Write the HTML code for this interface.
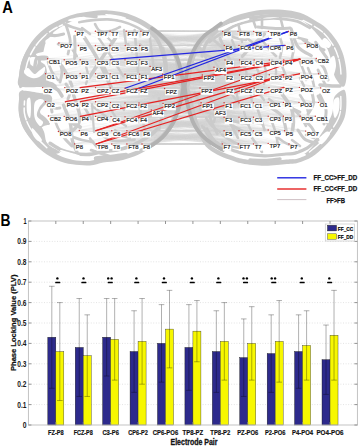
<!DOCTYPE html>
<html><head><meta charset="utf-8"><style>
html,body{margin:0;padding:0;background:#fff;}
svg{display:block;font-family:"Liberation Sans",sans-serif;}
</style></head><body>
<svg width="359" height="446" viewBox="0 0 359 446">
<rect width="359" height="446" fill="#fff"/>
<defs><linearGradient id="mg" x1="0" y1="0" x2="359" y2="0" gradientUnits="userSpaceOnUse"><stop offset="0.28" stop-color="#fff" stop-opacity="0"/><stop offset="0.43" stop-color="#fff" stop-opacity="1"/><stop offset="0.63" stop-color="#fff" stop-opacity="1"/><stop offset="0.78" stop-color="#fff" stop-opacity="0"/></linearGradient><mask id="mm"><rect x="0" y="0" width="359" height="170" fill="url(#mg)"/></mask></defs><g stroke="#d2d2d2" stroke-width="0.3" stroke-opacity="0.55"><line x1="58.4" y1="131.4" x2="253.5" y2="130.8"/><line x1="47.6" y1="58.7" x2="318.4" y2="102.4"/><line x1="125.0" y1="116.8" x2="239.0" y2="130.8"/><line x1="47.6" y1="58.7" x2="268.2" y2="102.4"/><line x1="45.6" y1="101.7" x2="214.0" y2="67.3"/><line x1="95.5" y1="101.7" x2="268.2" y2="116.2"/><line x1="111.8" y1="144.0" x2="224.1" y2="117.2"/><line x1="45.6" y1="73.7" x2="239.5" y2="88.0"/><line x1="96.1" y1="144.0" x2="268.2" y2="130.0"/><line x1="64.5" y1="73.7" x2="318.4" y2="102.4"/><line x1="139.0" y1="116.8" x2="283.4" y2="102.4"/><line x1="95.4" y1="31.2" x2="254.2" y2="75.0"/><line x1="110.2" y1="73.7" x2="200.0" y2="88.0"/><line x1="110.0" y1="45.5" x2="225.0" y2="88.0"/><line x1="47.6" y1="58.7" x2="299.0" y2="102.4"/><line x1="110.2" y1="73.7" x2="283.8" y2="60.0"/><line x1="139.0" y1="116.8" x2="200.0" y2="88.0"/><line x1="75.3" y1="31.2" x2="300.2" y2="59.2"/><line x1="95.5" y1="59.7" x2="269.0" y2="87.6"/><line x1="111.8" y1="144.0" x2="239.0" y2="102.7"/><line x1="42.6" y1="87.6" x2="239.5" y2="59.9"/><line x1="58.4" y1="131.4" x2="200.0" y2="88.0"/><line x1="125.0" y1="88.3" x2="239.0" y2="45.4"/><line x1="80.1" y1="59.7" x2="269.3" y2="74.7"/><line x1="125.0" y1="74.3" x2="300.1" y2="116.2"/><line x1="125.0" y1="59.7" x2="253.7" y2="45.4"/><line x1="164.6" y1="88.5" x2="239.5" y2="75.0"/><line x1="139.8" y1="45.5" x2="239.5" y2="75.0"/><line x1="126.9" y1="130.7" x2="201.1" y2="102.7"/><line x1="80.1" y1="87.6" x2="202.3" y2="75.0"/><line x1="125.0" y1="59.7" x2="269.3" y2="60.0"/><line x1="139.0" y1="116.8" x2="268.2" y2="143.4"/><line x1="142.0" y1="130.7" x2="299.0" y2="102.4"/><line x1="111.8" y1="130.7" x2="268.2" y2="130.0"/><line x1="110.1" y1="31.2" x2="224.3" y2="45.4"/><line x1="95.5" y1="87.6" x2="200.0" y2="88.0"/><line x1="80.1" y1="59.7" x2="318.5" y2="73.8"/><line x1="126.9" y1="130.7" x2="305.7" y2="131.1"/><line x1="110.2" y1="73.7" x2="222.6" y2="31.4"/><line x1="142.0" y1="130.7" x2="268.2" y2="130.0"/><line x1="110.2" y1="73.7" x2="202.3" y2="75.0"/><line x1="64.5" y1="73.7" x2="268.2" y2="102.4"/><line x1="45.6" y1="101.7" x2="224.1" y2="117.2"/><line x1="125.0" y1="116.8" x2="239.0" y2="102.7"/><line x1="65.4" y1="101.7" x2="254.2" y2="88.0"/><line x1="80.1" y1="87.6" x2="284.0" y2="87.4"/><line x1="95.5" y1="116.4" x2="283.4" y2="116.2"/><line x1="80.1" y1="87.6" x2="283.8" y2="60.0"/><line x1="95.8" y1="130.7" x2="224.1" y2="130.8"/><line x1="45.6" y1="73.7" x2="239.0" y2="102.7"/><line x1="125.0" y1="103.0" x2="225.0" y2="88.0"/><line x1="126.9" y1="130.7" x2="300.1" y2="116.2"/><line x1="80.4" y1="101.7" x2="239.0" y2="130.8"/><line x1="125.0" y1="88.3" x2="253.5" y2="117.2"/><line x1="142.0" y1="130.7" x2="289.0" y2="144.0"/><line x1="96.1" y1="144.0" x2="201.1" y2="102.7"/><line x1="125.0" y1="59.7" x2="305.2" y2="43.4"/><line x1="125.0" y1="59.7" x2="239.5" y2="88.0"/><line x1="151.3" y1="110.0" x2="299.4" y2="87.4"/><line x1="125.0" y1="74.3" x2="268.2" y2="116.2"/><line x1="126.9" y1="130.7" x2="238.3" y2="143.9"/><line x1="163.0" y1="103.4" x2="254.2" y2="75.0"/><line x1="64.5" y1="73.7" x2="200.0" y2="88.0"/><line x1="95.5" y1="59.7" x2="268.2" y2="102.4"/><line x1="42.6" y1="87.6" x2="225.0" y2="59.9"/><line x1="110.5" y1="102.5" x2="253.5" y2="143.9"/><line x1="95.8" y1="130.7" x2="300.1" y2="116.2"/><line x1="64.5" y1="73.7" x2="318.5" y2="73.8"/><line x1="150.1" y1="66.4" x2="299.4" y2="87.4"/><line x1="125.0" y1="74.3" x2="288.5" y2="31.4"/><line x1="80.4" y1="116.4" x2="202.3" y2="75.0"/><line x1="74.6" y1="143.9" x2="318.4" y2="102.4"/><line x1="95.4" y1="45.5" x2="200.0" y2="88.0"/><line x1="140.9" y1="31.2" x2="283.8" y2="74.7"/><line x1="163.0" y1="103.4" x2="284.0" y2="87.4"/><line x1="58.4" y1="131.4" x2="224.1" y2="117.2"/><line x1="80.1" y1="73.5" x2="315.3" y2="116.2"/><line x1="48.4" y1="115.9" x2="201.1" y2="102.7"/><line x1="48.4" y1="115.9" x2="318.4" y2="102.4"/><line x1="79.3" y1="130.5" x2="224.1" y2="102.7"/><line x1="110.2" y1="88.0" x2="224.1" y2="102.7"/><line x1="95.5" y1="116.4" x2="284.0" y2="87.4"/><line x1="42.6" y1="87.6" x2="285.1" y2="45.4"/><line x1="42.6" y1="87.6" x2="300.1" y2="116.2"/><line x1="142.0" y1="130.7" x2="201.1" y2="102.7"/><line x1="139.0" y1="88.3" x2="316.3" y2="58.4"/><line x1="139.0" y1="88.3" x2="239.0" y2="117.2"/><line x1="95.5" y1="101.7" x2="239.5" y2="88.0"/><line x1="95.5" y1="87.6" x2="269.3" y2="60.0"/><line x1="95.5" y1="87.6" x2="239.0" y2="45.4"/><line x1="64.2" y1="116.4" x2="213.8" y2="109.6"/><line x1="139.0" y1="88.3" x2="224.1" y2="130.8"/><line x1="64.2" y1="59.7" x2="299.0" y2="102.4"/><line x1="110.2" y1="88.0" x2="268.2" y2="102.4"/><line x1="142.0" y1="130.7" x2="253.5" y2="143.9"/><line x1="125.2" y1="45.5" x2="222.6" y2="31.4"/><line x1="74.6" y1="143.9" x2="238.3" y2="143.9"/><line x1="126.9" y1="130.7" x2="225.0" y2="88.0"/><line x1="139.0" y1="116.8" x2="268.2" y2="102.4"/><line x1="95.5" y1="73.7" x2="269.3" y2="60.0"/><line x1="95.5" y1="59.7" x2="254.2" y2="88.0"/><line x1="79.3" y1="130.5" x2="239.5" y2="88.0"/><line x1="95.5" y1="73.7" x2="269.0" y2="87.6"/><line x1="125.0" y1="116.8" x2="253.5" y2="117.2"/><line x1="164.6" y1="88.5" x2="253.5" y2="102.7"/><line x1="125.0" y1="59.7" x2="268.4" y2="31.4"/><line x1="95.4" y1="31.2" x2="225.0" y2="59.9"/><line x1="150.1" y1="66.4" x2="268.4" y2="31.4"/><line x1="95.5" y1="59.7" x2="299.4" y2="73.8"/><line x1="126.9" y1="144.0" x2="300.1" y2="116.2"/><line x1="80.1" y1="73.5" x2="283.4" y2="102.4"/><line x1="80.4" y1="116.4" x2="239.5" y2="75.0"/><line x1="139.8" y1="45.5" x2="202.3" y2="75.0"/><line x1="139.0" y1="88.3" x2="254.2" y2="75.0"/><line x1="110.0" y1="45.5" x2="224.3" y2="45.4"/><line x1="48.4" y1="115.9" x2="225.0" y2="75.0"/><line x1="151.3" y1="110.0" x2="253.5" y2="130.8"/><line x1="110.2" y1="88.0" x2="284.5" y2="130.7"/><line x1="125.0" y1="88.3" x2="299.4" y2="87.4"/><line x1="110.1" y1="31.2" x2="214.0" y2="67.3"/><line x1="164.6" y1="88.5" x2="239.0" y2="102.7"/><line x1="65.4" y1="101.7" x2="283.8" y2="74.7"/><line x1="125.0" y1="74.3" x2="225.0" y2="88.0"/><line x1="80.1" y1="73.5" x2="288.5" y2="31.4"/><line x1="111.8" y1="130.7" x2="238.3" y2="143.9"/><line x1="64.5" y1="73.7" x2="300.1" y2="116.2"/><line x1="125.2" y1="45.5" x2="225.0" y2="59.9"/><line x1="95.5" y1="116.4" x2="239.5" y2="88.0"/><line x1="110.5" y1="102.5" x2="268.2" y2="116.2"/><line x1="150.1" y1="66.4" x2="238.0" y2="31.4"/><line x1="125.0" y1="74.3" x2="224.1" y2="117.2"/><line x1="64.2" y1="59.7" x2="202.3" y2="75.0"/><line x1="80.1" y1="59.7" x2="299.0" y2="102.4"/><line x1="65.4" y1="101.7" x2="283.8" y2="60.0"/><line x1="111.0" y1="116.6" x2="238.3" y2="143.9"/><line x1="163.0" y1="103.4" x2="225.0" y2="75.0"/><line x1="79.3" y1="130.5" x2="268.2" y2="143.4"/><line x1="125.0" y1="88.3" x2="316.3" y2="58.4"/><line x1="110.2" y1="88.0" x2="269.3" y2="60.0"/><line x1="111.8" y1="144.0" x2="224.1" y2="130.8"/><line x1="126.9" y1="144.0" x2="253.5" y2="117.2"/><line x1="125.0" y1="88.3" x2="239.0" y2="117.2"/><line x1="125.0" y1="88.3" x2="200.0" y2="88.0"/><line x1="95.5" y1="73.7" x2="238.0" y2="31.4"/><line x1="139.8" y1="45.5" x2="238.0" y2="31.4"/><line x1="111.8" y1="144.0" x2="268.2" y2="130.0"/><line x1="111.0" y1="116.6" x2="222.3" y2="143.9"/><line x1="150.1" y1="66.4" x2="320.7" y2="87.9"/><line x1="45.6" y1="73.7" x2="225.0" y2="75.0"/><line x1="139.0" y1="103.0" x2="268.2" y2="130.0"/><line x1="139.6" y1="59.7" x2="225.0" y2="88.0"/><line x1="110.2" y1="73.7" x2="268.2" y2="116.2"/><line x1="139.0" y1="88.3" x2="239.5" y2="75.0"/><line x1="95.5" y1="101.7" x2="225.0" y2="59.9"/><line x1="111.0" y1="116.6" x2="318.5" y2="73.8"/><line x1="80.1" y1="87.6" x2="269.3" y2="74.7"/><line x1="162.6" y1="74.3" x2="269.3" y2="60.0"/><line x1="95.5" y1="73.7" x2="268.4" y2="31.4"/><line x1="139.0" y1="116.8" x2="239.0" y2="102.7"/><line x1="45.6" y1="73.7" x2="224.3" y2="45.4"/><line x1="110.5" y1="102.5" x2="268.2" y2="130.0"/><line x1="111.8" y1="130.7" x2="268.2" y2="143.4"/><line x1="64.8" y1="87.6" x2="239.5" y2="88.0"/><line x1="95.8" y1="130.7" x2="269.0" y2="87.6"/><line x1="126.2" y1="31.2" x2="268.4" y2="31.4"/><line x1="163.0" y1="103.4" x2="299.0" y2="102.4"/><line x1="80.1" y1="87.6" x2="299.4" y2="87.4"/><line x1="163.0" y1="103.4" x2="239.5" y2="88.0"/><line x1="139.6" y1="59.7" x2="239.5" y2="59.9"/><line x1="78.4" y1="45.5" x2="283.8" y2="74.7"/><line x1="95.5" y1="73.7" x2="285.1" y2="45.4"/><line x1="110.2" y1="59.7" x2="299.0" y2="102.4"/><line x1="151.3" y1="110.0" x2="305.7" y2="131.1"/><line x1="139.8" y1="45.5" x2="239.5" y2="88.0"/><line x1="64.2" y1="59.7" x2="254.2" y2="59.9"/><line x1="45.6" y1="73.7" x2="238.0" y2="31.4"/><line x1="164.6" y1="88.5" x2="253.5" y2="117.2"/><line x1="95.4" y1="45.5" x2="283.8" y2="74.7"/><line x1="110.5" y1="102.5" x2="283.4" y2="102.4"/><line x1="65.4" y1="101.7" x2="299.0" y2="102.4"/><line x1="139.0" y1="88.3" x2="269.0" y2="87.6"/><line x1="150.1" y1="66.4" x2="225.0" y2="75.0"/><line x1="110.0" y1="45.5" x2="268.4" y2="31.4"/><line x1="95.5" y1="116.4" x2="289.0" y2="144.0"/><line x1="110.2" y1="88.0" x2="283.4" y2="116.2"/><line x1="162.6" y1="74.3" x2="222.6" y2="31.4"/><line x1="95.5" y1="101.7" x2="299.0" y2="102.4"/><line x1="125.0" y1="103.0" x2="283.8" y2="74.7"/><line x1="110.0" y1="45.5" x2="239.5" y2="59.9"/><line x1="80.1" y1="59.7" x2="284.0" y2="87.4"/><line x1="48.4" y1="115.9" x2="269.0" y2="87.6"/><line x1="95.5" y1="87.6" x2="283.8" y2="74.7"/><line x1="139.0" y1="116.8" x2="299.0" y2="102.4"/><line x1="80.1" y1="59.7" x2="201.1" y2="102.7"/><line x1="64.2" y1="59.7" x2="238.0" y2="31.4"/><line x1="80.4" y1="116.4" x2="283.4" y2="116.2"/><line x1="163.0" y1="103.4" x2="238.3" y2="143.9"/><line x1="111.8" y1="130.7" x2="284.0" y2="87.4"/><line x1="95.5" y1="116.4" x2="269.0" y2="87.6"/><line x1="65.4" y1="101.7" x2="299.4" y2="73.8"/><line x1="47.6" y1="58.7" x2="269.3" y2="60.0"/><line x1="162.6" y1="74.3" x2="299.0" y2="102.4"/><line x1="95.4" y1="31.2" x2="239.5" y2="59.9"/><line x1="64.5" y1="73.7" x2="284.0" y2="87.4"/><line x1="125.0" y1="116.8" x2="268.2" y2="116.2"/><line x1="64.8" y1="87.6" x2="224.3" y2="45.4"/><line x1="110.5" y1="102.5" x2="222.3" y2="143.9"/><line x1="80.1" y1="73.5" x2="299.4" y2="73.8"/><line x1="95.5" y1="73.7" x2="254.2" y2="75.0"/><line x1="126.9" y1="130.7" x2="315.3" y2="116.2"/><line x1="110.5" y1="102.5" x2="239.5" y2="59.9"/><line x1="95.5" y1="59.7" x2="283.8" y2="60.0"/><line x1="48.4" y1="115.9" x2="222.3" y2="143.9"/><line x1="95.4" y1="45.5" x2="225.0" y2="88.0"/><line x1="47.6" y1="58.7" x2="269.3" y2="74.7"/><line x1="80.4" y1="101.7" x2="254.2" y2="59.9"/><line x1="64.5" y1="73.7" x2="268.2" y2="116.2"/><line x1="78.4" y1="45.5" x2="300.2" y2="59.2"/><line x1="80.1" y1="87.6" x2="269.0" y2="87.6"/><line x1="139.0" y1="103.0" x2="305.7" y2="131.1"/><line x1="111.0" y1="116.6" x2="225.0" y2="88.0"/><line x1="95.5" y1="59.7" x2="238.0" y2="31.4"/><line x1="58.4" y1="131.4" x2="253.5" y2="117.2"/><line x1="151.3" y1="110.0" x2="283.8" y2="74.7"/><line x1="125.0" y1="74.3" x2="283.4" y2="102.4"/><line x1="78.4" y1="45.5" x2="239.5" y2="59.9"/><line x1="64.8" y1="87.6" x2="253.7" y2="45.4"/><line x1="95.5" y1="116.4" x2="320.7" y2="87.9"/><line x1="95.5" y1="87.6" x2="254.2" y2="88.0"/><line x1="95.5" y1="116.4" x2="238.3" y2="143.9"/><line x1="110.0" y1="45.5" x2="300.2" y2="59.2"/><line x1="80.1" y1="87.6" x2="254.2" y2="59.9"/><line x1="139.0" y1="116.8" x2="238.3" y2="143.9"/><line x1="110.2" y1="73.7" x2="283.8" y2="74.7"/><line x1="64.8" y1="87.6" x2="268.4" y2="45.4"/><line x1="78.4" y1="45.5" x2="305.2" y2="43.4"/><line x1="80.4" y1="116.4" x2="284.0" y2="87.4"/><line x1="111.0" y1="116.6" x2="253.5" y2="130.8"/><line x1="125.2" y1="45.5" x2="320.7" y2="87.9"/><line x1="80.4" y1="101.7" x2="283.4" y2="116.2"/><line x1="139.0" y1="103.0" x2="201.1" y2="102.7"/><line x1="110.2" y1="88.0" x2="224.3" y2="45.4"/><line x1="110.2" y1="88.0" x2="299.4" y2="73.8"/><line x1="139.0" y1="88.3" x2="224.1" y2="117.2"/><line x1="80.1" y1="59.7" x2="283.4" y2="102.4"/><line x1="79.3" y1="130.5" x2="222.3" y2="143.9"/><line x1="139.0" y1="88.3" x2="305.2" y2="43.4"/><line x1="80.1" y1="73.5" x2="239.0" y2="117.2"/><line x1="111.0" y1="116.6" x2="284.5" y2="130.7"/><line x1="139.0" y1="116.8" x2="222.3" y2="143.9"/><line x1="142.0" y1="144.0" x2="239.0" y2="102.7"/><line x1="79.3" y1="130.5" x2="253.5" y2="102.7"/><line x1="96.1" y1="144.0" x2="300.1" y2="116.2"/><line x1="47.6" y1="58.7" x2="214.0" y2="67.3"/><line x1="111.8" y1="144.0" x2="283.4" y2="102.4"/><line x1="126.2" y1="31.2" x2="253.7" y2="31.4"/><line x1="64.5" y1="73.7" x2="225.0" y2="59.9"/><line x1="95.5" y1="87.6" x2="316.3" y2="58.4"/><line x1="95.5" y1="59.7" x2="239.5" y2="75.0"/><line x1="42.6" y1="87.6" x2="213.8" y2="109.6"/><line x1="79.3" y1="130.5" x2="253.5" y2="143.9"/><line x1="65.4" y1="101.7" x2="299.4" y2="87.4"/><line x1="139.6" y1="59.7" x2="253.7" y2="45.4"/><line x1="48.4" y1="115.9" x2="200.0" y2="88.0"/><line x1="125.0" y1="103.0" x2="289.0" y2="144.0"/><line x1="95.5" y1="59.7" x2="318.5" y2="73.8"/><line x1="95.5" y1="116.4" x2="253.5" y2="117.2"/><line x1="111.8" y1="130.7" x2="213.8" y2="109.6"/><line x1="74.6" y1="143.9" x2="300.1" y2="116.2"/><line x1="139.6" y1="74.3" x2="200.0" y2="88.0"/><line x1="151.3" y1="110.0" x2="253.5" y2="143.9"/><line x1="64.8" y1="87.6" x2="239.0" y2="117.2"/><line x1="45.6" y1="73.7" x2="300.2" y2="59.2"/><line x1="139.6" y1="74.3" x2="269.0" y2="87.6"/><line x1="110.0" y1="45.5" x2="320.7" y2="87.9"/><line x1="150.1" y1="66.4" x2="299.0" y2="102.4"/><line x1="48.4" y1="115.9" x2="213.8" y2="109.6"/><line x1="80.1" y1="73.5" x2="269.3" y2="74.7"/><line x1="95.4" y1="45.5" x2="254.2" y2="59.9"/><line x1="47.6" y1="58.7" x2="316.3" y2="58.4"/><line x1="64.2" y1="59.7" x2="318.4" y2="102.4"/><line x1="110.5" y1="102.5" x2="283.8" y2="74.7"/><line x1="80.4" y1="101.7" x2="239.5" y2="75.0"/><line x1="110.5" y1="102.5" x2="253.5" y2="102.7"/><line x1="110.2" y1="88.0" x2="213.8" y2="109.6"/><line x1="125.0" y1="59.7" x2="239.5" y2="59.9"/><line x1="79.3" y1="130.5" x2="300.1" y2="116.2"/><line x1="65.4" y1="101.7" x2="289.0" y2="144.0"/><line x1="58.9" y1="42.9" x2="225.0" y2="59.9"/><line x1="95.5" y1="116.4" x2="224.1" y2="130.8"/><line x1="75.3" y1="31.2" x2="222.6" y2="31.4"/><line x1="95.5" y1="59.7" x2="299.0" y2="102.4"/><line x1="125.0" y1="88.3" x2="284.5" y2="130.7"/><line x1="95.5" y1="101.7" x2="318.5" y2="73.8"/><line x1="110.0" y1="45.5" x2="269.0" y2="87.6"/><line x1="164.6" y1="88.5" x2="318.5" y2="73.8"/><line x1="45.6" y1="73.7" x2="254.2" y2="75.0"/><line x1="64.2" y1="116.4" x2="224.1" y2="130.8"/><line x1="125.2" y1="45.5" x2="202.3" y2="75.0"/><line x1="80.4" y1="101.7" x2="202.3" y2="75.0"/><line x1="47.6" y1="58.7" x2="253.7" y2="31.4"/><line x1="80.1" y1="73.5" x2="316.3" y2="58.4"/><line x1="125.0" y1="103.0" x2="239.5" y2="88.0"/><line x1="64.5" y1="73.7" x2="224.3" y2="45.4"/><line x1="80.4" y1="116.4" x2="269.3" y2="74.7"/><line x1="64.8" y1="87.6" x2="318.5" y2="73.8"/><line x1="80.1" y1="87.6" x2="239.5" y2="59.9"/><line x1="95.4" y1="45.5" x2="225.0" y2="75.0"/><line x1="139.0" y1="88.3" x2="239.5" y2="59.9"/><line x1="139.8" y1="45.5" x2="268.4" y2="45.4"/><line x1="111.8" y1="144.0" x2="201.1" y2="102.7"/><line x1="75.3" y1="31.2" x2="225.0" y2="75.0"/><line x1="45.6" y1="101.7" x2="284.0" y2="87.4"/><line x1="80.4" y1="116.4" x2="213.8" y2="109.6"/><line x1="151.3" y1="110.0" x2="213.8" y2="109.6"/><line x1="95.5" y1="87.6" x2="225.0" y2="59.9"/><line x1="58.9" y1="42.9" x2="269.3" y2="60.0"/><line x1="163.0" y1="103.4" x2="283.4" y2="116.2"/><line x1="95.5" y1="116.4" x2="283.8" y2="74.7"/><line x1="150.1" y1="66.4" x2="269.0" y2="87.6"/><line x1="42.6" y1="87.6" x2="315.3" y2="116.2"/><line x1="95.5" y1="59.7" x2="269.3" y2="74.7"/><line x1="162.6" y1="74.3" x2="253.5" y2="102.7"/><line x1="125.0" y1="59.7" x2="268.2" y2="102.4"/><line x1="45.6" y1="101.7" x2="300.1" y2="116.2"/><line x1="139.0" y1="88.3" x2="224.3" y2="45.4"/><line x1="78.4" y1="45.5" x2="254.2" y2="75.0"/><line x1="110.2" y1="88.0" x2="305.7" y2="131.1"/><line x1="142.0" y1="130.7" x2="305.7" y2="131.1"/><line x1="126.9" y1="130.7" x2="320.7" y2="87.9"/><line x1="64.2" y1="59.7" x2="253.7" y2="31.4"/><line x1="95.5" y1="116.4" x2="269.3" y2="74.7"/><line x1="42.6" y1="87.6" x2="253.7" y2="45.4"/><line x1="126.9" y1="130.7" x2="254.2" y2="88.0"/><line x1="80.4" y1="101.7" x2="318.4" y2="102.4"/><line x1="78.4" y1="45.5" x2="316.3" y2="58.4"/><line x1="58.9" y1="42.9" x2="285.1" y2="45.4"/><line x1="139.0" y1="116.8" x2="253.5" y2="143.9"/><line x1="47.6" y1="58.7" x2="284.0" y2="87.4"/><line x1="65.4" y1="101.7" x2="239.5" y2="88.0"/><line x1="64.5" y1="73.7" x2="224.1" y2="102.7"/><line x1="110.5" y1="102.5" x2="269.0" y2="87.6"/><line x1="95.5" y1="101.7" x2="299.4" y2="87.4"/><line x1="139.0" y1="88.3" x2="253.5" y2="117.2"/><line x1="164.6" y1="88.5" x2="253.5" y2="130.8"/><line x1="64.2" y1="116.4" x2="284.5" y2="130.7"/><line x1="64.5" y1="73.7" x2="224.1" y2="117.2"/><line x1="80.4" y1="101.7" x2="284.5" y2="130.7"/><line x1="139.6" y1="74.3" x2="254.2" y2="88.0"/><line x1="95.5" y1="59.7" x2="268.4" y2="31.4"/><line x1="58.4" y1="131.4" x2="284.5" y2="130.7"/><line x1="95.5" y1="87.6" x2="283.4" y2="116.2"/><line x1="139.0" y1="103.0" x2="254.2" y2="88.0"/><line x1="58.9" y1="42.9" x2="299.4" y2="87.4"/><line x1="140.9" y1="31.2" x2="305.2" y2="43.4"/><line x1="45.6" y1="73.7" x2="239.0" y2="117.2"/><line x1="95.5" y1="87.6" x2="239.5" y2="59.9"/><line x1="151.3" y1="110.0" x2="239.5" y2="88.0"/><line x1="95.5" y1="59.7" x2="222.6" y2="31.4"/><line x1="111.0" y1="116.6" x2="253.5" y2="102.7"/><line x1="48.4" y1="115.9" x2="253.5" y2="102.7"/><line x1="79.3" y1="130.5" x2="284.5" y2="130.7"/><line x1="110.5" y1="102.5" x2="254.2" y2="88.0"/><line x1="65.4" y1="101.7" x2="238.3" y2="143.9"/><line x1="139.0" y1="116.8" x2="224.1" y2="117.2"/><line x1="150.1" y1="66.4" x2="299.4" y2="73.8"/><line x1="64.5" y1="73.7" x2="283.8" y2="60.0"/><line x1="125.2" y1="45.5" x2="253.7" y2="45.4"/><line x1="95.5" y1="73.7" x2="201.1" y2="102.7"/><line x1="139.6" y1="59.7" x2="214.0" y2="67.3"/><line x1="125.0" y1="103.0" x2="224.1" y2="130.8"/><line x1="110.2" y1="73.7" x2="269.0" y2="87.6"/><line x1="58.4" y1="131.4" x2="201.1" y2="102.7"/><line x1="140.9" y1="31.2" x2="222.6" y2="31.4"/><line x1="139.0" y1="88.3" x2="300.2" y2="59.2"/><line x1="164.6" y1="88.5" x2="254.2" y2="59.9"/><line x1="139.0" y1="116.8" x2="201.1" y2="102.7"/><line x1="125.0" y1="103.0" x2="284.0" y2="87.4"/><line x1="80.1" y1="59.7" x2="283.8" y2="60.0"/><line x1="110.5" y1="102.5" x2="315.3" y2="116.2"/><line x1="125.0" y1="103.0" x2="239.0" y2="102.7"/><line x1="125.0" y1="103.0" x2="283.4" y2="102.4"/><line x1="80.4" y1="116.4" x2="224.1" y2="117.2"/><line x1="140.9" y1="31.2" x2="299.4" y2="73.8"/><line x1="64.2" y1="59.7" x2="269.0" y2="87.6"/><line x1="125.0" y1="74.3" x2="299.0" y2="102.4"/><line x1="125.0" y1="74.3" x2="299.4" y2="73.8"/><line x1="126.9" y1="144.0" x2="224.1" y2="102.7"/><line x1="162.6" y1="74.3" x2="268.4" y2="45.4"/><line x1="64.8" y1="87.6" x2="254.2" y2="59.9"/><line x1="139.0" y1="116.8" x2="268.2" y2="116.2"/><line x1="58.4" y1="131.4" x2="239.0" y2="130.8"/><line x1="58.9" y1="42.9" x2="316.3" y2="58.4"/><line x1="126.2" y1="31.2" x2="299.4" y2="73.8"/><line x1="125.2" y1="45.5" x2="200.0" y2="88.0"/><line x1="125.0" y1="88.3" x2="315.3" y2="116.2"/><line x1="139.0" y1="103.0" x2="283.8" y2="60.0"/><line x1="125.0" y1="74.3" x2="283.8" y2="60.0"/><line x1="162.6" y1="74.3" x2="284.0" y2="87.4"/><line x1="110.2" y1="73.7" x2="225.0" y2="88.0"/><line x1="164.6" y1="88.5" x2="300.2" y2="59.2"/><line x1="80.1" y1="87.6" x2="269.3" y2="60.0"/><line x1="45.6" y1="73.7" x2="224.1" y2="117.2"/><line x1="95.5" y1="59.7" x2="283.8" y2="74.7"/><line x1="150.1" y1="66.4" x2="214.0" y2="67.3"/><line x1="139.0" y1="116.8" x2="224.1" y2="130.8"/><line x1="80.4" y1="101.7" x2="253.5" y2="117.2"/><line x1="142.0" y1="130.7" x2="254.2" y2="88.0"/><line x1="64.2" y1="59.7" x2="225.0" y2="75.0"/><line x1="125.2" y1="45.5" x2="268.4" y2="45.4"/><line x1="48.4" y1="115.9" x2="315.3" y2="116.2"/><line x1="139.0" y1="88.3" x2="224.1" y2="102.7"/><line x1="126.9" y1="144.0" x2="315.3" y2="116.2"/><line x1="110.1" y1="31.2" x2="239.5" y2="59.9"/><line x1="64.5" y1="73.7" x2="283.4" y2="116.2"/><line x1="42.6" y1="87.6" x2="214.0" y2="67.3"/><line x1="42.6" y1="87.6" x2="318.4" y2="102.4"/><line x1="95.8" y1="130.7" x2="305.7" y2="131.1"/><line x1="139.0" y1="103.0" x2="269.0" y2="87.6"/><line x1="126.9" y1="144.0" x2="239.0" y2="117.2"/><line x1="65.4" y1="101.7" x2="253.5" y2="102.7"/><line x1="80.1" y1="73.5" x2="254.2" y2="59.9"/><line x1="75.3" y1="31.2" x2="316.3" y2="58.4"/><line x1="95.5" y1="116.4" x2="224.1" y2="102.7"/><line x1="42.6" y1="87.6" x2="268.2" y2="102.4"/><line x1="139.0" y1="103.0" x2="268.2" y2="102.4"/><line x1="58.9" y1="42.9" x2="305.2" y2="43.4"/><line x1="95.5" y1="87.6" x2="239.0" y2="102.7"/><line x1="164.6" y1="88.5" x2="285.1" y2="45.4"/><line x1="80.4" y1="116.4" x2="239.0" y2="102.7"/><line x1="110.5" y1="102.5" x2="305.7" y2="131.1"/><line x1="111.8" y1="144.0" x2="239.0" y2="117.2"/><line x1="139.0" y1="88.3" x2="299.0" y2="102.4"/><line x1="74.6" y1="143.9" x2="283.4" y2="102.4"/><line x1="95.4" y1="45.5" x2="300.2" y2="59.2"/><line x1="110.2" y1="59.7" x2="305.2" y2="43.4"/><line x1="163.0" y1="103.4" x2="254.2" y2="59.9"/><line x1="126.9" y1="144.0" x2="222.3" y2="143.9"/><line x1="64.5" y1="73.7" x2="238.0" y2="31.4"/><line x1="80.1" y1="59.7" x2="300.2" y2="59.2"/><line x1="162.6" y1="74.3" x2="283.4" y2="116.2"/><line x1="110.2" y1="59.7" x2="238.0" y2="31.4"/><line x1="110.2" y1="73.7" x2="239.5" y2="59.9"/><line x1="45.6" y1="73.7" x2="202.3" y2="75.0"/><line x1="139.6" y1="74.3" x2="269.3" y2="74.7"/><line x1="139.6" y1="74.3" x2="224.1" y2="102.7"/><line x1="65.4" y1="101.7" x2="225.0" y2="75.0"/><line x1="80.4" y1="116.4" x2="320.7" y2="87.9"/><line x1="111.0" y1="116.6" x2="299.4" y2="87.4"/><line x1="80.4" y1="101.7" x2="213.8" y2="109.6"/><line x1="139.0" y1="103.0" x2="239.0" y2="117.2"/><line x1="110.2" y1="88.0" x2="284.0" y2="87.4"/><line x1="48.4" y1="115.9" x2="239.0" y2="130.8"/><line x1="95.5" y1="59.7" x2="300.2" y2="59.2"/><line x1="110.5" y1="102.5" x2="200.0" y2="88.0"/><line x1="65.4" y1="101.7" x2="239.5" y2="75.0"/><line x1="139.0" y1="103.0" x2="318.5" y2="73.8"/><line x1="45.6" y1="73.7" x2="284.0" y2="87.4"/><line x1="96.1" y1="144.0" x2="305.7" y2="131.1"/><line x1="139.6" y1="74.3" x2="268.4" y2="45.4"/><line x1="125.0" y1="74.3" x2="222.6" y2="31.4"/><line x1="80.4" y1="101.7" x2="225.0" y2="59.9"/><line x1="151.3" y1="110.0" x2="315.3" y2="116.2"/><line x1="45.6" y1="73.7" x2="253.7" y2="31.4"/><line x1="79.3" y1="130.5" x2="239.0" y2="102.7"/><line x1="125.0" y1="59.7" x2="300.2" y2="59.2"/><line x1="45.6" y1="101.7" x2="300.2" y2="59.2"/><line x1="47.6" y1="58.7" x2="200.0" y2="88.0"/><line x1="80.4" y1="101.7" x2="299.0" y2="102.4"/><line x1="110.5" y1="102.5" x2="239.0" y2="130.8"/><line x1="79.3" y1="130.5" x2="315.3" y2="116.2"/><line x1="125.0" y1="88.3" x2="239.5" y2="88.0"/><line x1="95.4" y1="31.2" x2="253.7" y2="45.4"/><line x1="74.6" y1="143.9" x2="239.0" y2="130.8"/><line x1="80.1" y1="73.5" x2="222.6" y2="31.4"/><line x1="140.9" y1="31.2" x2="239.5" y2="75.0"/><line x1="139.8" y1="45.5" x2="268.4" y2="31.4"/><line x1="139.0" y1="103.0" x2="300.1" y2="116.2"/><line x1="58.9" y1="42.9" x2="225.0" y2="75.0"/><line x1="142.0" y1="144.0" x2="213.8" y2="109.6"/><line x1="80.4" y1="101.7" x2="268.2" y2="130.0"/><line x1="80.1" y1="73.5" x2="202.3" y2="75.0"/><line x1="80.1" y1="59.7" x2="320.7" y2="87.9"/><line x1="125.0" y1="88.3" x2="268.2" y2="116.2"/><line x1="95.8" y1="130.7" x2="289.0" y2="144.0"/><line x1="126.2" y1="31.2" x2="253.7" y2="45.4"/><line x1="64.2" y1="116.4" x2="283.4" y2="102.4"/><line x1="151.3" y1="110.0" x2="254.2" y2="88.0"/><line x1="95.5" y1="73.7" x2="284.0" y2="87.4"/><line x1="95.5" y1="101.7" x2="254.2" y2="75.0"/><line x1="95.5" y1="59.7" x2="225.0" y2="88.0"/><line x1="80.1" y1="87.6" x2="253.5" y2="117.2"/><line x1="140.9" y1="31.2" x2="202.3" y2="75.0"/><line x1="163.0" y1="103.4" x2="299.4" y2="73.8"/><line x1="64.8" y1="87.6" x2="253.5" y2="130.8"/><line x1="95.5" y1="101.7" x2="214.0" y2="67.3"/><line x1="139.0" y1="103.0" x2="238.3" y2="143.9"/><line x1="58.4" y1="131.4" x2="253.5" y2="143.9"/><line x1="95.5" y1="59.7" x2="254.2" y2="75.0"/><line x1="64.2" y1="59.7" x2="268.4" y2="45.4"/><line x1="110.2" y1="73.7" x2="284.0" y2="87.4"/><line x1="95.4" y1="45.5" x2="253.7" y2="31.4"/><line x1="110.5" y1="102.5" x2="224.1" y2="102.7"/><line x1="111.8" y1="144.0" x2="300.1" y2="116.2"/><line x1="125.0" y1="88.3" x2="269.3" y2="74.7"/><line x1="110.2" y1="59.7" x2="283.4" y2="102.4"/><line x1="111.0" y1="116.6" x2="224.1" y2="117.2"/><line x1="95.5" y1="73.7" x2="288.5" y2="31.4"/><line x1="45.6" y1="73.7" x2="268.4" y2="31.4"/><line x1="164.6" y1="88.5" x2="284.5" y2="130.7"/><line x1="58.4" y1="131.4" x2="224.1" y2="130.8"/><line x1="110.1" y1="31.2" x2="305.2" y2="43.4"/><line x1="139.6" y1="59.7" x2="269.0" y2="87.6"/><line x1="125.2" y1="45.5" x2="268.4" y2="31.4"/><line x1="95.4" y1="31.2" x2="239.0" y2="45.4"/><line x1="78.4" y1="45.5" x2="268.4" y2="45.4"/><line x1="125.2" y1="45.5" x2="239.5" y2="59.9"/><line x1="125.0" y1="116.8" x2="269.3" y2="74.7"/><line x1="45.6" y1="101.7" x2="289.0" y2="144.0"/><line x1="64.8" y1="87.6" x2="283.4" y2="102.4"/><line x1="96.1" y1="144.0" x2="284.5" y2="130.7"/><line x1="45.6" y1="73.7" x2="269.0" y2="87.6"/><line x1="111.0" y1="116.6" x2="268.2" y2="130.0"/><line x1="164.6" y1="88.5" x2="239.0" y2="130.8"/><line x1="95.5" y1="116.4" x2="318.4" y2="102.4"/><line x1="95.5" y1="59.7" x2="299.4" y2="87.4"/><line x1="95.8" y1="130.7" x2="253.5" y2="143.9"/><line x1="64.2" y1="116.4" x2="269.3" y2="74.7"/><line x1="126.9" y1="130.7" x2="224.1" y2="130.8"/><line x1="95.4" y1="31.2" x2="253.7" y2="31.4"/><line x1="111.0" y1="116.6" x2="268.2" y2="143.4"/><line x1="95.5" y1="101.7" x2="213.8" y2="109.6"/><line x1="142.0" y1="144.0" x2="299.0" y2="102.4"/><line x1="125.0" y1="59.7" x2="225.0" y2="59.9"/><line x1="42.6" y1="87.6" x2="269.3" y2="60.0"/><line x1="95.5" y1="73.7" x2="225.0" y2="88.0"/><line x1="150.1" y1="66.4" x2="318.5" y2="73.8"/><line x1="95.4" y1="45.5" x2="268.4" y2="31.4"/><line x1="45.6" y1="101.7" x2="213.8" y2="109.6"/><line x1="64.2" y1="116.4" x2="289.0" y2="144.0"/><line x1="65.4" y1="101.7" x2="254.2" y2="59.9"/><line x1="139.6" y1="59.7" x2="300.2" y2="59.2"/><line x1="125.0" y1="59.7" x2="316.3" y2="58.4"/><line x1="162.6" y1="74.3" x2="300.2" y2="59.2"/><line x1="64.2" y1="116.4" x2="224.1" y2="117.2"/><line x1="95.5" y1="87.6" x2="283.4" y2="102.4"/><line x1="126.2" y1="31.2" x2="202.3" y2="75.0"/><line x1="125.0" y1="103.0" x2="239.0" y2="130.8"/><line x1="139.6" y1="59.7" x2="224.1" y2="102.7"/><line x1="125.0" y1="103.0" x2="269.3" y2="74.7"/><line x1="139.0" y1="116.8" x2="224.1" y2="102.7"/><line x1="163.0" y1="103.4" x2="268.2" y2="102.4"/><line x1="64.5" y1="73.7" x2="268.4" y2="31.4"/><line x1="48.4" y1="115.9" x2="299.4" y2="73.8"/><line x1="95.4" y1="31.2" x2="300.2" y2="59.2"/><line x1="64.2" y1="116.4" x2="320.7" y2="87.9"/><line x1="140.9" y1="31.2" x2="238.0" y2="31.4"/><line x1="125.0" y1="103.0" x2="239.0" y2="117.2"/><line x1="110.2" y1="73.7" x2="254.2" y2="59.9"/><line x1="95.8" y1="130.7" x2="299.4" y2="87.4"/><line x1="80.4" y1="116.4" x2="238.3" y2="143.9"/><line x1="163.0" y1="103.4" x2="318.5" y2="73.8"/><line x1="111.8" y1="144.0" x2="253.5" y2="130.8"/><line x1="125.0" y1="88.3" x2="254.2" y2="75.0"/><line x1="163.0" y1="103.4" x2="253.5" y2="102.7"/><line x1="110.2" y1="59.7" x2="283.8" y2="74.7"/><line x1="58.9" y1="42.9" x2="299.4" y2="73.8"/><line x1="125.0" y1="116.8" x2="318.5" y2="73.8"/><line x1="80.1" y1="87.6" x2="254.2" y2="88.0"/><line x1="95.5" y1="116.4" x2="254.2" y2="75.0"/><line x1="151.3" y1="110.0" x2="238.3" y2="143.9"/><line x1="142.0" y1="130.7" x2="239.0" y2="102.7"/><line x1="139.6" y1="74.3" x2="268.4" y2="31.4"/><line x1="110.5" y1="102.5" x2="268.2" y2="102.4"/><line x1="162.6" y1="74.3" x2="269.3" y2="74.7"/><line x1="110.1" y1="31.2" x2="254.2" y2="75.0"/><line x1="95.5" y1="73.7" x2="239.0" y2="102.7"/><line x1="125.0" y1="116.8" x2="318.4" y2="102.4"/><line x1="95.8" y1="130.7" x2="222.3" y2="143.9"/><line x1="125.0" y1="103.0" x2="254.2" y2="75.0"/><line x1="126.2" y1="31.2" x2="254.2" y2="59.9"/><line x1="110.2" y1="59.7" x2="254.2" y2="88.0"/><line x1="64.2" y1="116.4" x2="239.5" y2="88.0"/><line x1="45.6" y1="73.7" x2="253.7" y2="45.4"/><line x1="80.1" y1="87.6" x2="300.1" y2="116.2"/><line x1="95.5" y1="59.7" x2="239.5" y2="88.0"/><line x1="65.4" y1="101.7" x2="284.0" y2="87.4"/><line x1="64.8" y1="87.6" x2="320.7" y2="87.9"/><line x1="58.9" y1="42.9" x2="254.2" y2="75.0"/><line x1="125.0" y1="59.7" x2="284.0" y2="87.4"/><line x1="125.0" y1="103.0" x2="299.4" y2="87.4"/><line x1="80.1" y1="73.5" x2="253.5" y2="102.7"/><line x1="95.5" y1="101.7" x2="239.0" y2="102.7"/><line x1="125.0" y1="88.3" x2="285.1" y2="45.4"/><line x1="65.4" y1="101.7" x2="224.1" y2="102.7"/><line x1="139.0" y1="88.3" x2="239.0" y2="45.4"/><line x1="95.4" y1="45.5" x2="320.7" y2="87.9"/><line x1="110.2" y1="59.7" x2="299.4" y2="73.8"/><line x1="139.0" y1="88.3" x2="284.5" y2="130.7"/><line x1="142.0" y1="130.7" x2="283.4" y2="116.2"/><line x1="96.1" y1="144.0" x2="213.8" y2="109.6"/><line x1="95.5" y1="87.6" x2="300.2" y2="59.2"/><line x1="80.4" y1="101.7" x2="224.1" y2="102.7"/><line x1="47.6" y1="58.7" x2="318.5" y2="73.8"/><line x1="95.5" y1="73.7" x2="239.0" y2="117.2"/><line x1="139.6" y1="74.3" x2="225.0" y2="59.9"/><line x1="80.1" y1="59.7" x2="269.3" y2="60.0"/><line x1="64.5" y1="73.7" x2="239.5" y2="88.0"/><line x1="164.6" y1="88.5" x2="283.4" y2="116.2"/><line x1="80.1" y1="59.7" x2="239.5" y2="75.0"/><line x1="58.4" y1="131.4" x2="224.1" y2="102.7"/><line x1="162.6" y1="74.3" x2="239.5" y2="88.0"/><line x1="96.1" y1="144.0" x2="253.5" y2="102.7"/><line x1="79.3" y1="130.5" x2="253.5" y2="117.2"/><line x1="125.0" y1="103.0" x2="305.7" y2="131.1"/><line x1="151.3" y1="110.0" x2="320.7" y2="87.9"/><line x1="110.0" y1="45.5" x2="200.0" y2="88.0"/><line x1="95.4" y1="31.2" x2="239.5" y2="75.0"/><line x1="110.2" y1="73.7" x2="269.3" y2="74.7"/><line x1="65.4" y1="101.7" x2="300.2" y2="59.2"/><line x1="139.0" y1="88.3" x2="268.2" y2="130.0"/><line x1="95.4" y1="45.5" x2="285.1" y2="45.4"/><line x1="80.4" y1="116.4" x2="299.4" y2="73.8"/><line x1="45.6" y1="73.7" x2="283.4" y2="102.4"/><line x1="139.6" y1="59.7" x2="283.8" y2="74.7"/><line x1="163.0" y1="103.4" x2="269.0" y2="87.6"/><line x1="139.8" y1="45.5" x2="299.4" y2="87.4"/><line x1="139.6" y1="74.3" x2="253.5" y2="102.7"/><line x1="110.0" y1="45.5" x2="253.7" y2="31.4"/><line x1="125.0" y1="59.7" x2="283.4" y2="102.4"/><line x1="64.2" y1="59.7" x2="268.4" y2="31.4"/><line x1="151.3" y1="110.0" x2="254.2" y2="75.0"/><line x1="80.1" y1="73.5" x2="318.4" y2="102.4"/><line x1="58.9" y1="42.9" x2="254.2" y2="59.9"/><line x1="139.8" y1="45.5" x2="239.0" y2="45.4"/><line x1="110.2" y1="59.7" x2="239.0" y2="102.7"/><line x1="80.1" y1="87.6" x2="253.7" y2="45.4"/><line x1="111.8" y1="130.7" x2="239.0" y2="102.7"/><line x1="95.5" y1="73.7" x2="299.0" y2="102.4"/><line x1="64.2" y1="59.7" x2="239.0" y2="45.4"/><line x1="95.5" y1="59.7" x2="318.4" y2="102.4"/><line x1="75.3" y1="31.2" x2="239.0" y2="45.4"/><line x1="95.5" y1="101.7" x2="300.2" y2="59.2"/><line x1="125.0" y1="88.3" x2="268.2" y2="102.4"/><line x1="163.0" y1="103.4" x2="201.1" y2="102.7"/><line x1="110.2" y1="73.7" x2="268.4" y2="45.4"/><line x1="95.5" y1="116.4" x2="213.8" y2="109.6"/><line x1="142.0" y1="130.7" x2="284.5" y2="130.7"/><line x1="65.4" y1="101.7" x2="213.8" y2="109.6"/><line x1="65.4" y1="101.7" x2="268.2" y2="116.2"/><line x1="164.6" y1="88.5" x2="224.1" y2="117.2"/><line x1="125.0" y1="116.8" x2="239.5" y2="88.0"/><line x1="126.9" y1="144.0" x2="239.0" y2="102.7"/><line x1="111.8" y1="144.0" x2="268.2" y2="116.2"/><line x1="125.0" y1="88.3" x2="239.0" y2="130.8"/><line x1="140.9" y1="31.2" x2="224.3" y2="45.4"/><line x1="111.0" y1="116.6" x2="305.7" y2="131.1"/><line x1="95.8" y1="130.7" x2="284.0" y2="87.4"/><line x1="95.5" y1="87.6" x2="253.5" y2="117.2"/><line x1="151.3" y1="110.0" x2="225.0" y2="75.0"/><line x1="45.6" y1="101.7" x2="224.1" y2="130.8"/><line x1="74.6" y1="143.9" x2="253.5" y2="143.9"/><line x1="139.0" y1="88.3" x2="268.4" y2="45.4"/><line x1="95.5" y1="59.7" x2="283.4" y2="102.4"/><line x1="140.9" y1="31.2" x2="239.5" y2="59.9"/><line x1="151.3" y1="110.0" x2="239.0" y2="102.7"/><line x1="125.0" y1="59.7" x2="268.4" y2="45.4"/><line x1="64.2" y1="59.7" x2="239.0" y2="102.7"/><line x1="74.6" y1="143.9" x2="268.2" y2="102.4"/><line x1="111.0" y1="116.6" x2="253.5" y2="117.2"/><line x1="110.5" y1="102.5" x2="239.0" y2="117.2"/><line x1="111.8" y1="144.0" x2="268.2" y2="102.4"/><line x1="125.0" y1="116.8" x2="254.2" y2="88.0"/><line x1="150.1" y1="66.4" x2="288.5" y2="31.4"/><line x1="125.2" y1="45.5" x2="224.3" y2="45.4"/><line x1="95.5" y1="59.7" x2="316.3" y2="58.4"/><line x1="126.2" y1="31.2" x2="300.2" y2="59.2"/><line x1="125.0" y1="88.3" x2="224.1" y2="130.8"/><line x1="139.6" y1="74.3" x2="299.4" y2="73.8"/><line x1="139.6" y1="59.7" x2="200.0" y2="88.0"/><line x1="139.6" y1="59.7" x2="299.4" y2="87.4"/><line x1="125.0" y1="74.3" x2="213.8" y2="109.6"/><line x1="58.9" y1="42.9" x2="268.4" y2="45.4"/><line x1="47.6" y1="58.7" x2="225.0" y2="75.0"/><line x1="95.5" y1="73.7" x2="300.2" y2="59.2"/><line x1="42.6" y1="87.6" x2="283.8" y2="60.0"/><line x1="80.1" y1="59.7" x2="222.6" y2="31.4"/><line x1="80.4" y1="116.4" x2="318.4" y2="102.4"/><line x1="95.5" y1="116.4" x2="239.0" y2="102.7"/><line x1="139.0" y1="103.0" x2="225.0" y2="59.9"/><line x1="126.9" y1="144.0" x2="253.5" y2="143.9"/><line x1="47.6" y1="58.7" x2="254.2" y2="75.0"/><line x1="45.6" y1="73.7" x2="239.5" y2="59.9"/><line x1="64.2" y1="59.7" x2="269.3" y2="60.0"/><line x1="139.0" y1="103.0" x2="224.1" y2="117.2"/><line x1="163.0" y1="103.4" x2="268.2" y2="143.4"/><line x1="150.1" y1="66.4" x2="284.0" y2="87.4"/><line x1="64.8" y1="87.6" x2="305.2" y2="43.4"/><line x1="74.6" y1="143.9" x2="268.2" y2="116.2"/><line x1="45.6" y1="101.7" x2="238.3" y2="143.9"/></g><g mask="url(#mm)" stroke="#d0d0d0" stroke-width="0.35" stroke-opacity="0.75"><line x1="80.1" y1="87.6" x2="254.2" y2="88.0"/><line x1="110.2" y1="73.7" x2="239.5" y2="75.0"/><line x1="164.6" y1="88.5" x2="200.0" y2="88.0"/><line x1="125.0" y1="74.3" x2="225.0" y2="59.9"/><line x1="95.4" y1="31.2" x2="222.6" y2="31.4"/><line x1="139.8" y1="45.5" x2="253.7" y2="31.4"/><line x1="110.2" y1="59.7" x2="299.4" y2="73.8"/><line x1="162.6" y1="74.3" x2="269.3" y2="60.0"/><line x1="139.6" y1="59.7" x2="225.0" y2="59.9"/><line x1="110.0" y1="45.5" x2="253.7" y2="45.4"/><line x1="64.2" y1="59.7" x2="239.0" y2="45.4"/><line x1="139.8" y1="45.5" x2="222.6" y2="31.4"/><line x1="65.4" y1="101.7" x2="213.8" y2="109.6"/><line x1="74.6" y1="143.9" x2="284.5" y2="130.7"/><line x1="95.4" y1="45.5" x2="268.4" y2="31.4"/><line x1="125.0" y1="88.3" x2="254.2" y2="75.0"/><line x1="139.6" y1="74.3" x2="225.0" y2="75.0"/><line x1="139.0" y1="116.8" x2="299.0" y2="102.4"/><line x1="150.1" y1="66.4" x2="269.3" y2="74.7"/><line x1="95.4" y1="45.5" x2="300.2" y2="59.2"/><line x1="95.5" y1="59.7" x2="300.2" y2="59.2"/><line x1="110.2" y1="59.7" x2="239.5" y2="59.9"/><line x1="142.0" y1="144.0" x2="253.5" y2="143.9"/><line x1="125.0" y1="116.8" x2="201.1" y2="102.7"/><line x1="151.3" y1="110.0" x2="213.8" y2="109.6"/><line x1="125.2" y1="45.5" x2="222.6" y2="31.4"/><line x1="140.9" y1="31.2" x2="288.5" y2="31.4"/><line x1="111.8" y1="144.0" x2="253.5" y2="130.8"/><line x1="110.2" y1="59.7" x2="269.3" y2="74.7"/><line x1="80.1" y1="87.6" x2="239.0" y2="102.7"/><line x1="139.6" y1="74.3" x2="284.0" y2="87.4"/><line x1="65.4" y1="101.7" x2="200.0" y2="88.0"/><line x1="95.4" y1="45.5" x2="285.1" y2="45.4"/><line x1="80.4" y1="101.7" x2="213.8" y2="109.6"/><line x1="80.1" y1="73.5" x2="239.5" y2="88.0"/><line x1="163.0" y1="103.4" x2="239.0" y2="102.7"/><line x1="110.5" y1="102.5" x2="254.2" y2="88.0"/><line x1="142.0" y1="144.0" x2="238.3" y2="143.9"/><line x1="139.0" y1="116.8" x2="201.1" y2="102.7"/><line x1="111.0" y1="116.6" x2="268.2" y2="130.0"/><line x1="139.0" y1="116.8" x2="300.1" y2="116.2"/><line x1="125.2" y1="45.5" x2="285.1" y2="45.4"/><line x1="65.4" y1="101.7" x2="299.0" y2="102.4"/><line x1="125.0" y1="59.7" x2="202.3" y2="75.0"/><line x1="95.8" y1="130.7" x2="222.3" y2="143.9"/><line x1="95.5" y1="87.6" x2="225.0" y2="88.0"/><line x1="95.5" y1="73.7" x2="225.0" y2="75.0"/><line x1="80.1" y1="87.6" x2="239.5" y2="88.0"/><line x1="110.2" y1="73.7" x2="239.5" y2="59.9"/><line x1="125.0" y1="103.0" x2="225.0" y2="88.0"/><line x1="162.6" y1="74.3" x2="214.0" y2="67.3"/><line x1="80.1" y1="73.5" x2="200.0" y2="88.0"/><line x1="64.5" y1="73.7" x2="284.0" y2="87.4"/><line x1="95.5" y1="73.7" x2="283.8" y2="60.0"/><line x1="110.2" y1="73.7" x2="269.0" y2="87.6"/><line x1="150.1" y1="66.4" x2="202.3" y2="75.0"/><line x1="110.2" y1="59.7" x2="300.2" y2="59.2"/><line x1="140.9" y1="31.2" x2="238.0" y2="31.4"/><line x1="95.5" y1="87.6" x2="299.4" y2="87.4"/><line x1="162.6" y1="74.3" x2="225.0" y2="59.9"/><line x1="64.2" y1="59.7" x2="214.0" y2="67.3"/><line x1="80.4" y1="101.7" x2="254.2" y2="88.0"/><line x1="111.8" y1="130.7" x2="268.2" y2="143.4"/><line x1="126.9" y1="130.7" x2="284.5" y2="130.7"/><line x1="79.3" y1="130.5" x2="283.4" y2="116.2"/><line x1="125.0" y1="116.8" x2="268.2" y2="102.4"/><line x1="110.5" y1="102.5" x2="268.2" y2="102.4"/><line x1="110.5" y1="102.5" x2="239.5" y2="88.0"/><line x1="80.1" y1="87.6" x2="283.4" y2="102.4"/><line x1="64.2" y1="116.4" x2="299.0" y2="102.4"/><line x1="125.0" y1="116.8" x2="284.5" y2="130.7"/><line x1="111.0" y1="116.6" x2="300.1" y2="116.2"/><line x1="150.1" y1="66.4" x2="225.0" y2="59.9"/><line x1="64.2" y1="59.7" x2="225.0" y2="75.0"/><line x1="139.0" y1="103.0" x2="268.2" y2="116.2"/><line x1="139.0" y1="116.8" x2="268.2" y2="130.0"/><line x1="95.4" y1="45.5" x2="254.2" y2="59.9"/><line x1="142.0" y1="144.0" x2="222.3" y2="143.9"/><line x1="80.4" y1="116.4" x2="268.2" y2="130.0"/><line x1="139.6" y1="74.3" x2="299.4" y2="73.8"/><line x1="111.0" y1="116.6" x2="224.1" y2="117.2"/><line x1="64.2" y1="116.4" x2="268.2" y2="116.2"/><line x1="80.4" y1="116.4" x2="268.2" y2="102.4"/><line x1="64.5" y1="73.7" x2="225.0" y2="88.0"/><line x1="110.2" y1="59.7" x2="254.2" y2="75.0"/><line x1="125.0" y1="103.0" x2="268.2" y2="102.4"/><line x1="110.0" y1="45.5" x2="268.4" y2="45.4"/><line x1="80.4" y1="116.4" x2="283.4" y2="102.4"/><line x1="80.1" y1="73.5" x2="225.0" y2="75.0"/><line x1="95.5" y1="73.7" x2="239.5" y2="59.9"/><line x1="95.5" y1="73.7" x2="239.5" y2="88.0"/><line x1="126.2" y1="31.2" x2="238.0" y2="31.4"/><line x1="110.1" y1="31.2" x2="288.5" y2="31.4"/><line x1="151.3" y1="110.0" x2="239.0" y2="117.2"/><line x1="139.0" y1="116.8" x2="239.0" y2="130.8"/><line x1="162.6" y1="74.3" x2="239.5" y2="75.0"/><line x1="80.1" y1="59.7" x2="214.0" y2="67.3"/><line x1="139.0" y1="88.3" x2="269.0" y2="87.6"/><line x1="162.6" y1="74.3" x2="202.3" y2="75.0"/><line x1="95.5" y1="116.4" x2="239.0" y2="130.8"/><line x1="110.2" y1="59.7" x2="254.2" y2="59.9"/><line x1="95.5" y1="73.7" x2="200.0" y2="88.0"/><line x1="125.0" y1="59.7" x2="224.3" y2="45.4"/><line x1="80.1" y1="59.7" x2="254.2" y2="75.0"/><line x1="139.0" y1="116.8" x2="284.5" y2="130.7"/><line x1="162.6" y1="74.3" x2="225.0" y2="88.0"/><line x1="125.0" y1="74.3" x2="202.3" y2="75.0"/><line x1="64.8" y1="87.6" x2="283.4" y2="102.4"/><line x1="139.6" y1="74.3" x2="269.3" y2="60.0"/><line x1="139.6" y1="59.7" x2="269.3" y2="74.7"/><line x1="125.0" y1="116.8" x2="213.8" y2="109.6"/><line x1="110.0" y1="45.5" x2="268.4" y2="31.4"/><line x1="111.8" y1="144.0" x2="253.5" y2="143.9"/><line x1="142.0" y1="130.7" x2="239.0" y2="117.2"/><line x1="139.0" y1="116.8" x2="224.1" y2="130.8"/><line x1="80.1" y1="87.6" x2="299.0" y2="102.4"/><line x1="96.1" y1="144.0" x2="253.5" y2="130.8"/><line x1="125.0" y1="59.7" x2="269.3" y2="74.7"/><line x1="111.8" y1="130.7" x2="222.3" y2="143.9"/><line x1="110.2" y1="73.7" x2="299.4" y2="73.8"/><line x1="80.1" y1="87.6" x2="253.5" y2="102.7"/><line x1="111.8" y1="130.7" x2="253.5" y2="130.8"/><line x1="80.1" y1="87.6" x2="200.0" y2="88.0"/><line x1="163.0" y1="103.4" x2="268.2" y2="102.4"/><line x1="95.5" y1="59.7" x2="214.0" y2="67.3"/><line x1="110.5" y1="102.5" x2="224.1" y2="117.2"/><line x1="125.0" y1="59.7" x2="253.7" y2="45.4"/><line x1="64.5" y1="73.7" x2="225.0" y2="75.0"/><line x1="125.0" y1="116.8" x2="253.5" y2="130.8"/><line x1="125.0" y1="103.0" x2="284.0" y2="87.4"/><line x1="74.6" y1="143.9" x2="268.2" y2="143.4"/><line x1="110.2" y1="59.7" x2="253.7" y2="45.4"/><line x1="164.6" y1="88.5" x2="225.0" y2="75.0"/><line x1="64.5" y1="73.7" x2="254.2" y2="88.0"/><line x1="162.6" y1="74.3" x2="225.0" y2="75.0"/><line x1="164.6" y1="88.5" x2="269.0" y2="87.6"/><line x1="139.0" y1="103.0" x2="239.5" y2="88.0"/><line x1="110.2" y1="88.0" x2="284.0" y2="87.4"/><line x1="78.4" y1="45.5" x2="253.7" y2="31.4"/><line x1="110.2" y1="73.7" x2="202.3" y2="75.0"/><line x1="163.0" y1="103.4" x2="253.5" y2="117.2"/><line x1="64.8" y1="87.6" x2="284.0" y2="87.4"/><line x1="125.0" y1="88.3" x2="268.2" y2="102.4"/><line x1="140.9" y1="31.2" x2="268.4" y2="45.4"/><line x1="139.6" y1="74.3" x2="254.2" y2="88.0"/><line x1="151.3" y1="110.0" x2="283.4" y2="116.2"/><line x1="110.2" y1="73.7" x2="254.2" y2="88.0"/><line x1="125.0" y1="59.7" x2="225.0" y2="59.9"/><line x1="111.8" y1="144.0" x2="284.5" y2="130.7"/><line x1="74.6" y1="143.9" x2="253.5" y2="143.9"/><line x1="139.0" y1="88.3" x2="283.8" y2="74.7"/><line x1="95.4" y1="31.2" x2="268.4" y2="31.4"/><line x1="125.0" y1="116.8" x2="268.2" y2="130.0"/><line x1="64.5" y1="73.7" x2="269.3" y2="60.0"/><line x1="111.0" y1="116.6" x2="283.4" y2="102.4"/><line x1="79.3" y1="130.5" x2="253.5" y2="130.8"/><line x1="125.2" y1="45.5" x2="239.5" y2="59.9"/><line x1="110.2" y1="59.7" x2="225.0" y2="75.0"/><line x1="139.0" y1="88.3" x2="224.1" y2="102.7"/><line x1="126.9" y1="130.7" x2="224.1" y2="117.2"/><line x1="163.0" y1="103.4" x2="283.4" y2="116.2"/><line x1="110.2" y1="59.7" x2="239.0" y2="45.4"/><line x1="95.4" y1="31.2" x2="239.0" y2="45.4"/><line x1="79.3" y1="130.5" x2="239.0" y2="130.8"/><line x1="163.0" y1="103.4" x2="224.1" y2="117.2"/><line x1="65.4" y1="101.7" x2="239.0" y2="117.2"/><line x1="142.0" y1="144.0" x2="289.0" y2="144.0"/><line x1="96.1" y1="144.0" x2="268.2" y2="130.0"/><line x1="95.5" y1="59.7" x2="254.2" y2="75.0"/><line x1="64.2" y1="116.4" x2="239.0" y2="117.2"/><line x1="139.0" y1="103.0" x2="239.0" y2="117.2"/><line x1="139.6" y1="74.3" x2="254.2" y2="59.9"/><line x1="142.0" y1="130.7" x2="253.5" y2="143.9"/><line x1="80.4" y1="116.4" x2="224.1" y2="130.8"/><line x1="142.0" y1="144.0" x2="253.5" y2="130.8"/><line x1="151.3" y1="110.0" x2="268.2" y2="102.4"/><line x1="163.0" y1="103.4" x2="225.0" y2="88.0"/><line x1="110.5" y1="102.5" x2="239.0" y2="117.2"/><line x1="80.4" y1="116.4" x2="239.0" y2="130.8"/><line x1="139.6" y1="74.3" x2="300.2" y2="59.2"/><line x1="150.1" y1="66.4" x2="269.3" y2="60.0"/><line x1="64.8" y1="87.6" x2="224.1" y2="102.7"/><line x1="64.2" y1="116.4" x2="253.5" y2="117.2"/><line x1="139.0" y1="116.8" x2="253.5" y2="102.7"/><line x1="79.3" y1="130.5" x2="224.1" y2="130.8"/><line x1="110.2" y1="73.7" x2="200.0" y2="88.0"/><line x1="95.8" y1="130.7" x2="268.2" y2="130.0"/><line x1="75.3" y1="31.2" x2="239.0" y2="45.4"/><line x1="125.0" y1="88.3" x2="299.0" y2="102.4"/><line x1="139.6" y1="59.7" x2="254.2" y2="75.0"/><line x1="110.2" y1="73.7" x2="214.0" y2="67.3"/><line x1="126.9" y1="144.0" x2="268.2" y2="143.4"/><line x1="95.8" y1="130.7" x2="224.1" y2="130.8"/><line x1="111.0" y1="116.6" x2="253.5" y2="117.2"/><line x1="139.0" y1="103.0" x2="224.1" y2="102.7"/><line x1="80.1" y1="73.5" x2="269.0" y2="87.6"/><line x1="111.0" y1="116.6" x2="253.5" y2="130.8"/><line x1="80.1" y1="59.7" x2="202.3" y2="75.0"/><line x1="110.5" y1="102.5" x2="201.1" y2="102.7"/><line x1="64.8" y1="87.6" x2="269.0" y2="87.6"/><line x1="64.8" y1="87.6" x2="239.0" y2="102.7"/><line x1="95.4" y1="45.5" x2="238.0" y2="31.4"/><line x1="96.1" y1="144.0" x2="238.3" y2="143.9"/><line x1="110.2" y1="59.7" x2="285.1" y2="45.4"/><line x1="139.0" y1="116.8" x2="224.1" y2="102.7"/><line x1="74.6" y1="143.9" x2="289.0" y2="144.0"/><line x1="139.0" y1="88.3" x2="239.5" y2="75.0"/><line x1="139.0" y1="88.3" x2="202.3" y2="75.0"/><line x1="125.0" y1="59.7" x2="269.3" y2="60.0"/><line x1="139.0" y1="116.8" x2="253.5" y2="130.8"/><line x1="142.0" y1="130.7" x2="224.1" y2="130.8"/><line x1="139.6" y1="59.7" x2="239.5" y2="75.0"/><line x1="139.8" y1="45.5" x2="238.0" y2="31.4"/><line x1="80.1" y1="73.5" x2="254.2" y2="59.9"/><line x1="125.0" y1="103.0" x2="253.5" y2="102.7"/><line x1="80.4" y1="101.7" x2="224.1" y2="102.7"/><line x1="95.5" y1="87.6" x2="224.1" y2="102.7"/><line x1="126.9" y1="130.7" x2="222.3" y2="143.9"/><line x1="80.4" y1="101.7" x2="284.0" y2="87.4"/><line x1="139.8" y1="45.5" x2="253.7" y2="45.4"/><line x1="80.1" y1="73.5" x2="254.2" y2="75.0"/><line x1="95.5" y1="73.7" x2="239.5" y2="75.0"/><line x1="78.4" y1="45.5" x2="238.0" y2="31.4"/><line x1="80.4" y1="101.7" x2="239.0" y2="102.7"/><line x1="126.2" y1="31.2" x2="222.6" y2="31.4"/><line x1="111.0" y1="116.6" x2="268.2" y2="102.4"/><line x1="139.6" y1="59.7" x2="253.7" y2="45.4"/><line x1="95.5" y1="73.7" x2="299.4" y2="73.8"/><line x1="65.4" y1="101.7" x2="224.1" y2="117.2"/><line x1="64.8" y1="87.6" x2="299.4" y2="87.4"/><line x1="95.5" y1="116.4" x2="253.5" y2="102.7"/><line x1="95.5" y1="59.7" x2="225.0" y2="75.0"/><line x1="95.5" y1="73.7" x2="254.2" y2="59.9"/><line x1="125.0" y1="74.3" x2="254.2" y2="88.0"/><line x1="111.0" y1="116.6" x2="299.0" y2="102.4"/><line x1="95.5" y1="116.4" x2="268.2" y2="102.4"/><line x1="150.1" y1="66.4" x2="283.8" y2="60.0"/><line x1="110.2" y1="88.0" x2="254.2" y2="75.0"/><line x1="139.0" y1="116.8" x2="268.2" y2="102.4"/><line x1="111.0" y1="116.6" x2="201.1" y2="102.7"/><line x1="125.0" y1="74.3" x2="200.0" y2="88.0"/><line x1="80.1" y1="73.5" x2="269.3" y2="74.7"/><line x1="74.6" y1="143.9" x2="224.1" y2="130.8"/><line x1="75.3" y1="31.2" x2="268.4" y2="31.4"/><line x1="125.0" y1="116.8" x2="239.0" y2="102.7"/><line x1="95.5" y1="73.7" x2="269.3" y2="60.0"/><line x1="110.2" y1="88.0" x2="202.3" y2="75.0"/><line x1="95.4" y1="45.5" x2="239.5" y2="59.9"/><line x1="139.6" y1="74.3" x2="200.0" y2="88.0"/><line x1="110.2" y1="59.7" x2="268.4" y2="45.4"/><line x1="125.0" y1="103.0" x2="283.4" y2="116.2"/><line x1="78.4" y1="45.5" x2="300.2" y2="59.2"/><line x1="111.0" y1="116.6" x2="268.2" y2="116.2"/><line x1="80.4" y1="116.4" x2="213.8" y2="109.6"/><line x1="74.6" y1="143.9" x2="239.0" y2="130.8"/><line x1="64.5" y1="73.7" x2="254.2" y2="59.9"/><line x1="139.6" y1="74.3" x2="239.5" y2="88.0"/><line x1="125.0" y1="74.3" x2="269.3" y2="74.7"/><line x1="151.3" y1="110.0" x2="299.0" y2="102.4"/><line x1="139.0" y1="103.0" x2="213.8" y2="109.6"/><line x1="126.2" y1="31.2" x2="285.1" y2="45.4"/><line x1="163.0" y1="103.4" x2="200.0" y2="88.0"/><line x1="150.1" y1="66.4" x2="225.0" y2="75.0"/><line x1="139.6" y1="74.3" x2="299.4" y2="87.4"/><line x1="151.3" y1="110.0" x2="300.1" y2="116.2"/><line x1="64.8" y1="87.6" x2="239.5" y2="88.0"/><line x1="111.8" y1="130.7" x2="253.5" y2="117.2"/><line x1="64.5" y1="73.7" x2="299.4" y2="87.4"/><line x1="126.9" y1="144.0" x2="284.5" y2="130.7"/><line x1="139.8" y1="45.5" x2="300.2" y2="59.2"/><line x1="139.6" y1="59.7" x2="283.8" y2="74.7"/><line x1="126.2" y1="31.2" x2="268.4" y2="31.4"/><line x1="111.8" y1="130.7" x2="224.1" y2="117.2"/><line x1="111.8" y1="130.7" x2="268.2" y2="130.0"/><line x1="110.2" y1="73.7" x2="225.0" y2="75.0"/><line x1="126.2" y1="31.2" x2="224.3" y2="45.4"/><line x1="139.6" y1="59.7" x2="269.3" y2="60.0"/><line x1="139.0" y1="88.3" x2="225.0" y2="75.0"/><line x1="164.6" y1="88.5" x2="254.2" y2="75.0"/><line x1="150.1" y1="66.4" x2="214.0" y2="67.3"/><line x1="110.2" y1="73.7" x2="299.4" y2="87.4"/><line x1="64.5" y1="73.7" x2="200.0" y2="88.0"/><line x1="162.6" y1="74.3" x2="269.0" y2="87.6"/><line x1="64.8" y1="87.6" x2="253.5" y2="102.7"/><line x1="139.6" y1="59.7" x2="239.5" y2="59.9"/><line x1="142.0" y1="130.7" x2="253.5" y2="130.8"/><line x1="80.4" y1="101.7" x2="225.0" y2="88.0"/><line x1="126.9" y1="130.7" x2="239.0" y2="117.2"/><line x1="80.4" y1="116.4" x2="239.0" y2="117.2"/><line x1="95.8" y1="130.7" x2="284.5" y2="130.7"/><line x1="95.4" y1="31.2" x2="224.3" y2="45.4"/><line x1="95.5" y1="73.7" x2="283.8" y2="74.7"/><line x1="142.0" y1="130.7" x2="239.0" y2="130.8"/><line x1="95.5" y1="87.6" x2="239.5" y2="75.0"/><line x1="139.0" y1="116.8" x2="283.4" y2="116.2"/><line x1="80.1" y1="73.5" x2="284.0" y2="87.4"/><line x1="64.5" y1="73.7" x2="254.2" y2="75.0"/><line x1="80.4" y1="101.7" x2="253.5" y2="102.7"/><line x1="95.5" y1="116.4" x2="268.2" y2="116.2"/><line x1="126.9" y1="144.0" x2="222.3" y2="143.9"/><line x1="95.5" y1="116.4" x2="239.0" y2="117.2"/><line x1="95.5" y1="101.7" x2="200.0" y2="88.0"/><line x1="95.5" y1="116.4" x2="224.1" y2="102.7"/><line x1="64.2" y1="59.7" x2="254.2" y2="75.0"/><line x1="95.5" y1="87.6" x2="268.2" y2="102.4"/><line x1="64.8" y1="87.6" x2="254.2" y2="88.0"/><line x1="139.0" y1="88.3" x2="299.4" y2="73.8"/><line x1="95.5" y1="101.7" x2="268.2" y2="102.4"/><line x1="163.0" y1="103.4" x2="283.4" y2="102.4"/><line x1="95.8" y1="130.7" x2="239.0" y2="130.8"/><line x1="64.5" y1="73.7" x2="283.8" y2="74.7"/><line x1="95.5" y1="101.7" x2="299.4" y2="87.4"/><line x1="80.1" y1="87.6" x2="225.0" y2="75.0"/><line x1="95.8" y1="130.7" x2="268.2" y2="116.2"/><line x1="142.0" y1="130.7" x2="284.5" y2="130.7"/><line x1="142.0" y1="130.7" x2="253.5" y2="117.2"/><line x1="95.4" y1="31.2" x2="238.0" y2="31.4"/><line x1="110.2" y1="88.0" x2="200.0" y2="88.0"/><line x1="95.5" y1="101.7" x2="253.5" y2="117.2"/><line x1="95.5" y1="73.7" x2="225.0" y2="59.9"/><line x1="164.6" y1="88.5" x2="299.0" y2="102.4"/><line x1="95.4" y1="45.5" x2="253.7" y2="45.4"/><line x1="95.5" y1="87.6" x2="202.3" y2="75.0"/><line x1="80.1" y1="87.6" x2="299.4" y2="87.4"/><line x1="140.9" y1="31.2" x2="239.0" y2="45.4"/><line x1="75.3" y1="31.2" x2="253.7" y2="31.4"/><line x1="111.8" y1="130.7" x2="289.0" y2="144.0"/><line x1="139.8" y1="45.5" x2="269.3" y2="60.0"/><line x1="125.2" y1="45.5" x2="288.5" y2="31.4"/><line x1="95.5" y1="101.7" x2="224.1" y2="102.7"/><line x1="125.0" y1="103.0" x2="300.1" y2="116.2"/><line x1="162.6" y1="74.3" x2="283.8" y2="74.7"/><line x1="95.5" y1="101.7" x2="283.4" y2="102.4"/><line x1="95.5" y1="116.4" x2="224.1" y2="130.8"/><line x1="163.0" y1="103.4" x2="269.0" y2="87.6"/><line x1="80.4" y1="116.4" x2="201.1" y2="102.7"/><line x1="65.4" y1="101.7" x2="254.2" y2="88.0"/><line x1="125.0" y1="116.8" x2="253.5" y2="117.2"/><line x1="125.2" y1="45.5" x2="269.3" y2="60.0"/><line x1="139.0" y1="88.3" x2="239.0" y2="102.7"/><line x1="95.4" y1="31.2" x2="253.7" y2="45.4"/><line x1="142.0" y1="130.7" x2="289.0" y2="144.0"/><line x1="139.0" y1="103.0" x2="300.1" y2="116.2"/><line x1="80.1" y1="73.5" x2="239.5" y2="59.9"/><line x1="95.8" y1="130.7" x2="289.0" y2="144.0"/><line x1="111.0" y1="116.6" x2="239.0" y2="102.7"/><line x1="64.8" y1="87.6" x2="268.2" y2="102.4"/><line x1="96.1" y1="144.0" x2="289.0" y2="144.0"/><line x1="162.6" y1="74.3" x2="254.2" y2="75.0"/><line x1="80.1" y1="87.6" x2="299.4" y2="73.8"/><line x1="95.4" y1="45.5" x2="283.8" y2="60.0"/><line x1="110.0" y1="45.5" x2="254.2" y2="59.9"/><line x1="139.6" y1="59.7" x2="300.2" y2="59.2"/><line x1="95.5" y1="116.4" x2="239.0" y2="102.7"/><line x1="95.5" y1="116.4" x2="283.4" y2="102.4"/><line x1="125.0" y1="74.3" x2="283.8" y2="74.7"/><line x1="111.8" y1="130.7" x2="284.5" y2="130.7"/><line x1="126.9" y1="130.7" x2="283.4" y2="116.2"/><line x1="80.4" y1="101.7" x2="239.5" y2="88.0"/><line x1="125.0" y1="74.3" x2="239.5" y2="59.9"/><line x1="64.2" y1="116.4" x2="224.1" y2="117.2"/><line x1="125.0" y1="116.8" x2="224.1" y2="102.7"/><line x1="125.0" y1="116.8" x2="224.1" y2="130.8"/><line x1="139.0" y1="103.0" x2="269.0" y2="87.6"/><line x1="142.0" y1="130.7" x2="222.3" y2="143.9"/><line x1="111.8" y1="130.7" x2="253.5" y2="143.9"/><line x1="125.0" y1="59.7" x2="239.5" y2="75.0"/><line x1="125.0" y1="103.0" x2="201.1" y2="102.7"/><line x1="95.5" y1="73.7" x2="299.4" y2="87.4"/><line x1="126.2" y1="31.2" x2="239.0" y2="45.4"/><line x1="110.2" y1="88.0" x2="283.4" y2="102.4"/><line x1="111.8" y1="130.7" x2="238.3" y2="143.9"/><line x1="163.0" y1="103.4" x2="213.8" y2="109.6"/><line x1="139.0" y1="88.3" x2="225.0" y2="88.0"/><line x1="110.2" y1="88.0" x2="299.0" y2="102.4"/><line x1="126.9" y1="144.0" x2="224.1" y2="130.8"/><line x1="110.2" y1="73.7" x2="283.8" y2="60.0"/><line x1="142.0" y1="130.7" x2="268.2" y2="130.0"/><line x1="125.0" y1="74.3" x2="284.0" y2="87.4"/><line x1="125.2" y1="45.5" x2="268.4" y2="31.4"/><line x1="95.5" y1="59.7" x2="254.2" y2="59.9"/><line x1="110.2" y1="88.0" x2="268.2" y2="102.4"/><line x1="125.2" y1="45.5" x2="254.2" y2="59.9"/><line x1="95.5" y1="87.6" x2="200.0" y2="88.0"/><line x1="80.1" y1="59.7" x2="269.3" y2="60.0"/><line x1="139.0" y1="88.3" x2="299.4" y2="87.4"/><line x1="125.0" y1="103.0" x2="283.4" y2="102.4"/><line x1="80.1" y1="73.5" x2="225.0" y2="59.9"/><line x1="95.5" y1="87.6" x2="201.1" y2="102.7"/><line x1="110.2" y1="73.7" x2="225.0" y2="88.0"/><line x1="125.0" y1="59.7" x2="254.2" y2="75.0"/><line x1="110.2" y1="73.7" x2="269.3" y2="74.7"/><line x1="139.0" y1="103.0" x2="283.4" y2="116.2"/><line x1="78.4" y1="45.5" x2="288.5" y2="31.4"/><line x1="64.8" y1="87.6" x2="200.0" y2="88.0"/><line x1="95.5" y1="116.4" x2="224.1" y2="117.2"/><line x1="139.6" y1="59.7" x2="299.4" y2="73.8"/><line x1="110.2" y1="88.0" x2="269.0" y2="87.6"/><line x1="110.0" y1="45.5" x2="300.2" y2="59.2"/><line x1="80.1" y1="73.5" x2="269.3" y2="60.0"/><line x1="64.2" y1="116.4" x2="283.4" y2="102.4"/><line x1="163.0" y1="103.4" x2="201.1" y2="102.7"/><line x1="96.1" y1="144.0" x2="284.5" y2="130.7"/><line x1="75.3" y1="31.2" x2="253.7" y2="45.4"/><line x1="95.4" y1="31.2" x2="268.4" y2="45.4"/><line x1="95.5" y1="116.4" x2="253.5" y2="117.2"/><line x1="125.0" y1="88.3" x2="225.0" y2="88.0"/><line x1="95.5" y1="59.7" x2="283.8" y2="60.0"/><line x1="110.5" y1="102.5" x2="284.0" y2="87.4"/><line x1="110.0" y1="45.5" x2="285.1" y2="45.4"/><line x1="125.0" y1="74.3" x2="254.2" y2="59.9"/><line x1="150.1" y1="66.4" x2="283.8" y2="74.7"/><line x1="95.8" y1="130.7" x2="268.2" y2="143.4"/><line x1="64.2" y1="59.7" x2="299.4" y2="73.8"/><line x1="95.5" y1="101.7" x2="224.1" y2="117.2"/><line x1="162.6" y1="74.3" x2="283.8" y2="60.0"/><line x1="151.3" y1="110.0" x2="253.5" y2="102.7"/><line x1="80.1" y1="59.7" x2="254.2" y2="59.9"/><line x1="95.8" y1="130.7" x2="239.0" y2="117.2"/><line x1="139.0" y1="116.8" x2="268.2" y2="116.2"/><line x1="64.2" y1="116.4" x2="239.0" y2="130.8"/><line x1="151.3" y1="110.0" x2="268.2" y2="116.2"/><line x1="110.1" y1="31.2" x2="224.3" y2="45.4"/><line x1="79.3" y1="130.5" x2="222.3" y2="143.9"/><line x1="125.0" y1="103.0" x2="253.5" y2="117.2"/><line x1="78.4" y1="45.5" x2="239.0" y2="45.4"/><line x1="125.0" y1="103.0" x2="239.5" y2="88.0"/><line x1="139.0" y1="116.8" x2="283.4" y2="102.4"/><line x1="111.0" y1="116.6" x2="224.1" y2="102.7"/><line x1="110.1" y1="31.2" x2="253.7" y2="31.4"/><line x1="110.5" y1="102.5" x2="213.8" y2="109.6"/><line x1="95.5" y1="73.7" x2="269.0" y2="87.6"/><line x1="142.0" y1="130.7" x2="283.4" y2="116.2"/><line x1="80.4" y1="116.4" x2="224.1" y2="117.2"/><line x1="125.0" y1="88.3" x2="284.0" y2="87.4"/><line x1="125.0" y1="88.3" x2="299.4" y2="87.4"/><line x1="75.3" y1="31.2" x2="224.3" y2="45.4"/><line x1="125.0" y1="103.0" x2="213.8" y2="109.6"/><line x1="80.4" y1="101.7" x2="283.4" y2="116.2"/><line x1="110.2" y1="88.0" x2="201.1" y2="102.7"/><line x1="126.2" y1="31.2" x2="288.5" y2="31.4"/><line x1="125.2" y1="45.5" x2="300.2" y2="59.2"/><line x1="164.6" y1="88.5" x2="202.3" y2="75.0"/><line x1="95.5" y1="73.7" x2="269.3" y2="74.7"/><line x1="140.9" y1="31.2" x2="253.7" y2="31.4"/><line x1="95.8" y1="130.7" x2="283.4" y2="116.2"/><line x1="95.5" y1="116.4" x2="299.0" y2="102.4"/><line x1="163.0" y1="103.4" x2="299.0" y2="102.4"/><line x1="110.2" y1="73.7" x2="269.3" y2="60.0"/><line x1="75.3" y1="31.2" x2="268.4" y2="45.4"/><line x1="64.2" y1="59.7" x2="254.2" y2="59.9"/><line x1="126.2" y1="31.2" x2="253.7" y2="45.4"/><line x1="80.4" y1="101.7" x2="239.0" y2="117.2"/><line x1="163.0" y1="103.4" x2="253.5" y2="102.7"/><line x1="125.0" y1="103.0" x2="269.0" y2="87.6"/><line x1="64.8" y1="87.6" x2="269.3" y2="74.7"/><line x1="139.0" y1="103.0" x2="201.1" y2="102.7"/><line x1="95.5" y1="101.7" x2="299.0" y2="102.4"/><line x1="140.9" y1="31.2" x2="224.3" y2="45.4"/><line x1="80.1" y1="59.7" x2="299.4" y2="73.8"/><line x1="64.2" y1="116.4" x2="253.5" y2="102.7"/><line x1="80.4" y1="101.7" x2="283.4" y2="102.4"/><line x1="80.1" y1="73.5" x2="299.4" y2="73.8"/><line x1="64.5" y1="73.7" x2="300.2" y2="59.2"/><line x1="64.5" y1="73.7" x2="239.5" y2="88.0"/><line x1="95.4" y1="45.5" x2="225.0" y2="59.9"/><line x1="164.6" y1="88.5" x2="254.2" y2="88.0"/><line x1="125.0" y1="116.8" x2="239.0" y2="130.8"/><line x1="110.2" y1="88.0" x2="283.8" y2="74.7"/><line x1="125.0" y1="74.3" x2="283.8" y2="60.0"/><line x1="95.5" y1="87.6" x2="283.4" y2="102.4"/><line x1="126.9" y1="144.0" x2="253.5" y2="143.9"/><line x1="110.5" y1="102.5" x2="299.4" y2="87.4"/><line x1="64.8" y1="87.6" x2="201.1" y2="102.7"/><line x1="79.3" y1="130.5" x2="253.5" y2="117.2"/><line x1="162.6" y1="74.3" x2="254.2" y2="59.9"/><line x1="64.2" y1="59.7" x2="269.3" y2="60.0"/><line x1="111.8" y1="144.0" x2="268.2" y2="143.4"/><line x1="162.6" y1="74.3" x2="200.0" y2="88.0"/><line x1="64.2" y1="116.4" x2="253.5" y2="130.8"/><line x1="110.1" y1="31.2" x2="222.6" y2="31.4"/><line x1="64.2" y1="59.7" x2="283.8" y2="60.0"/><line x1="64.2" y1="59.7" x2="225.0" y2="59.9"/><line x1="95.5" y1="101.7" x2="283.4" y2="116.2"/><line x1="80.4" y1="116.4" x2="239.0" y2="102.7"/><line x1="95.5" y1="87.6" x2="225.0" y2="75.0"/><line x1="139.8" y1="45.5" x2="268.4" y2="31.4"/><line x1="111.8" y1="130.7" x2="239.0" y2="130.8"/><line x1="110.2" y1="88.0" x2="239.5" y2="75.0"/><line x1="78.4" y1="45.5" x2="253.7" y2="45.4"/><line x1="126.2" y1="31.2" x2="253.7" y2="31.4"/><line x1="64.5" y1="73.7" x2="283.8" y2="60.0"/><line x1="80.1" y1="59.7" x2="253.7" y2="45.4"/><line x1="151.3" y1="110.0" x2="224.1" y2="117.2"/><line x1="64.5" y1="73.7" x2="214.0" y2="67.3"/><line x1="95.5" y1="59.7" x2="239.0" y2="45.4"/><line x1="110.2" y1="59.7" x2="283.8" y2="60.0"/><line x1="125.0" y1="88.3" x2="201.1" y2="102.7"/><line x1="125.0" y1="74.3" x2="269.0" y2="87.6"/><line x1="125.0" y1="103.0" x2="239.0" y2="117.2"/><line x1="139.6" y1="59.7" x2="283.8" y2="60.0"/><line x1="164.6" y1="88.5" x2="283.4" y2="102.4"/><line x1="95.5" y1="59.7" x2="225.0" y2="59.9"/><line x1="75.3" y1="31.2" x2="285.1" y2="45.4"/><line x1="95.5" y1="116.4" x2="283.4" y2="116.2"/><line x1="139.6" y1="74.3" x2="214.0" y2="67.3"/><line x1="96.1" y1="144.0" x2="239.0" y2="130.8"/><line x1="80.1" y1="59.7" x2="239.5" y2="75.0"/><line x1="110.5" y1="102.5" x2="283.4" y2="116.2"/><line x1="142.0" y1="130.7" x2="300.1" y2="116.2"/><line x1="125.0" y1="59.7" x2="283.8" y2="60.0"/><line x1="125.0" y1="74.3" x2="300.2" y2="59.2"/><line x1="64.8" y1="87.6" x2="225.0" y2="88.0"/><line x1="80.1" y1="87.6" x2="224.1" y2="102.7"/><line x1="142.0" y1="130.7" x2="268.2" y2="143.4"/><line x1="139.6" y1="59.7" x2="285.1" y2="45.4"/><line x1="80.4" y1="116.4" x2="299.0" y2="102.4"/><line x1="125.0" y1="88.3" x2="239.5" y2="88.0"/><line x1="79.3" y1="130.5" x2="224.1" y2="117.2"/><line x1="142.0" y1="144.0" x2="239.0" y2="130.8"/><line x1="125.0" y1="59.7" x2="299.4" y2="73.8"/><line x1="110.2" y1="88.0" x2="254.2" y2="88.0"/><line x1="79.3" y1="130.5" x2="253.5" y2="143.9"/><line x1="64.5" y1="73.7" x2="239.5" y2="59.9"/><line x1="64.2" y1="59.7" x2="269.3" y2="74.7"/><line x1="142.0" y1="144.0" x2="224.1" y2="130.8"/><line x1="80.1" y1="59.7" x2="283.8" y2="60.0"/><line x1="142.0" y1="144.0" x2="268.2" y2="130.0"/><line x1="95.5" y1="73.7" x2="254.2" y2="75.0"/><line x1="95.5" y1="101.7" x2="201.1" y2="102.7"/><line x1="164.6" y1="88.5" x2="239.5" y2="75.0"/><line x1="80.1" y1="87.6" x2="284.0" y2="87.4"/><line x1="95.5" y1="101.7" x2="269.0" y2="87.6"/><line x1="111.8" y1="130.7" x2="268.2" y2="116.2"/><line x1="110.2" y1="73.7" x2="254.2" y2="59.9"/><line x1="95.5" y1="87.6" x2="283.8" y2="74.7"/><line x1="95.5" y1="116.4" x2="201.1" y2="102.7"/><line x1="139.8" y1="45.5" x2="225.0" y2="59.9"/><line x1="80.1" y1="87.6" x2="202.3" y2="75.0"/><line x1="125.0" y1="116.8" x2="253.5" y2="102.7"/><line x1="95.5" y1="87.6" x2="269.0" y2="87.6"/><line x1="125.0" y1="59.7" x2="239.0" y2="45.4"/><line x1="96.1" y1="144.0" x2="268.2" y2="143.4"/><line x1="164.6" y1="88.5" x2="269.3" y2="74.7"/><line x1="125.0" y1="116.8" x2="300.1" y2="116.2"/><line x1="65.4" y1="101.7" x2="201.1" y2="102.7"/><line x1="110.5" y1="102.5" x2="300.1" y2="116.2"/><line x1="164.6" y1="88.5" x2="224.1" y2="102.7"/><line x1="139.0" y1="88.3" x2="254.2" y2="88.0"/><line x1="65.4" y1="101.7" x2="299.4" y2="87.4"/><line x1="125.0" y1="116.8" x2="283.4" y2="102.4"/><line x1="125.0" y1="103.0" x2="200.0" y2="88.0"/><line x1="111.8" y1="130.7" x2="239.0" y2="117.2"/><line x1="139.0" y1="88.3" x2="200.0" y2="88.0"/><line x1="96.1" y1="144.0" x2="224.1" y2="130.8"/><line x1="95.5" y1="87.6" x2="299.4" y2="73.8"/><line x1="142.0" y1="130.7" x2="268.2" y2="116.2"/><line x1="111.0" y1="116.6" x2="253.5" y2="102.7"/><line x1="95.5" y1="87.6" x2="239.0" y2="102.7"/><line x1="126.9" y1="144.0" x2="238.3" y2="143.9"/><line x1="125.2" y1="45.5" x2="253.7" y2="31.4"/><line x1="140.9" y1="31.2" x2="268.4" y2="31.4"/><line x1="80.1" y1="73.5" x2="283.8" y2="60.0"/><line x1="80.4" y1="116.4" x2="253.5" y2="117.2"/><line x1="126.9" y1="130.7" x2="268.2" y2="116.2"/><line x1="78.4" y1="45.5" x2="268.4" y2="45.4"/><line x1="125.2" y1="45.5" x2="225.0" y2="59.9"/><line x1="111.8" y1="144.0" x2="224.1" y2="130.8"/><line x1="164.6" y1="88.5" x2="284.0" y2="87.4"/><line x1="139.0" y1="103.0" x2="253.5" y2="102.7"/><line x1="95.5" y1="101.7" x2="254.2" y2="88.0"/><line x1="80.4" y1="116.4" x2="268.2" y2="116.2"/><line x1="65.4" y1="101.7" x2="253.5" y2="117.2"/><line x1="139.8" y1="45.5" x2="285.1" y2="45.4"/><line x1="110.2" y1="88.0" x2="239.0" y2="102.7"/><line x1="64.2" y1="59.7" x2="239.5" y2="75.0"/><line x1="95.5" y1="59.7" x2="269.3" y2="60.0"/><line x1="80.1" y1="59.7" x2="285.1" y2="45.4"/><line x1="95.5" y1="116.4" x2="284.5" y2="130.7"/><line x1="110.2" y1="59.7" x2="224.3" y2="45.4"/><line x1="95.5" y1="87.6" x2="254.2" y2="75.0"/><line x1="95.4" y1="31.2" x2="285.1" y2="45.4"/><line x1="139.0" y1="88.3" x2="284.0" y2="87.4"/><line x1="164.6" y1="88.5" x2="283.8" y2="74.7"/><line x1="95.8" y1="130.7" x2="238.3" y2="143.9"/><line x1="126.9" y1="130.7" x2="238.3" y2="143.9"/><line x1="64.2" y1="59.7" x2="268.4" y2="45.4"/><line x1="126.9" y1="130.7" x2="239.0" y2="130.8"/><line x1="80.1" y1="87.6" x2="269.3" y2="74.7"/><line x1="139.0" y1="88.3" x2="283.4" y2="102.4"/><line x1="110.2" y1="88.0" x2="225.0" y2="75.0"/><line x1="125.0" y1="74.3" x2="299.4" y2="87.4"/><line x1="79.3" y1="130.5" x2="239.0" y2="117.2"/><line x1="95.5" y1="101.7" x2="268.2" y2="116.2"/><line x1="95.5" y1="116.4" x2="253.5" y2="130.8"/><line x1="65.4" y1="101.7" x2="284.0" y2="87.4"/><line x1="139.0" y1="103.0" x2="254.2" y2="88.0"/><line x1="110.2" y1="73.7" x2="283.8" y2="74.7"/><line x1="111.8" y1="144.0" x2="289.0" y2="144.0"/><line x1="139.0" y1="88.3" x2="254.2" y2="75.0"/><line x1="80.1" y1="73.5" x2="299.4" y2="87.4"/><line x1="125.0" y1="59.7" x2="214.0" y2="67.3"/><line x1="150.1" y1="66.4" x2="299.4" y2="73.8"/><line x1="111.8" y1="130.7" x2="283.4" y2="116.2"/><line x1="125.0" y1="59.7" x2="300.2" y2="59.2"/><line x1="139.0" y1="103.0" x2="224.1" y2="117.2"/><line x1="142.0" y1="130.7" x2="224.1" y2="117.2"/><line x1="64.2" y1="59.7" x2="202.3" y2="75.0"/><line x1="164.6" y1="88.5" x2="225.0" y2="88.0"/><line x1="142.0" y1="130.7" x2="238.3" y2="143.9"/><line x1="95.4" y1="31.2" x2="288.5" y2="31.4"/><line x1="110.1" y1="31.2" x2="238.0" y2="31.4"/><line x1="64.2" y1="59.7" x2="285.1" y2="45.4"/><line x1="95.5" y1="101.7" x2="300.1" y2="116.2"/><line x1="65.4" y1="101.7" x2="239.0" y2="102.7"/><line x1="80.1" y1="59.7" x2="300.2" y2="59.2"/><line x1="79.3" y1="130.5" x2="268.2" y2="143.4"/><line x1="64.2" y1="116.4" x2="224.1" y2="102.7"/><line x1="95.5" y1="101.7" x2="239.0" y2="117.2"/><line x1="95.5" y1="116.4" x2="268.2" y2="130.0"/><line x1="126.9" y1="130.7" x2="253.5" y2="130.8"/><line x1="95.5" y1="101.7" x2="253.5" y2="102.7"/><line x1="64.2" y1="116.4" x2="268.2" y2="130.0"/><line x1="139.0" y1="103.0" x2="299.4" y2="87.4"/><line x1="64.2" y1="59.7" x2="224.3" y2="45.4"/><line x1="95.5" y1="59.7" x2="239.5" y2="59.9"/><line x1="80.1" y1="59.7" x2="225.0" y2="75.0"/><line x1="125.0" y1="103.0" x2="224.1" y2="102.7"/><line x1="125.0" y1="116.8" x2="299.0" y2="102.4"/><line x1="110.2" y1="88.0" x2="299.4" y2="73.8"/><line x1="64.8" y1="87.6" x2="202.3" y2="75.0"/><line x1="126.9" y1="144.0" x2="268.2" y2="130.0"/><line x1="110.2" y1="73.7" x2="284.0" y2="87.4"/><line x1="126.9" y1="144.0" x2="253.5" y2="130.8"/><line x1="95.5" y1="59.7" x2="239.5" y2="75.0"/><line x1="125.0" y1="88.3" x2="202.3" y2="75.0"/><line x1="139.0" y1="103.0" x2="268.2" y2="102.4"/><line x1="162.6" y1="74.3" x2="299.4" y2="73.8"/><line x1="139.8" y1="45.5" x2="268.4" y2="45.4"/><line x1="110.0" y1="45.5" x2="288.5" y2="31.4"/><line x1="139.0" y1="103.0" x2="200.0" y2="88.0"/><line x1="111.0" y1="116.6" x2="239.0" y2="130.8"/><line x1="75.3" y1="31.2" x2="238.0" y2="31.4"/><line x1="95.5" y1="116.4" x2="300.1" y2="116.2"/><line x1="125.0" y1="103.0" x2="254.2" y2="88.0"/><line x1="125.0" y1="88.3" x2="283.8" y2="74.7"/><line x1="125.0" y1="59.7" x2="268.4" y2="45.4"/><line x1="125.0" y1="74.3" x2="269.3" y2="60.0"/><line x1="110.2" y1="59.7" x2="239.5" y2="75.0"/><line x1="110.2" y1="88.0" x2="299.4" y2="87.4"/><line x1="139.0" y1="103.0" x2="283.4" y2="102.4"/><line x1="151.3" y1="110.0" x2="283.4" y2="102.4"/><line x1="139.6" y1="59.7" x2="224.3" y2="45.4"/><line x1="125.0" y1="116.8" x2="239.0" y2="117.2"/><line x1="139.6" y1="74.3" x2="254.2" y2="75.0"/><line x1="125.0" y1="74.3" x2="225.0" y2="88.0"/><line x1="95.5" y1="87.6" x2="254.2" y2="88.0"/><line x1="125.0" y1="74.3" x2="254.2" y2="75.0"/><line x1="110.5" y1="102.5" x2="269.0" y2="87.6"/><line x1="110.2" y1="59.7" x2="214.0" y2="67.3"/><line x1="64.5" y1="73.7" x2="202.3" y2="75.0"/><line x1="110.2" y1="88.0" x2="224.1" y2="102.7"/><line x1="80.1" y1="73.5" x2="202.3" y2="75.0"/><line x1="110.1" y1="31.2" x2="268.4" y2="45.4"/><line x1="110.1" y1="31.2" x2="285.1" y2="45.4"/><line x1="163.0" y1="103.4" x2="254.2" y2="88.0"/><line x1="125.0" y1="88.3" x2="224.1" y2="102.7"/><line x1="139.0" y1="116.8" x2="239.0" y2="117.2"/><line x1="110.2" y1="59.7" x2="283.8" y2="74.7"/><line x1="139.6" y1="59.7" x2="254.2" y2="59.9"/><line x1="80.4" y1="116.4" x2="283.4" y2="116.2"/><line x1="150.1" y1="66.4" x2="239.5" y2="59.9"/><line x1="110.2" y1="59.7" x2="202.3" y2="75.0"/><line x1="110.5" y1="102.5" x2="283.4" y2="102.4"/><line x1="79.3" y1="130.5" x2="268.2" y2="116.2"/><line x1="125.0" y1="103.0" x2="224.1" y2="117.2"/><line x1="110.2" y1="73.7" x2="239.5" y2="88.0"/><line x1="139.0" y1="88.3" x2="269.3" y2="74.7"/><line x1="65.4" y1="101.7" x2="239.5" y2="88.0"/><line x1="164.6" y1="88.5" x2="201.1" y2="102.7"/><line x1="111.8" y1="144.0" x2="239.0" y2="130.8"/><line x1="139.6" y1="74.3" x2="239.5" y2="59.9"/><line x1="95.5" y1="59.7" x2="268.4" y2="45.4"/><line x1="139.6" y1="74.3" x2="283.8" y2="74.7"/><line x1="139.0" y1="88.3" x2="299.0" y2="102.4"/><line x1="64.5" y1="73.7" x2="239.5" y2="75.0"/><line x1="110.0" y1="45.5" x2="239.5" y2="59.9"/><line x1="139.0" y1="103.0" x2="225.0" y2="88.0"/><line x1="95.5" y1="73.7" x2="300.2" y2="59.2"/><line x1="163.0" y1="103.4" x2="268.2" y2="116.2"/><line x1="110.1" y1="31.2" x2="253.7" y2="45.4"/><line x1="65.4" y1="101.7" x2="269.0" y2="87.6"/><line x1="80.1" y1="59.7" x2="239.0" y2="45.4"/><line x1="126.9" y1="130.7" x2="300.1" y2="116.2"/><line x1="164.6" y1="88.5" x2="239.5" y2="88.0"/><line x1="126.9" y1="130.7" x2="289.0" y2="144.0"/><line x1="126.9" y1="130.7" x2="253.5" y2="117.2"/><line x1="139.0" y1="88.3" x2="268.2" y2="102.4"/><line x1="80.1" y1="59.7" x2="269.3" y2="74.7"/><line x1="125.0" y1="88.3" x2="225.0" y2="75.0"/><line x1="64.5" y1="73.7" x2="299.4" y2="73.8"/><line x1="95.8" y1="130.7" x2="253.5" y2="143.9"/><line x1="80.4" y1="116.4" x2="224.1" y2="102.7"/><line x1="74.6" y1="143.9" x2="222.3" y2="143.9"/><line x1="110.0" y1="45.5" x2="224.3" y2="45.4"/><line x1="95.5" y1="73.7" x2="284.0" y2="87.4"/><line x1="125.0" y1="88.3" x2="299.4" y2="73.8"/><line x1="125.0" y1="88.3" x2="239.5" y2="75.0"/><line x1="110.2" y1="88.0" x2="239.5" y2="88.0"/><line x1="125.0" y1="88.3" x2="254.2" y2="88.0"/><line x1="139.8" y1="45.5" x2="288.5" y2="31.4"/><line x1="139.8" y1="45.5" x2="239.5" y2="59.9"/><line x1="79.3" y1="130.5" x2="300.1" y2="116.2"/><line x1="64.2" y1="116.4" x2="224.1" y2="130.8"/><line x1="110.5" y1="102.5" x2="225.0" y2="88.0"/><line x1="139.0" y1="116.8" x2="224.1" y2="117.2"/><line x1="64.5" y1="73.7" x2="225.0" y2="59.9"/><line x1="80.4" y1="116.4" x2="300.1" y2="116.2"/><line x1="80.1" y1="59.7" x2="268.4" y2="45.4"/><line x1="162.6" y1="74.3" x2="239.5" y2="59.9"/><line x1="64.2" y1="116.4" x2="300.1" y2="116.2"/><line x1="125.0" y1="59.7" x2="239.5" y2="59.9"/><line x1="95.4" y1="45.5" x2="239.0" y2="45.4"/><line x1="110.1" y1="31.2" x2="239.0" y2="45.4"/><line x1="110.5" y1="102.5" x2="299.0" y2="102.4"/><line x1="139.6" y1="74.3" x2="239.5" y2="75.0"/><line x1="125.2" y1="45.5" x2="224.3" y2="45.4"/><line x1="164.6" y1="88.5" x2="268.2" y2="102.4"/><line x1="111.0" y1="116.6" x2="239.0" y2="117.2"/><line x1="80.4" y1="101.7" x2="201.1" y2="102.7"/><line x1="75.3" y1="31.2" x2="222.6" y2="31.4"/><line x1="125.2" y1="45.5" x2="239.0" y2="45.4"/><line x1="78.4" y1="45.5" x2="268.4" y2="31.4"/><line x1="110.5" y1="102.5" x2="200.0" y2="88.0"/><line x1="95.8" y1="130.7" x2="224.1" y2="117.2"/><line x1="125.2" y1="45.5" x2="283.8" y2="60.0"/><line x1="80.1" y1="59.7" x2="283.8" y2="74.7"/><line x1="95.5" y1="87.6" x2="269.3" y2="74.7"/><line x1="125.0" y1="59.7" x2="254.2" y2="59.9"/><line x1="95.4" y1="45.5" x2="253.7" y2="31.4"/><line x1="110.2" y1="59.7" x2="269.3" y2="60.0"/><line x1="96.1" y1="144.0" x2="253.5" y2="143.9"/><line x1="64.8" y1="87.6" x2="283.8" y2="74.7"/><line x1="125.0" y1="103.0" x2="299.0" y2="102.4"/><line x1="125.0" y1="88.3" x2="269.3" y2="74.7"/><line x1="125.2" y1="45.5" x2="268.4" y2="45.4"/><line x1="162.6" y1="74.3" x2="284.0" y2="87.4"/><line x1="64.8" y1="87.6" x2="254.2" y2="75.0"/><line x1="125.0" y1="116.8" x2="283.4" y2="116.2"/><line x1="162.6" y1="74.3" x2="254.2" y2="88.0"/><line x1="65.4" y1="101.7" x2="300.1" y2="116.2"/><line x1="126.9" y1="130.7" x2="253.5" y2="143.9"/><line x1="79.3" y1="130.5" x2="268.2" y2="130.0"/><line x1="78.4" y1="45.5" x2="224.3" y2="45.4"/><line x1="163.0" y1="103.4" x2="239.0" y2="117.2"/><line x1="139.0" y1="103.0" x2="299.0" y2="102.4"/><line x1="110.5" y1="102.5" x2="253.5" y2="117.2"/><line x1="139.0" y1="88.3" x2="253.5" y2="102.7"/><line x1="151.3" y1="110.0" x2="253.5" y2="117.2"/><line x1="139.8" y1="45.5" x2="283.8" y2="60.0"/><line x1="110.2" y1="73.7" x2="300.2" y2="59.2"/><line x1="111.8" y1="144.0" x2="268.2" y2="130.0"/><line x1="110.5" y1="102.5" x2="239.0" y2="102.7"/><line x1="139.6" y1="74.3" x2="225.0" y2="88.0"/><line x1="164.6" y1="88.5" x2="239.0" y2="102.7"/><line x1="74.6" y1="143.9" x2="238.3" y2="143.9"/><line x1="80.1" y1="59.7" x2="224.3" y2="45.4"/><line x1="75.3" y1="31.2" x2="288.5" y2="31.4"/><line x1="80.1" y1="73.5" x2="239.5" y2="75.0"/><line x1="64.5" y1="73.7" x2="269.3" y2="74.7"/><line x1="95.5" y1="59.7" x2="299.4" y2="73.8"/><line x1="95.5" y1="101.7" x2="239.0" y2="102.7"/><line x1="125.0" y1="88.3" x2="200.0" y2="88.0"/><line x1="95.4" y1="31.2" x2="253.7" y2="31.4"/><line x1="139.6" y1="59.7" x2="225.0" y2="75.0"/><line x1="139.0" y1="103.0" x2="253.5" y2="117.2"/><line x1="139.6" y1="59.7" x2="202.3" y2="75.0"/><line x1="111.0" y1="116.6" x2="283.4" y2="116.2"/><line x1="95.5" y1="59.7" x2="202.3" y2="75.0"/><line x1="110.0" y1="45.5" x2="253.7" y2="31.4"/><line x1="142.0" y1="144.0" x2="268.2" y2="143.4"/><line x1="139.6" y1="59.7" x2="214.0" y2="67.3"/><line x1="162.6" y1="74.3" x2="300.2" y2="59.2"/><line x1="151.3" y1="110.0" x2="239.0" y2="102.7"/><line x1="139.6" y1="74.3" x2="283.8" y2="60.0"/><line x1="64.8" y1="87.6" x2="299.0" y2="102.4"/><line x1="64.2" y1="116.4" x2="283.4" y2="116.2"/><line x1="80.1" y1="73.5" x2="214.0" y2="67.3"/><line x1="65.4" y1="101.7" x2="268.2" y2="102.4"/><line x1="80.1" y1="87.6" x2="201.1" y2="102.7"/><line x1="64.2" y1="59.7" x2="300.2" y2="59.2"/><line x1="80.1" y1="73.5" x2="300.2" y2="59.2"/><line x1="65.4" y1="101.7" x2="253.5" y2="102.7"/><line x1="64.8" y1="87.6" x2="299.4" y2="73.8"/><line x1="111.8" y1="130.7" x2="224.1" y2="130.8"/><line x1="95.5" y1="59.7" x2="253.7" y2="45.4"/><line x1="110.0" y1="45.5" x2="222.6" y2="31.4"/><line x1="95.8" y1="130.7" x2="253.5" y2="117.2"/><line x1="162.6" y1="74.3" x2="239.5" y2="88.0"/><line x1="64.8" y1="87.6" x2="239.5" y2="75.0"/><line x1="150.1" y1="66.4" x2="239.5" y2="75.0"/><line x1="95.5" y1="116.4" x2="213.8" y2="109.6"/><line x1="64.2" y1="59.7" x2="253.7" y2="45.4"/><line x1="111.8" y1="130.7" x2="300.1" y2="116.2"/><line x1="111.0" y1="116.6" x2="284.5" y2="130.7"/><line x1="125.0" y1="59.7" x2="283.8" y2="74.7"/><line x1="111.8" y1="144.0" x2="222.3" y2="143.9"/><line x1="125.0" y1="88.3" x2="239.0" y2="102.7"/><line x1="139.8" y1="45.5" x2="224.3" y2="45.4"/><line x1="110.5" y1="102.5" x2="253.5" y2="102.7"/><line x1="95.5" y1="59.7" x2="285.1" y2="45.4"/><line x1="139.6" y1="74.3" x2="225.0" y2="59.9"/><line x1="110.2" y1="88.0" x2="269.3" y2="74.7"/><line x1="110.1" y1="31.2" x2="268.4" y2="31.4"/><line x1="125.0" y1="74.3" x2="299.4" y2="73.8"/><line x1="95.8" y1="130.7" x2="253.5" y2="130.8"/><line x1="162.6" y1="74.3" x2="269.3" y2="74.7"/><line x1="80.4" y1="116.4" x2="253.5" y2="102.7"/><line x1="80.1" y1="73.5" x2="283.8" y2="74.7"/><line x1="95.5" y1="87.6" x2="239.5" y2="88.0"/><line x1="151.3" y1="110.0" x2="201.1" y2="102.7"/><line x1="80.4" y1="101.7" x2="268.2" y2="116.2"/><line x1="139.0" y1="103.0" x2="284.0" y2="87.4"/><line x1="95.5" y1="73.7" x2="254.2" y2="88.0"/><line x1="64.2" y1="116.4" x2="213.8" y2="109.6"/><line x1="80.4" y1="116.4" x2="284.5" y2="130.7"/><line x1="78.4" y1="45.5" x2="254.2" y2="59.9"/><line x1="95.4" y1="45.5" x2="222.6" y2="31.4"/><line x1="163.0" y1="103.4" x2="239.5" y2="88.0"/><line x1="64.2" y1="116.4" x2="239.0" y2="102.7"/><line x1="110.2" y1="88.0" x2="253.5" y2="102.7"/><line x1="64.5" y1="73.7" x2="269.0" y2="87.6"/><line x1="110.0" y1="45.5" x2="269.3" y2="60.0"/><line x1="95.4" y1="45.5" x2="288.5" y2="31.4"/><line x1="95.5" y1="87.6" x2="299.0" y2="102.4"/><line x1="139.0" y1="116.8" x2="253.5" y2="117.2"/><line x1="80.4" y1="101.7" x2="300.1" y2="116.2"/><line x1="126.9" y1="130.7" x2="268.2" y2="143.4"/><line x1="95.5" y1="101.7" x2="213.8" y2="109.6"/><line x1="125.0" y1="74.3" x2="239.5" y2="88.0"/><line x1="64.2" y1="116.4" x2="201.1" y2="102.7"/><line x1="125.0" y1="74.3" x2="214.0" y2="67.3"/><line x1="126.9" y1="130.7" x2="268.2" y2="130.0"/><line x1="79.3" y1="130.5" x2="238.3" y2="143.9"/><line x1="139.0" y1="116.8" x2="239.0" y2="102.7"/><line x1="80.4" y1="101.7" x2="299.0" y2="102.4"/><line x1="65.4" y1="101.7" x2="283.4" y2="116.2"/><line x1="111.0" y1="116.6" x2="224.1" y2="130.8"/><line x1="95.4" y1="45.5" x2="269.3" y2="60.0"/><line x1="163.0" y1="103.4" x2="224.1" y2="102.7"/><line x1="140.9" y1="31.2" x2="222.6" y2="31.4"/><line x1="80.1" y1="87.6" x2="283.8" y2="74.7"/><line x1="125.0" y1="88.3" x2="269.0" y2="87.6"/><line x1="80.1" y1="59.7" x2="239.5" y2="59.9"/><line x1="125.0" y1="74.3" x2="225.0" y2="75.0"/><line x1="111.0" y1="116.6" x2="213.8" y2="109.6"/><line x1="95.5" y1="59.7" x2="224.3" y2="45.4"/><line x1="126.9" y1="144.0" x2="239.0" y2="130.8"/><line x1="139.0" y1="88.3" x2="201.1" y2="102.7"/><line x1="74.6" y1="143.9" x2="268.2" y2="130.0"/><line x1="142.0" y1="144.0" x2="284.5" y2="130.7"/><line x1="110.5" y1="102.5" x2="224.1" y2="102.7"/><line x1="80.1" y1="73.5" x2="225.0" y2="88.0"/><line x1="95.5" y1="87.6" x2="284.0" y2="87.4"/><line x1="80.4" y1="116.4" x2="253.5" y2="130.8"/><line x1="125.0" y1="74.3" x2="239.5" y2="75.0"/><line x1="125.0" y1="88.3" x2="253.5" y2="102.7"/><line x1="164.6" y1="88.5" x2="299.4" y2="73.8"/><line x1="95.5" y1="73.7" x2="202.3" y2="75.0"/><line x1="80.4" y1="101.7" x2="224.1" y2="117.2"/><line x1="110.0" y1="45.5" x2="238.0" y2="31.4"/><line x1="150.1" y1="66.4" x2="300.2" y2="59.2"/><line x1="125.0" y1="116.8" x2="268.2" y2="116.2"/><line x1="64.2" y1="116.4" x2="268.2" y2="102.4"/><line x1="95.5" y1="59.7" x2="269.3" y2="74.7"/><line x1="139.0" y1="116.8" x2="213.8" y2="109.6"/><line x1="150.1" y1="66.4" x2="254.2" y2="75.0"/><line x1="95.5" y1="73.7" x2="214.0" y2="67.3"/><line x1="139.6" y1="74.3" x2="202.3" y2="75.0"/><line x1="95.5" y1="87.6" x2="253.5" y2="102.7"/><line x1="96.1" y1="144.0" x2="222.3" y2="143.9"/><line x1="110.2" y1="88.0" x2="225.0" y2="88.0"/><line x1="110.2" y1="73.7" x2="225.0" y2="59.9"/><line x1="125.0" y1="116.8" x2="224.1" y2="117.2"/><line x1="80.1" y1="87.6" x2="269.0" y2="87.6"/><line x1="164.6" y1="88.5" x2="299.4" y2="87.4"/><line x1="163.0" y1="103.4" x2="300.1" y2="116.2"/><line x1="125.0" y1="88.3" x2="283.4" y2="102.4"/><line x1="125.0" y1="59.7" x2="285.1" y2="45.4"/><line x1="110.5" y1="102.5" x2="268.2" y2="116.2"/><line x1="78.4" y1="45.5" x2="239.5" y2="59.9"/><line x1="80.4" y1="101.7" x2="269.0" y2="87.6"/><line x1="78.4" y1="45.5" x2="283.8" y2="60.0"/><line x1="64.2" y1="116.4" x2="284.5" y2="130.7"/><line x1="65.4" y1="101.7" x2="224.1" y2="102.7"/><line x1="125.2" y1="45.5" x2="238.0" y2="31.4"/><line x1="139.6" y1="74.3" x2="269.0" y2="87.6"/><line x1="110.2" y1="59.7" x2="225.0" y2="59.9"/><line x1="125.0" y1="103.0" x2="268.2" y2="116.2"/><line x1="74.6" y1="143.9" x2="253.5" y2="130.8"/></g>
<g id="brains">
<path d="M19.0,86.5 C18.4,84.1 18.9,76.7 19.5,72.0 C20.1,67.3 21.1,63.0 22.8,58.5 C24.5,54.0 26.9,49.1 29.5,45.0 C32.1,40.9 35.1,37.3 38.5,34.0 C41.9,30.7 45.7,27.6 49.8,25.0 C53.9,22.4 58.8,20.1 63.3,18.2 C67.8,16.3 72.5,14.7 77.0,13.6 C81.5,12.5 84.8,11.9 90.0,11.4 C95.2,10.9 102.4,10.2 108.0,10.4 C113.6,10.6 118.2,11.3 123.4,12.6 C128.6,13.9 134.2,16.0 139.0,18.2 C143.8,20.4 148.7,23.6 152.4,26.0 C156.1,28.4 157.7,29.9 161.0,32.7 C164.3,35.5 169.0,38.8 172.0,42.7 C175.0,46.6 177.1,51.4 178.8,56.3 C180.5,61.2 181.4,67.0 182.3,71.9 C183.2,76.9 184.4,83.6 184.0,86.0 C183.6,88.4 181.1,88.7 180.0,86.5 C178.9,84.3 178.4,77.5 177.4,72.8 C176.4,68.0 175.6,62.5 174.1,58.0 C172.5,53.5 170.7,49.3 168.0,45.7 C165.3,42.1 160.8,39.1 157.8,36.5 C154.7,33.9 153.1,32.5 149.6,30.2 C146.2,27.9 141.5,24.9 136.9,22.7 C132.3,20.6 127.0,18.7 122.2,17.4 C117.3,16.2 113.1,15.6 107.8,15.4 C102.5,15.2 95.4,15.8 90.5,16.4 C85.6,17.0 82.5,17.6 78.4,18.9 C74.2,20.2 69.9,22.1 65.8,24.2 C61.8,26.3 57.4,28.8 54.1,31.7 C50.8,34.7 48.1,38.2 46.2,41.8 C44.4,45.5 44.1,49.8 43.0,53.6 C41.9,57.5 41.3,61.4 39.7,64.8 C38.1,68.1 36.2,70.2 33.4,73.9 C30.6,77.5 25.4,84.5 23.0,86.6 C20.6,88.7 19.6,88.9 19.0,86.5 Z" fill="#c9c9c9"/>
<path d="M184.0,89.0 C184.3,91.1 182.9,97.0 182.0,101.0 C181.1,105.0 179.9,109.0 178.5,113.0 C177.1,117.0 175.6,121.2 173.5,125.0 C171.4,128.8 168.4,133.1 166.0,136.0 C163.6,138.9 162.0,140.2 159.0,142.5 C156.0,144.8 152.1,147.3 148.0,149.6 C143.9,151.9 139.4,154.4 134.6,156.3 C129.8,158.2 124.2,159.8 119.0,160.8 C113.8,161.8 108.2,161.7 103.4,162.5 C98.6,163.3 95.2,165.1 90.0,165.4 C84.8,165.7 77.9,165.2 72.4,164.3 C66.9,163.4 61.6,162.0 56.8,159.9 C52.0,157.8 47.5,155.2 43.4,152.0 C39.3,148.8 35.6,145.0 32.3,140.9 C29.0,136.8 25.6,132.0 23.4,127.5 C21.2,123.0 19.6,118.5 18.9,114.0 C18.1,109.5 18.5,104.4 18.9,100.6 C19.2,96.8 20.0,92.5 21.0,91.0 C22.0,89.5 23.1,90.1 24.9,91.9 C26.7,93.7 30.4,98.5 31.8,101.8 C33.3,105.1 32.7,108.4 33.7,111.5 C34.7,114.6 36.0,117.1 37.7,120.4 C39.4,123.7 42.3,127.1 43.9,131.4 C45.6,135.8 45.2,142.5 47.7,146.5 C50.2,150.4 54.5,153.1 58.8,155.3 C63.0,157.5 68.0,158.9 73.1,159.9 C78.3,160.8 84.8,161.2 89.7,160.9 C94.7,160.6 98.0,158.8 102.7,158.1 C107.4,157.3 113.1,157.4 118.1,156.4 C123.2,155.4 128.4,153.9 133.0,152.1 C137.6,150.3 141.9,147.9 145.8,145.7 C149.7,143.5 153.5,141.0 156.3,138.9 C159.1,136.8 160.3,135.8 162.5,133.1 C164.7,130.5 167.6,126.5 169.5,122.9 C171.5,119.2 172.9,115.3 174.3,111.5 C175.6,107.7 176.6,103.9 177.6,100.0 C178.6,96.1 179.0,90.2 180.1,88.3 C181.1,86.5 183.7,86.9 184.0,89.0 Z" fill="#c9c9c9"/>
<path d="M19.5,86.0 C16.0,83.8 18.9,78.0 19.2,74.0 C19.5,70.0 20.4,65.7 21.5,62.0 C22.6,58.3 24.2,55.0 26.0,52.0 C27.8,49.0 29.7,46.5 32.0,44.0 C34.3,41.5 37.3,39.2 40.0,37.0 C42.7,34.8 45.8,31.7 48.0,31.0 C50.2,30.3 53.2,31.5 53.0,33.0 C52.8,34.5 49.0,37.7 47.0,40.0 C45.0,42.3 42.5,44.7 41.0,47.0 C39.5,49.3 37.5,52.6 38.0,54.0 C38.5,55.4 42.3,55.0 44.0,55.5 C45.7,56.0 47.5,56.2 48.0,57.0 C48.5,57.8 48.3,59.3 47.0,60.0 C45.7,60.7 40.3,60.2 40.0,61.0 C39.7,61.8 43.8,63.2 45.0,65.0 C46.2,66.8 46.7,69.5 47.0,72.0 C47.3,74.5 45.8,78.2 47.0,80.0 C48.2,81.8 52.8,81.9 54.0,83.0 C55.2,84.1 56.3,85.8 54.0,86.5 C51.7,87.2 45.8,87.1 40.0,87.0 C34.2,86.9 23.0,88.2 19.5,86.0 Z" fill="#c9c9c9"/>
<path d="M29.5,58.0 C30.2,57.2 32.6,56.7 34.0,57.0 C35.4,57.3 37.6,58.4 37.9,60.0 C38.2,61.6 37.1,65.9 36.0,66.7 C34.9,67.5 32.0,65.8 31.0,65.0 C30.0,64.2 30.2,63.2 30.0,62.0 C29.8,60.8 28.8,58.8 29.5,58.0 Z" fill="#fff"/>
<path d="M24.0,71.0 C24.3,69.8 26.7,67.8 28.0,68.0 C29.3,68.2 30.8,71.0 32.0,72.0 C33.2,73.0 33.7,74.3 35.0,74.0 C36.3,73.7 38.4,71.2 40.0,70.0 C41.6,68.8 44.1,66.5 44.8,67.0 C45.5,67.5 45.1,71.2 44.0,73.0 C42.9,74.8 40.0,76.7 38.0,77.5 C36.0,78.3 34.0,78.4 32.0,78.0 C30.0,77.6 27.3,76.2 26.0,75.0 C24.7,73.8 23.7,72.2 24.0,71.0 Z" fill="#fff"/>
<path d="M21.0,91.0 C17.5,92.2 19.5,96.5 19.2,100.0 C18.9,103.5 18.6,108.0 19.0,112.0 C19.4,116.0 20.2,120.3 21.5,124.0 C22.8,127.7 24.8,130.8 27.0,134.0 C29.2,137.2 32.2,140.3 35.0,143.0 C37.8,145.7 41.2,148.2 44.0,150.0 C46.8,151.8 49.3,153.7 52.0,154.0 C54.7,154.3 60.3,153.3 60.0,152.0 C59.7,150.7 52.7,148.3 50.0,146.0 C47.3,143.7 45.7,140.7 44.0,138.0 C42.3,135.3 40.0,132.0 40.0,130.0 C40.0,128.0 42.3,127.0 44.0,126.0 C45.7,125.0 49.7,125.3 50.0,124.0 C50.3,122.7 47.7,120.0 46.0,118.0 C44.3,116.0 40.0,114.3 40.0,112.0 C40.0,109.7 44.0,106.0 46.0,104.0 C48.0,102.0 51.3,101.5 52.0,100.0 C52.7,98.5 52.0,96.2 50.0,95.0 C48.0,93.8 44.8,93.7 40.0,93.0 C35.2,92.3 24.5,89.8 21.0,91.0 Z" fill="#c9c9c9"/>
<path d="M27.0,100.0 C27.5,97.7 29.3,96.7 30.0,98.0 C30.7,99.3 31.0,104.7 31.0,108.0 C31.0,111.3 30.7,117.3 30.0,118.0 C29.3,118.7 27.5,115.0 27.0,112.0 C26.5,109.0 26.5,102.3 27.0,100.0 Z" fill="#fff"/>
<path d="M35.0,102.0 C36.0,100.2 38.5,99.2 40.0,99.0 C41.5,98.8 44.2,99.5 44.0,101.0 C43.8,102.5 40.2,105.5 39.0,108.0 C37.8,110.5 36.3,113.7 37.0,116.0 C37.7,118.3 42.5,120.3 43.0,122.0 C43.5,123.7 41.3,126.5 40.0,126.0 C38.7,125.5 36.0,121.7 35.0,119.0 C34.0,116.3 34.0,112.8 34.0,110.0 C34.0,107.2 34.0,103.8 35.0,102.0 Z" fill="#fff"/>
<path d="M32.0,128.0 C32.7,127.7 35.3,131.0 37.0,133.0 C38.7,135.0 41.8,138.7 42.0,140.0 C42.2,141.3 39.5,141.8 38.0,141.0 C36.5,140.2 34.0,137.2 33.0,135.0 C32.0,132.8 31.3,128.3 32.0,128.0 Z" fill="#fff"/>
<path d="M25.0,72.8 C25.5,70.7 26.5,64.6 28.1,60.4 C29.6,56.3 31.8,51.8 34.2,48.0 C36.6,44.3 39.3,41.0 42.4,38.0 C45.5,34.9 49.0,32.2 52.8,29.7 C56.6,27.3 63.4,24.4 65.5,23.4" fill="none" stroke="#fff" stroke-width="1.5" stroke-linecap="round" stroke-linejoin="round" stroke-dasharray="16 3 9 2"/>
<path d="M79.2,22.3 C81.2,22.0 86.2,20.8 90.9,20.4 C95.7,19.9 102.6,19.2 107.7,19.4 C112.7,19.6 116.6,20.2 121.2,21.3 C125.8,22.5 130.9,24.3 135.2,26.4 C139.6,28.4 145.4,32.3 147.4,33.5" fill="none" stroke="#cbcbcb" stroke-width="2.6" stroke-linecap="round" stroke-linejoin="round"/>
<path d="M46.8,147.6 C45.1,145.9 39.7,141.1 36.6,137.4 C33.6,133.6 30.4,129.1 28.4,125.0 C26.4,121.0 25.1,117.1 24.4,113.1 C23.8,109.1 24.5,103.1 24.5,101.1" fill="none" stroke="#fff" stroke-width="1.5" stroke-linecap="round" stroke-linejoin="round" stroke-dasharray="12 3 18 2"/>
<path d="M157.5,129.0 C156.7,129.8 154.9,131.9 152.4,133.7 C149.9,135.6 146.2,138.0 142.6,140.0 C139.0,142.1 134.9,144.4 130.6,146.0 C126.3,147.7 121.7,149.1 116.9,150.0 C112.0,150.9 106.3,150.9 101.7,151.6 C97.1,152.4 93.9,154.1 89.4,154.4 C84.8,154.7 78.9,154.2 74.2,153.4 C69.5,152.7 65.1,151.5 61.1,149.8 C57.1,148.1 52.0,144.4 50.1,143.3" fill="none" stroke="#c9c9c9" stroke-width="3.6" stroke-linecap="round" stroke-linejoin="round"/>
<path d="M36.0,54.0 C36.7,53.2 42.2,51.8 44.0,52.0 C45.8,52.2 47.7,54.2 47.0,55.0 C46.3,55.8 41.8,57.2 40.0,57.0 C38.2,56.8 35.3,54.8 36.0,54.0 Z" fill="#fff"/>
<path d="M46.0,40.0 C47.5,38.7 54.7,36.0 56.0,36.0 C57.3,36.0 55.5,38.7 54.0,40.0 C52.5,41.3 48.3,44.0 47.0,44.0 C45.7,44.0 44.5,41.3 46.0,40.0 Z" fill="#fff"/>
<path d="M60.0,150.0 C60.7,149.5 68.7,152.0 72.0,153.0 C75.3,154.0 80.7,155.5 80.0,156.0 C79.3,156.5 71.3,157.0 68.0,156.0 C64.7,155.0 59.3,150.5 60.0,150.0 Z" fill="#fff"/>
<path d="M68.0,20.0 C69.0,19.2 76.0,17.5 80.0,17.0 C84.0,16.5 91.3,16.6 92.0,17.0 C92.7,17.4 87.0,18.8 84.0,19.5 C81.0,20.2 76.7,21.4 74.0,21.5 C71.3,21.6 67.0,20.8 68.0,20.0 Z" fill="#fff"/>
<path d="M105.0,14.0 C105.7,13.5 114.5,14.8 118.0,15.5 C121.5,16.2 126.7,17.5 126.0,18.0 C125.3,18.5 117.5,19.2 114.0,18.5 C110.5,17.8 104.3,14.5 105.0,14.0 Z" fill="#fff"/>
<path d="M34.5,71.9 C34.9,69.7 34.7,60.9 36.7,58.5 C38.8,56.1 45.1,57.6 46.8,57.4" fill="none" stroke="#c9c9c9" stroke-width="3.5" stroke-linecap="round" stroke-linejoin="round"/>
<path d="M20.0,84.0 C23.3,84.1 34.2,84.2 40.0,84.5 C45.8,84.8 52.5,85.8 55.0,86.0" fill="none" stroke="#c9c9c9" stroke-width="3.5" stroke-linecap="round" stroke-linejoin="round"/>
<path d="M28.0,95.0 C29.3,95.1 33.1,95.4 36.0,95.5 C38.9,95.6 44.0,95.5 45.6,95.5" fill="none" stroke="#c9c9c9" stroke-width="3.5" stroke-linecap="round" stroke-linejoin="round"/>
<path d="M48.0,35.0 C49.3,35.1 53.4,35.7 56.0,35.5 C58.6,35.3 62.2,34.2 63.5,34.0" fill="none" stroke="#c9c9c9" stroke-width="3.2" stroke-linecap="round" stroke-linejoin="round"/>
<path d="M66.0,25.0 C66.7,27.6 69.9,35.9 70.2,40.7 C70.5,45.5 68.4,51.8 68.0,54.0" fill="none" stroke="#cbcbcb" stroke-width="2.8" stroke-linecap="round" stroke-linejoin="round"/>
<path d="M72.4,49.6 L76.9,56.3" fill="none" stroke="#cbcbcb" stroke-width="2.5" stroke-linecap="round" stroke-linejoin="round"/>
<path d="M74.6,36.2 C74.7,38.0 75.0,43.3 75.0,47.0 C75.0,50.7 74.7,56.6 74.6,58.5" fill="none" stroke="#cbcbcb" stroke-width="3.0" stroke-linecap="round" stroke-linejoin="round"/>
<path d="M84.5,37.8 C86.6,41.2 92.6,49.8 97.0,58.0 C101.4,66.2 108.7,82.1 111.0,86.9" fill="none" stroke="#cbcbcb" stroke-width="3.6" stroke-linecap="round" stroke-linejoin="round"/>
<path d="M115.7,37.8 C113.4,41.2 106.5,51.3 102.0,58.0 C97.5,64.7 91.2,74.7 89.0,78.0" fill="none" stroke="#cbcbcb" stroke-width="3.6" stroke-linecap="round" stroke-linejoin="round"/>
<path d="M98.9,38.4 C101.1,41.7 107.9,51.7 112.0,58.0 C116.1,64.3 121.5,73.2 123.4,76.3" fill="none" stroke="#cbcbcb" stroke-width="2.4" stroke-linecap="round" stroke-linejoin="round"/>
<path d="M134.6,30.0 C134.9,33.7 135.9,45.0 136.5,52.0 C137.1,59.0 137.8,68.7 138.0,72.0" fill="none" stroke="#cbcbcb" stroke-width="2.6" stroke-linecap="round" stroke-linejoin="round"/>
<path d="M150.0,38.0 C150.3,40.8 151.3,49.7 152.0,55.0 C152.7,60.3 153.7,67.5 154.0,70.0" fill="none" stroke="#cbcbcb" stroke-width="2.4" stroke-linecap="round" stroke-linejoin="round"/>
<path d="M163.0,48.0 C163.5,50.3 165.3,57.0 166.0,62.0 C166.7,67.0 166.8,75.3 167.0,78.0" fill="none" stroke="#cbcbcb" stroke-width="3.0" stroke-linecap="round" stroke-linejoin="round"/>
<path d="M95.0,24.0 C95.8,25.2 97.5,29.8 100.0,31.0 C102.5,32.2 106.7,31.7 110.0,31.0 C113.3,30.3 118.3,27.7 120.0,27.0" fill="none" stroke="#cbcbcb" stroke-width="2.6" stroke-linecap="round" stroke-linejoin="round"/>
<path d="M62.0,66.0 C63.0,67.7 66.3,72.7 68.0,76.0 C69.7,79.3 71.3,84.3 72.0,86.0" fill="none" stroke="#cbcbcb" stroke-width="3.2" stroke-linecap="round" stroke-linejoin="round"/>
<path d="M48.0,62.0 C48.7,63.7 50.3,69.0 52.0,72.0 C53.7,75.0 57.0,78.7 58.0,80.0" fill="none" stroke="#cbcbcb" stroke-width="2.6" stroke-linecap="round" stroke-linejoin="round"/>
<path d="M124.0,30.0 L126.0,44.0" fill="none" stroke="#cbcbcb" stroke-width="2.4" stroke-linecap="round" stroke-linejoin="round"/>
<path d="M63.5,105.0 C64.6,108.0 68.7,117.0 70.2,122.9 C71.7,128.8 71.3,135.9 72.4,140.7 C73.5,145.5 76.2,150.0 76.9,151.9" fill="none" stroke="#cbcbcb" stroke-width="3.4" stroke-linecap="round" stroke-linejoin="round"/>
<path d="M50.0,100.0 L52.0,112.0" fill="none" stroke="#c9c9c9" stroke-width="3.0" stroke-linecap="round" stroke-linejoin="round"/>
<path d="M72.0,123.0 L80.0,127.0" fill="none" stroke="#cbcbcb" stroke-width="4.0" stroke-linecap="round" stroke-linejoin="round"/>
<path d="M103.4,136.3 C104.9,137.0 107.1,140.1 112.3,140.7 C117.5,141.2 130.9,139.8 134.6,139.6" fill="none" stroke="#cbcbcb" stroke-width="2.6" stroke-linecap="round" stroke-linejoin="round"/>
<path d="M90.0,138.5 L99.0,149.6" fill="none" stroke="#cbcbcb" stroke-width="2.6" stroke-linecap="round" stroke-linejoin="round"/>
<path d="M92.0,104.0 C92.2,106.3 92.7,113.3 93.0,118.0 C93.3,122.7 93.8,129.7 94.0,132.0" fill="none" stroke="#cbcbcb" stroke-width="2.2" stroke-linecap="round" stroke-linejoin="round"/>
<path d="M110.0,108.0 C111.3,110.0 115.3,117.0 118.0,120.0 C120.7,123.0 124.7,125.0 126.0,126.0" fill="none" stroke="#cbcbcb" stroke-width="2.4" stroke-linecap="round" stroke-linejoin="round"/>
<path d="M140.0,108.0 C140.5,110.3 142.0,117.7 143.0,122.0 C144.0,126.3 145.5,132.0 146.0,134.0" fill="none" stroke="#cbcbcb" stroke-width="2.4" stroke-linecap="round" stroke-linejoin="round"/>
<path d="M159.0,98.4 C159.5,100.7 162.0,106.8 162.0,112.0 C162.0,117.2 159.5,126.7 159.0,129.6" fill="none" stroke="#cbcbcb" stroke-width="3.0" stroke-linecap="round" stroke-linejoin="round"/>
<path d="M54.0,118.0 C54.7,119.7 56.7,125.3 58.0,128.0 C59.3,130.7 61.3,133.0 62.0,134.0" fill="none" stroke="#cbcbcb" stroke-width="2.6" stroke-linecap="round" stroke-linejoin="round"/>
<path d="M185.5,86.0 C185.1,83.6 186.4,76.5 187.2,72.0 C187.9,67.5 188.6,63.3 190.0,59.0 C191.4,54.7 193.3,49.9 195.5,46.0 C197.7,42.1 199.9,38.6 203.0,35.5 C206.1,32.4 211.0,29.6 214.0,27.5 C217.0,25.4 217.8,24.8 221.0,23.0 C224.2,21.2 228.7,18.3 233.4,16.5 C238.1,14.7 243.8,13.1 249.0,12.0 C254.2,10.9 259.0,10.2 264.6,9.8 C270.2,9.4 276.5,9.3 282.4,9.8 C288.3,10.3 294.7,11.1 300.0,12.8 C305.3,14.5 309.8,17.4 314.2,20.0 C318.6,22.6 322.6,24.8 326.3,28.2 C330.0,31.6 333.7,36.2 336.4,40.3 C339.1,44.3 341.0,48.5 342.5,52.5 C344.0,56.5 344.8,60.6 345.5,64.6 C346.2,68.6 346.7,73.1 346.5,76.7 C346.3,80.3 345.5,84.6 344.5,86.0 C343.5,87.4 342.3,86.8 340.6,85.2 C338.9,83.5 335.8,79.2 334.5,76.1 C333.2,73.1 333.4,69.9 332.7,66.7 C332.0,63.5 331.4,60.4 330.3,57.1 C329.3,53.8 328.3,50.4 326.4,47.0 C324.5,43.5 321.6,39.7 318.9,36.3 C316.2,33.0 313.6,29.9 310.2,26.9 C306.7,23.9 302.9,20.5 298.2,18.5 C293.5,16.5 287.5,15.4 282.0,14.8 C276.4,14.2 270.2,14.4 264.9,14.8 C259.6,15.1 255.0,15.8 250.0,16.9 C245.1,17.9 239.7,19.5 235.2,21.2 C230.8,22.8 226.3,25.2 223.2,26.9 C220.1,28.6 219.4,29.2 216.6,31.2 C213.7,33.2 209.0,35.9 206.2,38.7 C203.3,41.5 201.4,44.6 199.4,48.2 C197.5,51.8 195.6,56.3 194.3,60.4 C193.0,64.5 192.4,68.4 191.6,72.7 C190.8,77.1 190.5,84.3 189.5,86.5 C188.4,88.7 185.9,88.4 185.5,86.0 Z" fill="#c9c9c9"/>
<path d="M344.5,90.0 C345.4,90.8 345.9,93.0 346.2,96.0 C346.5,99.0 346.6,104.2 346.2,108.2 C345.8,112.2 345.4,115.9 343.5,120.3 C341.6,124.7 338.2,130.1 335.0,134.5 C331.8,138.9 328.1,142.9 324.3,146.6 C320.5,150.3 316.6,154.0 312.2,156.7 C307.8,159.4 302.2,161.5 298.0,162.7 C293.8,163.9 292.5,163.5 286.9,164.0 C281.3,164.5 272.0,165.9 264.6,165.8 C257.2,165.7 248.1,164.5 242.3,163.5 C236.5,162.5 234.2,161.3 230.0,159.8 C225.8,158.3 221.0,156.7 217.0,154.5 C213.0,152.3 209.2,150.3 206.0,146.8 C202.8,143.3 200.2,137.8 198.0,133.5 C195.8,129.2 194.5,125.6 193.0,121.0 C191.5,116.4 190.2,111.2 189.0,106.0 C187.8,100.8 185.4,92.8 185.5,90.0 C185.6,87.2 188.1,86.7 189.4,89.1 C190.7,91.6 192.1,99.9 193.4,104.9 C194.7,110.0 195.8,115.2 197.3,119.6 C198.7,124.0 200.0,127.4 202.0,131.5 C204.0,135.5 206.5,140.6 209.3,143.8 C212.2,147.0 215.4,148.6 219.1,150.5 C222.8,152.5 227.5,154.1 231.5,155.6 C235.5,157.0 237.5,158.1 243.1,159.1 C248.6,160.0 257.4,161.2 264.7,161.3 C271.9,161.4 281.2,160.1 286.5,159.5 C291.8,159.0 292.9,159.4 296.6,157.9 C300.3,156.4 305.1,153.8 308.5,150.7 C312.0,147.7 314.5,143.3 317.3,139.4 C320.1,135.6 322.9,131.5 325.3,127.4 C327.7,123.4 330.2,118.6 331.5,115.2 C332.9,111.8 332.8,109.8 333.3,106.8 C333.7,103.7 333.0,99.7 334.3,97.1 C335.5,94.5 338.9,92.3 340.7,91.1 C342.4,89.9 343.6,89.2 344.5,90.0 Z" fill="#c9c9c9"/>
<path d="M298.4,17.9 C300.5,19.1 307.4,22.3 311.5,24.7 C315.5,27.0 319.3,29.1 322.7,32.2 C326.1,35.3 329.4,39.6 331.9,43.3 C334.4,47.0 336.1,50.7 337.4,54.4 C338.8,58.1 339.6,61.8 340.2,65.5 C340.8,69.2 341.0,74.6 341.1,76.4" fill="none" stroke="#fff" stroke-width="1.4" stroke-linecap="round" stroke-linejoin="round" stroke-dasharray="15 3 10 2"/>
<path d="M209.4,41.9 C211.0,40.7 216.5,36.7 219.1,34.9 C221.8,33.1 222.5,32.5 225.4,30.8 C228.4,29.2 232.4,26.5 236.7,24.9 C240.9,23.2 246.1,21.8 250.9,20.8 C255.6,19.8 260.1,19.1 265.2,18.8 C270.3,18.4 276.3,18.3 281.6,18.8 C287.0,19.2 292.6,19.9 297.3,21.4 C301.9,22.9 307.6,26.7 309.7,27.8" fill="none" stroke="#c9c9c9" stroke-width="2.8" stroke-linecap="round" stroke-linejoin="round"/>
<path d="M340.8,96.5 C340.8,98.4 341.2,104.0 340.8,107.6 C340.5,111.2 340.2,114.2 338.5,118.2 C336.8,122.1 333.6,127.2 330.6,131.3 C327.6,135.4 324.1,139.3 320.5,142.7 C317.0,146.2 311.2,150.5 309.4,152.1" fill="none" stroke="#fff" stroke-width="1.4" stroke-linecap="round" stroke-linejoin="round" stroke-dasharray="13 2 17 3"/>
<path d="M317.3,139.4 C315.6,140.9 310.7,145.9 307.0,148.2 C303.3,150.4 298.7,152.1 295.2,153.1 C291.7,154.1 291.1,153.6 286.0,154.0 C280.9,154.5 271.7,155.9 264.7,155.8 C257.7,155.7 249.2,154.6 244.0,153.6 C238.8,152.7 237.1,151.7 233.4,150.4 C229.6,149.1 225.1,147.4 221.8,145.7 C218.4,144.0 215.9,142.9 213.4,140.1 C210.9,137.3 208.0,130.8 206.9,129.0" fill="none" stroke="#c9c9c9" stroke-width="3.2" stroke-linecap="round" stroke-linejoin="round"/>
<path d="M330.0,60.0 C330.7,57.7 333.0,55.0 334.0,56.0 C335.0,57.0 336.2,62.7 336.0,66.0 C335.8,69.3 334.0,75.3 333.0,76.0 C332.0,76.7 330.5,72.7 330.0,70.0 C329.5,67.3 329.3,62.3 330.0,60.0 Z" fill="#fff"/>
<path d="M325.0,38.0 C326.5,38.3 330.5,42.3 331.0,44.0 C331.5,45.7 329.5,48.3 328.0,48.0 C326.5,47.7 322.5,43.7 322.0,42.0 C321.5,40.3 323.5,37.7 325.0,38.0 Z" fill="#fff"/>
<path d="M334.0,100.0 C335.0,98.0 338.2,96.3 339.0,98.0 C339.8,99.7 339.7,106.7 339.0,110.0 C338.3,113.3 336.0,118.0 335.0,118.0 C334.0,118.0 333.2,113.0 333.0,110.0 C332.8,107.0 333.0,102.0 334.0,100.0 Z" fill="#fff"/>
<path d="M318.0,140.0 C318.7,138.0 324.0,133.0 326.0,132.0 C328.0,131.0 330.7,132.0 330.0,134.0 C329.3,136.0 324.0,143.0 322.0,144.0 C320.0,145.0 317.3,142.0 318.0,140.0 Z" fill="#fff"/>
<path d="M255.0,18.0 C255.0,17.5 265.5,15.8 270.0,15.5 C274.5,15.2 282.0,15.5 282.0,16.0 C282.0,16.5 274.5,18.2 270.0,18.5 C265.5,18.8 255.0,18.5 255.0,18.0 Z" fill="#fff"/>
<path d="M290.0,158.0 C290.7,157.2 297.3,154.5 300.0,154.0 C302.7,153.5 306.7,154.2 306.0,155.0 C305.3,155.8 298.7,158.5 296.0,159.0 C293.3,159.5 289.3,158.8 290.0,158.0 Z" fill="#fff"/>
<path d="M253.4,21.0 L255.7,27.3" fill="none" stroke="#c9c9c9" stroke-width="2.6" stroke-linecap="round" stroke-linejoin="round"/>
<path d="M257.9,27.0 C261.2,27.2 272.6,28.3 278.0,28.5 C283.4,28.7 288.0,28.1 290.0,28.0" fill="none" stroke="#cbcbcb" stroke-width="3.0" stroke-linecap="round" stroke-linejoin="round"/>
<path d="M242.3,56.3 C244.1,54.4 249.3,48.7 253.0,45.0 C256.7,41.3 262.7,35.8 264.6,34.0" fill="none" stroke="#cbcbcb" stroke-width="3.2" stroke-linecap="round" stroke-linejoin="round"/>
<path d="M278.0,33.0 C278.7,35.0 281.7,40.8 282.0,45.0 C282.3,49.2 280.3,55.8 280.0,58.0" fill="none" stroke="#cbcbcb" stroke-width="2.6" stroke-linecap="round" stroke-linejoin="round"/>
<path d="M290.0,35.0 C290.6,37.2 293.2,44.2 293.5,48.0 C293.8,51.8 292.2,56.3 292.0,58.0" fill="none" stroke="#cbcbcb" stroke-width="2.6" stroke-linecap="round" stroke-linejoin="round"/>
<path d="M220.0,38.4 C221.0,40.7 223.8,47.2 226.0,52.0 C228.2,56.8 232.2,64.8 233.4,67.4" fill="none" stroke="#cbcbcb" stroke-width="3.0" stroke-linecap="round" stroke-linejoin="round"/>
<path d="M200.0,48.0 C201.0,49.7 204.3,54.3 206.0,58.0 C207.7,61.7 209.3,68.0 210.0,70.0" fill="none" stroke="#cbcbcb" stroke-width="2.8" stroke-linecap="round" stroke-linejoin="round"/>
<path d="M303.0,40.0 C304.8,41.0 310.5,44.3 314.0,46.0 C317.5,47.7 322.3,49.3 324.0,50.0" fill="none" stroke="#c9c9c9" stroke-width="3.0" stroke-linecap="round" stroke-linejoin="round"/>
<path d="M316.0,60.0 C317.3,61.3 322.0,64.7 324.0,68.0 C326.0,71.3 327.3,78.0 328.0,80.0" fill="none" stroke="#cbcbcb" stroke-width="3.0" stroke-linecap="round" stroke-linejoin="round"/>
<path d="M308.0,68.0 C308.7,69.7 311.0,75.0 312.0,78.0 C313.0,81.0 313.7,84.7 314.0,86.0" fill="none" stroke="#cbcbcb" stroke-width="2.6" stroke-linecap="round" stroke-linejoin="round"/>
<path d="M320.0,85.0 C322.0,85.2 328.7,85.8 332.0,86.0 C335.3,86.2 338.7,86.0 340.0,86.0" fill="none" stroke="#c9c9c9" stroke-width="3.5" stroke-linecap="round" stroke-linejoin="round"/>
<path d="M194.6,93.0 C195.3,94.5 197.9,98.8 199.0,102.0 C200.1,105.2 200.7,110.3 201.0,112.0" fill="none" stroke="#cbcbcb" stroke-width="2.8" stroke-linecap="round" stroke-linejoin="round"/>
<path d="M271.0,107.8 C272.9,109.3 279.8,112.2 282.4,116.7 C285.0,121.2 286.1,131.6 286.9,134.6" fill="none" stroke="#cbcbcb" stroke-width="3.2" stroke-linecap="round" stroke-linejoin="round"/>
<path d="M257.9,110.0 L264.6,130.0" fill="none" stroke="#cbcbcb" stroke-width="2.6" stroke-linecap="round" stroke-linejoin="round"/>
<path d="M269.0,99.0 L278.0,106.0" fill="none" stroke="#cbcbcb" stroke-width="2.6" stroke-linecap="round" stroke-linejoin="round"/>
<path d="M222.0,134.6 C223.3,135.5 226.7,138.1 230.0,140.0 C233.3,141.9 240.0,145.0 242.0,146.0" fill="none" stroke="#cbcbcb" stroke-width="2.6" stroke-linecap="round" stroke-linejoin="round"/>
<path d="M228.0,120.0 C229.0,121.7 232.3,127.0 234.0,130.0 C235.7,133.0 237.3,136.7 238.0,138.0" fill="none" stroke="#cbcbcb" stroke-width="2.6" stroke-linecap="round" stroke-linejoin="round"/>
<path d="M320.0,95.0 C321.0,97.5 325.3,105.2 326.0,110.0 C326.7,114.8 324.3,121.7 324.0,124.0" fill="none" stroke="#c9c9c9" stroke-width="3.0" stroke-linecap="round" stroke-linejoin="round"/>
<path d="M304.0,120.0 C305.3,121.3 309.7,124.7 312.0,128.0 C314.3,131.3 317.0,138.0 318.0,140.0" fill="none" stroke="#cbcbcb" stroke-width="3.0" stroke-linecap="round" stroke-linejoin="round"/>
<path d="M300.0,95.0 C301.0,96.7 304.7,102.2 306.0,105.0 C307.3,107.8 307.7,110.8 308.0,112.0" fill="none" stroke="#cbcbcb" stroke-width="2.6" stroke-linecap="round" stroke-linejoin="round"/>
<path d="M210.0,98.0 C211.0,99.7 215.3,104.0 216.0,108.0 C216.7,112.0 214.3,119.7 214.0,122.0" fill="none" stroke="#cbcbcb" stroke-width="2.6" stroke-linecap="round" stroke-linejoin="round"/>
<path d="M250.0,90.0 L252.0,102.0" fill="none" stroke="#cbcbcb" stroke-width="2.4" stroke-linecap="round" stroke-linejoin="round"/>
<path d="M292.0,140.0 L300.0,146.0" fill="none" stroke="#cbcbcb" stroke-width="2.6" stroke-linecap="round" stroke-linejoin="round"/>
<path d="M240.0,30.0 L242.0,42.0" fill="none" stroke="#cbcbcb" stroke-width="2.4" stroke-linecap="round" stroke-linejoin="round"/>
<path d="M262.0,60.0 C262.7,62.0 265.7,68.0 266.0,72.0 C266.3,76.0 264.3,82.0 264.0,84.0" fill="none" stroke="#cbcbcb" stroke-width="2.4" stroke-linecap="round" stroke-linejoin="round"/>
<path d="M73.4,94.5 C74.1,96.7 76.7,103.7 77.8,107.8 C78.9,111.9 80.4,115.7 80.0,119.0 C79.6,122.3 77.8,125.3 75.6,127.9 C73.4,130.5 68.2,133.5 66.7,134.6" fill="none" stroke="#cbcbcb" stroke-width="3.4" stroke-linecap="round" stroke-linejoin="round"/>
<path d="M82.3,103.4 L91.2,119.0" fill="none" stroke="#cbcbcb" stroke-width="2.8" stroke-linecap="round" stroke-linejoin="round"/>
<path d="M92.0,106.0 C93.3,107.0 97.3,110.0 100.0,112.0 C102.7,114.0 106.7,117.0 108.0,118.0" fill="none" stroke="#cbcbcb" stroke-width="2.6" stroke-linecap="round" stroke-linejoin="round"/>
<path d="M60.0,132.0 C61.0,133.3 64.0,137.7 66.0,140.0 C68.0,142.3 71.0,145.0 72.0,146.0" fill="none" stroke="#cbcbcb" stroke-width="3.0" stroke-linecap="round" stroke-linejoin="round"/>
<path d="M73.0,137.0 C74.5,137.5 78.7,139.2 82.0,140.0 C85.3,140.8 91.2,141.7 93.0,142.0" fill="none" stroke="#cbcbcb" stroke-width="2.8" stroke-linecap="round" stroke-linejoin="round"/>
<path d="M91.2,150.2 C92.7,150.7 96.7,151.9 100.0,153.0 C103.3,154.1 109.2,156.2 111.0,156.9" fill="none" stroke="#cbcbcb" stroke-width="3.0" stroke-linecap="round" stroke-linejoin="round"/>
<path d="M115.0,130.0 C116.2,131.0 119.5,134.7 122.0,136.0 C124.5,137.3 128.7,137.7 130.0,138.0" fill="none" stroke="#cbcbcb" stroke-width="2.4" stroke-linecap="round" stroke-linejoin="round"/>
<path d="M118.0,104.0 L124.0,110.0" fill="none" stroke="#cbcbcb" stroke-width="2.4" stroke-linecap="round" stroke-linejoin="round"/>
<path d="M104.0,66.0 C104.7,67.3 106.0,71.7 108.0,74.0 C110.0,76.3 114.7,79.0 116.0,80.0" fill="none" stroke="#cbcbcb" stroke-width="2.4" stroke-linecap="round" stroke-linejoin="round"/>
<path d="M86.0,66.0 C86.3,67.7 88.0,73.0 88.0,76.0 C88.0,79.0 86.3,82.7 86.0,84.0" fill="none" stroke="#cbcbcb" stroke-width="2.4" stroke-linecap="round" stroke-linejoin="round"/>
<path d="M128.0,44.0 L132.0,52.0" fill="none" stroke="#cbcbcb" stroke-width="2.4" stroke-linecap="round" stroke-linejoin="round"/>
<path d="M106.0,36.0 L112.0,42.0" fill="none" stroke="#cbcbcb" stroke-width="2.4" stroke-linecap="round" stroke-linejoin="round"/>
<path d="M140.0,44.0 L146.0,50.0" fill="none" stroke="#cbcbcb" stroke-width="2.2" stroke-linecap="round" stroke-linejoin="round"/>
<path d="M58.0,44.0 L66.0,48.0" fill="none" stroke="#cbcbcb" stroke-width="2.6" stroke-linecap="round" stroke-linejoin="round"/>
<path d="M82.0,28.0 L90.0,34.0" fill="none" stroke="#cbcbcb" stroke-width="2.6" stroke-linecap="round" stroke-linejoin="round"/>
<path d="M291.2,29.0 C292.3,31.9 294.5,42.2 297.9,46.7 C301.2,51.2 309.1,54.2 311.3,55.7" fill="none" stroke="#cbcbcb" stroke-width="3.2" stroke-linecap="round" stroke-linejoin="round"/>
<path d="M295.0,37.0 L307.0,40.0" fill="none" stroke="#cbcbcb" stroke-width="2.6" stroke-linecap="round" stroke-linejoin="round"/>
<path d="M315.7,42.3 L326.9,57.9" fill="none" stroke="#cbcbcb" stroke-width="3.0" stroke-linecap="round" stroke-linejoin="round"/>
<path d="M318.0,70.0 C318.7,71.3 320.7,75.3 322.0,78.0 C323.3,80.7 325.3,84.7 326.0,86.0" fill="none" stroke="#cbcbcb" stroke-width="2.8" stroke-linecap="round" stroke-linejoin="round"/>
<path d="M300.0,78.0 L304.0,86.0" fill="none" stroke="#cbcbcb" stroke-width="2.6" stroke-linecap="round" stroke-linejoin="round"/>
<path d="M282.3,94.5 C283.8,96.7 289.4,103.3 291.2,107.8 C293.0,112.2 293.3,116.8 293.4,121.2 C293.5,125.6 292.2,131.9 292.0,134.0" fill="none" stroke="#cbcbcb" stroke-width="3.6" stroke-linecap="round" stroke-linejoin="round"/>
<path d="M291.0,108.0 L300.0,112.0" fill="none" stroke="#cbcbcb" stroke-width="2.8" stroke-linecap="round" stroke-linejoin="round"/>
<path d="M311.3,90.0 C311.7,92.2 314.1,99.4 313.5,103.4 C312.9,107.4 308.9,112.2 308.0,114.0" fill="none" stroke="#cbcbcb" stroke-width="3.0" stroke-linecap="round" stroke-linejoin="round"/>
<path d="M297.9,130.0 C299.0,131.5 301.8,136.8 304.6,139.0 C307.5,141.2 313.3,142.3 315.0,143.0" fill="none" stroke="#cbcbcb" stroke-width="3.0" stroke-linecap="round" stroke-linejoin="round"/>
<path d="M318.0,96.0 L322.0,104.0" fill="none" stroke="#cbcbcb" stroke-width="2.8" stroke-linecap="round" stroke-linejoin="round"/>
<path d="M326.0,120.0 L330.0,128.0" fill="none" stroke="#cbcbcb" stroke-width="2.8" stroke-linecap="round" stroke-linejoin="round"/>
<path d="M272.0,60.0 C272.7,61.7 275.5,66.7 276.0,70.0 C276.5,73.3 275.2,78.3 275.0,80.0" fill="none" stroke="#cbcbcb" stroke-width="2.4" stroke-linecap="round" stroke-linejoin="round"/>
<path d="M236.0,90.0 L238.0,100.0" fill="none" stroke="#cbcbcb" stroke-width="2.4" stroke-linecap="round" stroke-linejoin="round"/>
<path d="M244.0,112.0 C244.7,114.0 246.7,120.7 248.0,124.0 C249.3,127.3 251.3,130.7 252.0,132.0" fill="none" stroke="#cbcbcb" stroke-width="2.4" stroke-linecap="round" stroke-linejoin="round"/>
<path d="M272.0,122.0 C272.7,124.0 275.0,130.0 276.0,134.0 C277.0,138.0 277.7,144.0 278.0,146.0" fill="none" stroke="#cbcbcb" stroke-width="2.6" stroke-linecap="round" stroke-linejoin="round"/>
<path d="M214.0,60.0 L220.0,70.0" fill="none" stroke="#cbcbcb" stroke-width="2.4" stroke-linecap="round" stroke-linejoin="round"/>
<path d="M206.0,118.0 C207.0,119.3 209.7,123.7 212.0,126.0 C214.3,128.3 218.7,131.0 220.0,132.0" fill="none" stroke="#cbcbcb" stroke-width="2.6" stroke-linecap="round" stroke-linejoin="round"/>
<path d="M232.0,40.0 L236.0,50.0" fill="none" stroke="#cbcbcb" stroke-width="2.4" stroke-linecap="round" stroke-linejoin="round"/>
<path d="M86.0,15.5 L96.0,16.5" fill="none" stroke="#c9c9c9" stroke-width="3.5" stroke-linecap="round" stroke-linejoin="round"/>
<path d="M64.0,24.0 C65.3,24.5 69.0,26.0 72.0,27.0 C75.0,28.0 80.3,29.5 82.0,30.0" fill="none" stroke="#cbcbcb" stroke-width="2.8" stroke-linecap="round" stroke-linejoin="round"/>
<path d="M112.0,15.8 C112.3,15.4 117.7,16.0 120.0,16.5 C122.3,17.0 126.3,18.6 126.0,19.0 C125.7,19.4 120.3,19.5 118.0,19.0 C115.7,18.5 111.7,16.2 112.0,15.8 Z" fill="#fff"/>
<path d="M150.0,31.0 C151.2,32.5 155.4,36.5 157.5,40.0 C159.6,43.5 161.2,47.8 162.5,52.0 C163.8,56.2 164.8,60.7 165.5,65.0 C166.2,69.3 166.3,75.8 166.5,78.0" fill="none" stroke="#c9c9c9" stroke-width="3.8" stroke-linecap="round" stroke-linejoin="round"/>
<path d="M232.0,22.0 C234.2,21.5 240.7,19.8 245.0,19.0 C249.3,18.2 253.5,17.6 258.0,17.0 C262.5,16.4 266.7,15.7 272.0,15.5 C277.3,15.3 285.0,15.5 290.0,16.0 C295.0,16.5 300.0,18.1 302.0,18.5" fill="none" stroke="#c9c9c9" stroke-width="3.6" stroke-linecap="round" stroke-linejoin="round"/>
<path d="M238.0,22.0 L240.0,32.0" fill="none" stroke="#c9c9c9" stroke-width="2.6" stroke-linecap="round" stroke-linejoin="round"/>
<path d="M262.0,17.0 L262.0,28.0" fill="none" stroke="#c9c9c9" stroke-width="2.6" stroke-linecap="round" stroke-linejoin="round"/>
<path d="M280.0,16.0 L283.0,28.0" fill="none" stroke="#c9c9c9" stroke-width="2.6" stroke-linecap="round" stroke-linejoin="round"/>
<path d="M218.0,30.0 C216.7,31.3 212.2,35.3 210.0,38.0 C207.8,40.7 206.3,43.0 205.0,46.0 C203.7,49.0 202.5,54.3 202.0,56.0" fill="none" stroke="#c9c9c9" stroke-width="3.2" stroke-linecap="round" stroke-linejoin="round"/>
<path d="M204.0,128.0 C205.2,129.8 208.0,136.0 211.0,139.0 C214.0,142.0 220.2,144.8 222.0,146.0" fill="none" stroke="#c9c9c9" stroke-width="3.2" stroke-linecap="round" stroke-linejoin="round"/>
<path d="M250.0,160.0 C252.5,160.1 260.0,160.7 265.0,160.5 C270.0,160.3 277.5,159.2 280.0,159.0" fill="none" stroke="#c9c9c9" stroke-width="3.4" stroke-linecap="round" stroke-linejoin="round"/>
<path d="M96.0,158.5 C97.5,158.3 101.8,157.8 105.0,157.5 C108.2,157.2 111.5,156.9 115.0,156.5 C118.5,156.1 124.2,155.2 126.0,155.0" fill="none" stroke="#c9c9c9" stroke-width="4.5" stroke-linecap="round" stroke-linejoin="round"/>
<path d="M201.7,110.3 C203.9,111.1 210.4,113.4 215.0,115.0 C219.6,116.6 223.4,118.5 229.0,120.0 C234.6,121.5 245.2,123.3 248.5,124.0" fill="none" stroke="#cbcbcb" stroke-width="3.0" stroke-linecap="round" stroke-linejoin="round"/>
<path d="M209.5,116.2 C210.1,117.7 211.7,122.1 213.0,125.0 C214.3,127.9 216.6,132.2 217.3,133.7" fill="none" stroke="#cbcbcb" stroke-width="2.8" stroke-linecap="round" stroke-linejoin="round"/>
<path d="M215.3,104.5 C216.4,104.8 219.7,105.8 222.0,106.5 C224.3,107.2 227.8,108.1 229.0,108.4" fill="none" stroke="#cbcbcb" stroke-width="2.8" stroke-linecap="round" stroke-linejoin="round"/>
<path d="M202.0,126.0 C203.0,127.2 206.0,130.7 208.0,133.0 C210.0,135.3 213.0,138.8 214.0,140.0" fill="none" stroke="#cbcbcb" stroke-width="2.8" stroke-linecap="round" stroke-linejoin="round"/>
<path d="M233.0,126.0 C234.2,126.7 237.4,128.7 240.0,130.0 C242.6,131.3 247.1,133.3 248.5,134.0" fill="none" stroke="#cbcbcb" stroke-width="3.2" stroke-linecap="round" stroke-linejoin="round"/>
<path d="M222.0,142.0 C223.3,142.7 227.0,145.0 230.0,146.0 C233.0,147.0 238.3,147.7 240.0,148.0" fill="none" stroke="#cbcbcb" stroke-width="2.6" stroke-linecap="round" stroke-linejoin="round"/>
<path d="M209.5,36.0 C210.6,37.0 213.8,40.0 216.0,42.0 C218.2,44.0 221.8,47.0 223.0,48.0" fill="none" stroke="#cbcbcb" stroke-width="3.0" stroke-linecap="round" stroke-linejoin="round"/>
<path d="M200.0,52.0 C201.3,52.7 204.8,54.5 208.0,56.0 C211.2,57.5 217.2,59.9 219.0,60.7" fill="none" stroke="#cbcbcb" stroke-width="3.0" stroke-linecap="round" stroke-linejoin="round"/>
<path d="M226.0,34.0 C227.7,34.7 232.7,37.0 236.0,38.0 C239.3,39.0 244.3,39.7 246.0,40.0" fill="none" stroke="#cbcbcb" stroke-width="2.6" stroke-linecap="round" stroke-linejoin="round"/>
<path d="M244.6,36.0 C245.8,37.0 249.4,40.0 252.0,42.0 C254.6,44.0 258.7,47.0 260.0,48.0" fill="none" stroke="#cbcbcb" stroke-width="2.8" stroke-linecap="round" stroke-linejoin="round"/>
<path d="M194.0,66.0 C195.0,67.0 198.3,69.7 200.0,72.0 C201.7,74.3 203.3,78.7 204.0,80.0" fill="none" stroke="#cbcbcb" stroke-width="2.6" stroke-linecap="round" stroke-linejoin="round"/>
<path d="M219.0,29.5 C221.2,28.6 227.1,25.8 232.0,24.0 C236.9,22.2 245.8,19.8 248.5,19.0" fill="none" stroke="#fff" stroke-width="2.0" stroke-linecap="round" stroke-linejoin="round"/>
<path d="M262.0,40.0 C263.3,41.7 267.7,47.3 270.0,50.0 C272.3,52.7 275.0,55.0 276.0,56.0" fill="none" stroke="#cbcbcb" stroke-width="2.6" stroke-linecap="round" stroke-linejoin="round"/>
<path d="M300.0,62.0 C300.7,63.7 303.0,69.0 304.0,72.0 C305.0,75.0 305.7,78.7 306.0,80.0" fill="none" stroke="#cbcbcb" stroke-width="2.6" stroke-linecap="round" stroke-linejoin="round"/>
<path d="M256.0,66.0 L260.0,76.0" fill="none" stroke="#cbcbcb" stroke-width="2.4" stroke-linecap="round" stroke-linejoin="round"/>
<path d="M240.0,62.0 C241.0,63.3 245.0,67.0 246.0,70.0 C247.0,73.0 246.0,78.3 246.0,80.0" fill="none" stroke="#cbcbcb" stroke-width="2.4" stroke-linecap="round" stroke-linejoin="round"/>
<path d="M282.0,66.0 L286.0,76.0" fill="none" stroke="#cbcbcb" stroke-width="2.4" stroke-linecap="round" stroke-linejoin="round"/>
<path d="M230.0,92.0 C231.0,93.3 234.0,97.3 236.0,100.0 C238.0,102.7 241.0,106.7 242.0,108.0" fill="none" stroke="#cbcbcb" stroke-width="2.4" stroke-linecap="round" stroke-linejoin="round"/>
<path d="M258.0,92.0 L264.0,100.0" fill="none" stroke="#cbcbcb" stroke-width="2.4" stroke-linecap="round" stroke-linejoin="round"/>
<path d="M292.0,108.0 C293.3,109.3 297.7,113.0 300.0,116.0 C302.3,119.0 305.0,124.3 306.0,126.0" fill="none" stroke="#cbcbcb" stroke-width="2.6" stroke-linecap="round" stroke-linejoin="round"/>
<path d="M252.0,138.0 C253.0,139.3 256.3,143.7 258.0,146.0 C259.7,148.3 261.3,151.0 262.0,152.0" fill="none" stroke="#cbcbcb" stroke-width="2.6" stroke-linecap="round" stroke-linejoin="round"/>
<path d="M276.0,136.0 C277.3,137.0 281.3,140.3 284.0,142.0 C286.7,143.7 290.7,145.3 292.0,146.0" fill="none" stroke="#cbcbcb" stroke-width="2.6" stroke-linecap="round" stroke-linejoin="round"/>
<path d="M306.0,135.0 L314.0,138.0" fill="none" stroke="#cbcbcb" stroke-width="2.6" stroke-linecap="round" stroke-linejoin="round"/>
<path d="M52.0,86.0 C53.0,86.7 56.3,88.3 58.0,90.0 C59.7,91.7 61.3,95.0 62.0,96.0" fill="none" stroke="#c9c9c9" stroke-width="3.6" stroke-linecap="round" stroke-linejoin="round"/>
<path d="M60.0,62.0 C60.3,63.7 62.0,68.7 62.0,72.0 C62.0,75.3 60.3,80.3 60.0,82.0" fill="none" stroke="#cbcbcb" stroke-width="3.0" stroke-linecap="round" stroke-linejoin="round"/>
<path d="M66.0,84.0 C66.7,85.3 69.7,89.5 70.0,92.0 C70.3,94.5 68.3,97.8 68.0,99.0" fill="none" stroke="#cbcbcb" stroke-width="3.0" stroke-linecap="round" stroke-linejoin="round"/>
<path d="M48.0,104.0 C49.0,104.7 52.0,107.3 54.0,108.0 C56.0,108.7 59.0,108.0 60.0,108.0" fill="none" stroke="#cbcbcb" stroke-width="2.8" stroke-linecap="round" stroke-linejoin="round"/>
<path d="M152.0,28.5 C153.4,29.6 157.5,32.2 160.5,35.0 C163.5,37.8 167.2,41.2 170.0,45.0 C172.8,48.8 175.2,53.2 177.0,57.5 C178.8,61.8 180.0,66.6 181.0,71.0 C182.0,75.4 182.7,81.0 183.0,84.0 C183.3,87.0 183.3,86.3 183.0,89.0 C182.7,91.7 181.9,96.2 181.0,100.0 C180.1,103.8 178.9,108.0 177.5,112.0 C176.1,116.0 174.6,120.2 172.5,124.0 C170.4,127.8 167.4,131.7 165.0,134.5 C162.6,137.3 160.7,138.9 158.0,141.0 C155.3,143.1 150.5,146.0 149.0,147.0" fill="none" stroke="#b2b2b2" stroke-width="3.8" stroke-linecap="round" stroke-linejoin="round"/>
<path d="M221.0,23.5 C219.9,24.3 217.4,26.1 214.6,28.2 C211.8,30.3 207.1,33.0 204.0,36.0 C200.9,39.0 198.2,42.3 196.0,46.0 C193.8,49.7 191.9,54.0 190.5,58.0 C189.1,62.0 188.4,65.7 187.5,70.0 C186.6,74.3 185.4,80.8 185.0,84.0 C184.6,87.2 184.6,85.7 185.0,89.0 C185.4,92.3 186.2,98.7 187.5,104.0 C188.8,109.3 190.7,116.4 192.5,121.0 C194.3,125.6 196.2,128.4 198.5,131.5 C200.8,134.6 203.8,137.2 206.5,139.5 C209.2,141.8 212.2,143.8 215.0,145.5 C217.8,147.2 221.7,149.2 223.0,150.0" fill="none" stroke="#b2b2b2" stroke-width="3.8" stroke-linecap="round" stroke-linejoin="round"/>
</g>
<line x1="95.8" y1="130.7" x2="283.8" y2="74.7" stroke="#e52222" stroke-width="1.2"/>
<line x1="95.8" y1="130.7" x2="300.2" y2="59.2" stroke="#e52222" stroke-width="1.2"/>
<line x1="96.1" y1="144" x2="284" y2="87.4" stroke="#e52222" stroke-width="1.2"/>
<line x1="96.1" y1="144" x2="283.8" y2="74.7" stroke="#e52222" stroke-width="1.2"/>
<line x1="80.1" y1="87.6" x2="300.2" y2="59.2" stroke="#e52222" stroke-width="1.2"/>
<line x1="80.4" y1="101.7" x2="300.2" y2="59.2" stroke="#e52222" stroke-width="1.2"/>
<line x1="80.4" y1="116.4" x2="299.4" y2="73.8" stroke="#e52222" stroke-width="1.2"/>
<line x1="65.4" y1="101.7" x2="300.2" y2="59.2" stroke="#e52222" stroke-width="1.2"/>
<line x1="125" y1="88.3" x2="288.5" y2="31.4" stroke="#2326e0" stroke-width="1.2"/>
<line x1="139" y1="88.3" x2="288.5" y2="31.4" stroke="#2326e0" stroke-width="1.2"/>
<line x1="110.2" y1="59.7" x2="285.1" y2="45.4" stroke="#2326e0" stroke-width="1.2"/>
<g font-size="6.2" fill="#1a1a1a" stroke="#1a1a1a" stroke-width="0.18"><rect x="75.9" y="32.0" width="8.6" height="6.0" fill="#fff" stroke="none"/><circle cx="75.3" cy="31.2" r="0.7" fill="#d03030" stroke="none"/><text transform="translate(76.55,36.25) scale(0.95,1)">P7</text><rect x="96.0" y="32.0" width="12.2" height="6.0" fill="#fff" stroke="none"/><circle cx="95.4" cy="31.2" r="0.7" fill="#d03030" stroke="none"/><text transform="translate(96.65,36.25) scale(0.95,1)">TP7</text><rect x="110.7" y="32.0" width="8.3" height="6.0" fill="#fff" stroke="none"/><circle cx="110.1" cy="31.2" r="0.7" fill="#d03030" stroke="none"/><text transform="translate(111.35,36.25) scale(0.95,1)">T7</text><rect x="126.8" y="32.0" width="11.9" height="6.0" fill="#fff" stroke="none"/><circle cx="126.2" cy="31.2" r="0.7" fill="#d03030" stroke="none"/><text transform="translate(127.45,36.25) scale(0.95,1)">FT7</text><rect x="141.5" y="32.0" width="8.3" height="6.0" fill="#fff" stroke="none"/><circle cx="140.9" cy="31.2" r="0.7" fill="#d03030" stroke="none"/><text transform="translate(142.15,36.25) scale(0.95,1)">F7</text><rect x="59.5" y="43.7" width="13.2" height="6.0" fill="#fff" stroke="none"/><circle cx="58.9" cy="42.9" r="0.7" fill="#d03030" stroke="none"/><text transform="translate(60.15,47.95) scale(0.95,1)">PO7</text><rect x="79.0" y="46.3" width="8.6" height="6.0" fill="#fff" stroke="none"/><circle cx="78.4" cy="45.5" r="0.7" fill="#d03030" stroke="none"/><text transform="translate(79.65,50.55) scale(0.95,1)">P5</text><rect x="96.0" y="46.3" width="12.9" height="6.0" fill="#fff" stroke="none"/><circle cx="95.4" cy="45.5" r="0.7" fill="#d03030" stroke="none"/><text transform="translate(96.65,50.55) scale(0.95,1)">CP5</text><rect x="110.6" y="46.3" width="8.9" height="6.0" fill="#fff" stroke="none"/><circle cx="110.0" cy="45.5" r="0.7" fill="#d03030" stroke="none"/><text transform="translate(111.25,50.55) scale(0.95,1)">C5</text><rect x="125.8" y="46.3" width="12.5" height="6.0" fill="#fff" stroke="none"/><circle cx="125.2" cy="45.5" r="0.7" fill="#d03030" stroke="none"/><text transform="translate(126.45,50.55) scale(0.95,1)">FC5</text><rect x="140.4" y="46.3" width="8.3" height="6.0" fill="#fff" stroke="none"/><circle cx="139.8" cy="45.5" r="0.7" fill="#d03030" stroke="none"/><text transform="translate(141.05,50.55) scale(0.95,1)">F5</text><rect x="48.2" y="59.5" width="12.9" height="6.0" fill="#fff" stroke="none"/><circle cx="47.6" cy="58.7" r="0.7" fill="#d03030" stroke="none"/><text transform="translate(48.85,63.75) scale(0.95,1)">CB1</text><rect x="64.8" y="60.5" width="13.2" height="6.0" fill="#fff" stroke="none"/><circle cx="64.2" cy="59.7" r="0.7" fill="#d03030" stroke="none"/><text transform="translate(65.45,64.75) scale(0.95,1)">PO5</text><rect x="80.7" y="60.5" width="8.6" height="6.0" fill="#fff" stroke="none"/><circle cx="80.1" cy="59.7" r="0.7" fill="#d03030" stroke="none"/><text transform="translate(81.35,64.75) scale(0.95,1)">P3</text><rect x="96.1" y="60.5" width="12.9" height="6.0" fill="#fff" stroke="none"/><circle cx="95.5" cy="59.7" r="0.7" fill="#d03030" stroke="none"/><text transform="translate(96.75,64.75) scale(0.95,1)">CP3</text><rect x="110.8" y="60.5" width="8.9" height="6.0" fill="#fff" stroke="none"/><circle cx="110.2" cy="59.7" r="0.7" fill="#d03030" stroke="none"/><text transform="translate(111.45,64.75) scale(0.95,1)">C3</text><rect x="125.6" y="60.5" width="12.5" height="6.0" fill="#fff" stroke="none"/><circle cx="125.0" cy="59.7" r="0.7" fill="#d03030" stroke="none"/><text transform="translate(126.25,64.75) scale(0.95,1)">FC3</text><rect x="140.2" y="60.5" width="8.3" height="6.0" fill="#fff" stroke="none"/><circle cx="139.6" cy="59.7" r="0.7" fill="#d03030" stroke="none"/><text transform="translate(140.85,64.75) scale(0.95,1)">F3</text><rect x="150.7" y="67.2" width="12.2" height="6.0" fill="#fff" stroke="none"/><circle cx="150.1" cy="66.4" r="0.7" fill="#d03030" stroke="none"/><text transform="translate(151.35,71.45) scale(0.95,1)">AF3</text><rect x="46.2" y="74.5" width="9.3" height="6.0" fill="#fff" stroke="none"/><circle cx="45.6" cy="73.7" r="0.7" fill="#d03030" stroke="none"/><text transform="translate(46.85,78.75) scale(0.95,1)">O1</text><rect x="65.1" y="74.5" width="13.2" height="6.0" fill="#fff" stroke="none"/><circle cx="64.5" cy="73.7" r="0.7" fill="#d03030" stroke="none"/><text transform="translate(65.75,78.75) scale(0.95,1)">PO3</text><rect x="80.7" y="74.3" width="8.6" height="6.0" fill="#fff" stroke="none"/><circle cx="80.1" cy="73.5" r="0.7" fill="#d03030" stroke="none"/><text transform="translate(81.35,78.55) scale(0.95,1)">P1</text><rect x="96.1" y="74.5" width="12.9" height="6.0" fill="#fff" stroke="none"/><circle cx="95.5" cy="73.7" r="0.7" fill="#d03030" stroke="none"/><text transform="translate(96.75,78.75) scale(0.95,1)">CP1</text><rect x="110.8" y="74.5" width="8.9" height="6.0" fill="#fff" stroke="none"/><circle cx="110.2" cy="73.7" r="0.7" fill="#d03030" stroke="none"/><text transform="translate(111.45,78.75) scale(0.95,1)">C1</text><rect x="125.6" y="75.1" width="12.5" height="6.0" fill="#fff" stroke="none"/><circle cx="125.0" cy="74.3" r="0.7" fill="#d03030" stroke="none"/><text transform="translate(126.25,79.35) scale(0.95,1)">FC1</text><rect x="140.2" y="75.1" width="8.3" height="6.0" fill="#fff" stroke="none"/><circle cx="139.6" cy="74.3" r="0.7" fill="#d03030" stroke="none"/><text transform="translate(140.85,79.35) scale(0.95,1)">F1</text><rect x="163.2" y="75.1" width="12.2" height="6.0" fill="#fff" stroke="none"/><circle cx="162.6" cy="74.3" r="0.7" fill="#d03030" stroke="none"/><text transform="translate(163.85,79.35) scale(0.95,1)">FP1</text><rect x="43.2" y="88.4" width="9.6" height="6.0" fill="#fff" stroke="none"/><circle cx="42.6" cy="87.6" r="0.7" fill="#d03030" stroke="none"/><text transform="translate(43.85,92.65) scale(0.95,1)">OZ</text><rect x="65.4" y="88.4" width="13.5" height="6.0" fill="#fff" stroke="none"/><circle cx="64.8" cy="87.6" r="0.7" fill="#d03030" stroke="none"/><text transform="translate(66.05,92.65) scale(0.95,1)">POZ</text><rect x="80.7" y="88.4" width="8.9" height="6.0" fill="#fff" stroke="none"/><circle cx="80.1" cy="87.6" r="0.7" fill="#d03030" stroke="none"/><text transform="translate(81.35,92.65) scale(0.95,1)">PZ</text><rect x="96.1" y="88.4" width="13.2" height="6.0" fill="#fff" stroke="none"/><circle cx="95.5" cy="87.6" r="0.7" fill="#d03030" stroke="none"/><text transform="translate(96.75,92.65) scale(0.95,1)">CPZ</text><rect x="110.8" y="88.8" width="9.3" height="6.0" fill="#fff" stroke="none"/><circle cx="110.2" cy="88.0" r="0.7" fill="#d03030" stroke="none"/><text transform="translate(111.45,93.05) scale(0.95,1)">CZ</text><rect x="125.6" y="89.1" width="12.9" height="6.0" fill="#fff" stroke="none"/><circle cx="125.0" cy="88.3" r="0.7" fill="#d03030" stroke="none"/><text transform="translate(126.25,93.35) scale(0.95,1)">FCZ</text><rect x="139.6" y="89.1" width="8.6" height="6.0" fill="#fff" stroke="none"/><circle cx="139.0" cy="88.3" r="0.7" fill="#d03030" stroke="none"/><text transform="translate(140.25,93.35) scale(0.95,1)">FZ</text><rect x="165.2" y="89.3" width="12.5" height="6.0" fill="#fff" stroke="none"/><circle cx="164.6" cy="88.5" r="0.7" fill="#d03030" stroke="none"/><text transform="translate(165.85,93.55) scale(0.95,1)">FPZ</text><rect x="46.2" y="102.5" width="9.3" height="6.0" fill="#fff" stroke="none"/><circle cx="45.6" cy="101.7" r="0.7" fill="#d03030" stroke="none"/><text transform="translate(46.85,106.75) scale(0.95,1)">O2</text><rect x="66.0" y="102.5" width="13.2" height="6.0" fill="#fff" stroke="none"/><circle cx="65.4" cy="101.7" r="0.7" fill="#d03030" stroke="none"/><text transform="translate(66.65,106.75) scale(0.95,1)">PO4</text><rect x="81.0" y="102.5" width="8.6" height="6.0" fill="#fff" stroke="none"/><circle cx="80.4" cy="101.7" r="0.7" fill="#d03030" stroke="none"/><text transform="translate(81.65,106.75) scale(0.95,1)">P2</text><rect x="96.1" y="102.5" width="12.9" height="6.0" fill="#fff" stroke="none"/><circle cx="95.5" cy="101.7" r="0.7" fill="#d03030" stroke="none"/><text transform="translate(96.75,106.75) scale(0.95,1)">CP2</text><rect x="111.1" y="103.3" width="8.9" height="6.0" fill="#fff" stroke="none"/><circle cx="110.5" cy="102.5" r="0.7" fill="#d03030" stroke="none"/><text transform="translate(111.75,107.55) scale(0.95,1)">C2</text><rect x="125.6" y="103.8" width="12.5" height="6.0" fill="#fff" stroke="none"/><circle cx="125.0" cy="103.0" r="0.7" fill="#d03030" stroke="none"/><text transform="translate(126.25,108.05) scale(0.95,1)">FC2</text><rect x="139.6" y="103.8" width="8.3" height="6.0" fill="#fff" stroke="none"/><circle cx="139.0" cy="103.0" r="0.7" fill="#d03030" stroke="none"/><text transform="translate(140.25,108.05) scale(0.95,1)">F2</text><rect x="163.6" y="104.2" width="12.2" height="6.0" fill="#fff" stroke="none"/><circle cx="163.0" cy="103.4" r="0.7" fill="#d03030" stroke="none"/><text transform="translate(164.25,108.45) scale(0.95,1)">FP2</text><rect x="151.9" y="110.8" width="12.2" height="6.0" fill="#fff" stroke="none"/><circle cx="151.3" cy="110.0" r="0.7" fill="#d03030" stroke="none"/><text transform="translate(152.55,115.05) scale(0.95,1)">AF4</text><rect x="49.0" y="116.7" width="12.9" height="6.0" fill="#fff" stroke="none"/><circle cx="48.4" cy="115.9" r="0.7" fill="#d03030" stroke="none"/><text transform="translate(49.65,120.95) scale(0.95,1)">CB2</text><rect x="64.8" y="117.2" width="13.2" height="6.0" fill="#fff" stroke="none"/><circle cx="64.2" cy="116.4" r="0.7" fill="#d03030" stroke="none"/><text transform="translate(65.45,121.45) scale(0.95,1)">PO6</text><rect x="81.0" y="117.2" width="8.6" height="6.0" fill="#fff" stroke="none"/><circle cx="80.4" cy="116.4" r="0.7" fill="#d03030" stroke="none"/><text transform="translate(81.65,121.45) scale(0.95,1)">P4</text><rect x="96.1" y="117.2" width="12.9" height="6.0" fill="#fff" stroke="none"/><circle cx="95.5" cy="116.4" r="0.7" fill="#d03030" stroke="none"/><text transform="translate(96.75,121.45) scale(0.95,1)">CP4</text><rect x="111.6" y="117.4" width="8.9" height="6.0" fill="#fff" stroke="none"/><circle cx="111.0" cy="116.6" r="0.7" fill="#d03030" stroke="none"/><text transform="translate(112.25,121.65) scale(0.95,1)">C4</text><rect x="125.6" y="117.6" width="12.5" height="6.0" fill="#fff" stroke="none"/><circle cx="125.0" cy="116.8" r="0.7" fill="#d03030" stroke="none"/><text transform="translate(126.25,121.85) scale(0.95,1)">FC4</text><rect x="139.6" y="117.6" width="8.3" height="6.0" fill="#fff" stroke="none"/><circle cx="139.0" cy="116.8" r="0.7" fill="#d03030" stroke="none"/><text transform="translate(140.25,121.85) scale(0.95,1)">F4</text><rect x="59.0" y="132.2" width="13.2" height="6.0" fill="#fff" stroke="none"/><circle cx="58.4" cy="131.4" r="0.7" fill="#d03030" stroke="none"/><text transform="translate(59.65,136.45) scale(0.95,1)">PO8</text><rect x="79.9" y="131.3" width="8.6" height="6.0" fill="#fff" stroke="none"/><circle cx="79.3" cy="130.5" r="0.7" fill="#d03030" stroke="none"/><text transform="translate(80.55,135.55) scale(0.95,1)">P6</text><rect x="96.4" y="131.5" width="12.9" height="6.0" fill="#fff" stroke="none"/><circle cx="95.8" cy="130.7" r="0.7" fill="#d03030" stroke="none"/><text transform="translate(97.05,135.75) scale(0.95,1)">CP6</text><rect x="112.4" y="131.5" width="8.9" height="6.0" fill="#fff" stroke="none"/><circle cx="111.8" cy="130.7" r="0.7" fill="#d03030" stroke="none"/><text transform="translate(113.05,135.75) scale(0.95,1)">C6</text><rect x="127.5" y="131.5" width="12.5" height="6.0" fill="#fff" stroke="none"/><circle cx="126.9" cy="130.7" r="0.7" fill="#d03030" stroke="none"/><text transform="translate(128.15,135.75) scale(0.95,1)">FC6</text><rect x="142.6" y="131.5" width="8.3" height="6.0" fill="#fff" stroke="none"/><circle cx="142.0" cy="130.7" r="0.7" fill="#d03030" stroke="none"/><text transform="translate(143.25,135.75) scale(0.95,1)">F6</text><rect x="75.2" y="144.7" width="8.6" height="6.0" fill="#fff" stroke="none"/><circle cx="74.6" cy="143.9" r="0.7" fill="#d03030" stroke="none"/><text transform="translate(75.85,148.95) scale(0.95,1)">P8</text><rect x="96.7" y="144.8" width="12.2" height="6.0" fill="#fff" stroke="none"/><circle cx="96.1" cy="144.0" r="0.7" fill="#d03030" stroke="none"/><text transform="translate(97.35,149.05) scale(0.95,1)">TP8</text><rect x="112.4" y="144.8" width="8.3" height="6.0" fill="#fff" stroke="none"/><circle cx="111.8" cy="144.0" r="0.7" fill="#d03030" stroke="none"/><text transform="translate(113.05,149.05) scale(0.95,1)">T8</text><rect x="127.5" y="144.8" width="11.9" height="6.0" fill="#fff" stroke="none"/><circle cx="126.9" cy="144.0" r="0.7" fill="#d03030" stroke="none"/><text transform="translate(128.15,149.05) scale(0.95,1)">FT8</text><rect x="142.6" y="144.8" width="8.3" height="6.0" fill="#fff" stroke="none"/><circle cx="142.0" cy="144.0" r="0.7" fill="#d03030" stroke="none"/><text transform="translate(143.25,149.05) scale(0.95,1)">F8</text><rect x="223.2" y="32.2" width="8.3" height="6.0" fill="#fff" stroke="none"/><circle cx="222.6" cy="31.4" r="0.7" fill="#d03030" stroke="none"/><text transform="translate(223.85,36.45) scale(0.95,1)">F8</text><rect x="238.6" y="32.2" width="11.9" height="6.0" fill="#fff" stroke="none"/><circle cx="238.0" cy="31.4" r="0.7" fill="#d03030" stroke="none"/><text transform="translate(239.25,36.45) scale(0.95,1)">FT8</text><rect x="254.3" y="32.2" width="8.3" height="6.0" fill="#fff" stroke="none"/><circle cx="253.7" cy="31.4" r="0.7" fill="#d03030" stroke="none"/><text transform="translate(254.95,36.45) scale(0.95,1)">T8</text><rect x="269.0" y="32.2" width="12.2" height="6.0" fill="#fff" stroke="none"/><circle cx="268.4" cy="31.4" r="0.7" fill="#d03030" stroke="none"/><text transform="translate(269.65,36.45) scale(0.95,1)">TP8</text><rect x="289.1" y="32.2" width="8.6" height="6.0" fill="#fff" stroke="none"/><circle cx="288.5" cy="31.4" r="0.7" fill="#d03030" stroke="none"/><text transform="translate(289.75,36.45) scale(0.95,1)">P8</text><rect x="224.9" y="46.2" width="8.3" height="6.0" fill="#fff" stroke="none"/><circle cx="224.3" cy="45.4" r="0.7" fill="#d03030" stroke="none"/><text transform="translate(225.55,50.45) scale(0.95,1)">F6</text><rect x="239.6" y="46.2" width="12.5" height="6.0" fill="#fff" stroke="none"/><circle cx="239.0" cy="45.4" r="0.7" fill="#d03030" stroke="none"/><text transform="translate(240.25,50.45) scale(0.95,1)">FC6</text><rect x="254.3" y="46.2" width="8.9" height="6.0" fill="#fff" stroke="none"/><circle cx="253.7" cy="45.4" r="0.7" fill="#d03030" stroke="none"/><text transform="translate(254.95,50.45) scale(0.95,1)">C6</text><rect x="269.0" y="46.2" width="12.9" height="6.0" fill="#fff" stroke="none"/><circle cx="268.4" cy="45.4" r="0.7" fill="#d03030" stroke="none"/><text transform="translate(269.65,50.45) scale(0.95,1)">CP6</text><rect x="285.7" y="46.2" width="8.6" height="6.0" fill="#fff" stroke="none"/><circle cx="285.1" cy="45.4" r="0.7" fill="#d03030" stroke="none"/><text transform="translate(286.35,50.45) scale(0.95,1)">P6</text><rect x="305.8" y="44.2" width="13.2" height="6.0" fill="#fff" stroke="none"/><circle cx="305.2" cy="43.4" r="0.7" fill="#d03030" stroke="none"/><text transform="translate(306.45,48.45) scale(0.95,1)">PO8</text><rect x="225.6" y="60.7" width="8.3" height="6.0" fill="#fff" stroke="none"/><circle cx="225.0" cy="59.9" r="0.7" fill="#d03030" stroke="none"/><text transform="translate(226.25,64.95) scale(0.95,1)">F4</text><rect x="240.1" y="60.7" width="12.5" height="6.0" fill="#fff" stroke="none"/><circle cx="239.5" cy="59.9" r="0.7" fill="#d03030" stroke="none"/><text transform="translate(240.75,64.95) scale(0.95,1)">FC4</text><rect x="254.8" y="60.7" width="8.9" height="6.0" fill="#fff" stroke="none"/><circle cx="254.2" cy="59.9" r="0.7" fill="#d03030" stroke="none"/><text transform="translate(255.45,64.95) scale(0.95,1)">C4</text><rect x="269.9" y="60.8" width="12.9" height="6.0" fill="#fff" stroke="none"/><circle cx="269.3" cy="60.0" r="0.7" fill="#d03030" stroke="none"/><text transform="translate(270.55,65.05) scale(0.95,1)">CP4</text><rect x="284.4" y="60.8" width="8.6" height="6.0" fill="#fff" stroke="none"/><circle cx="283.8" cy="60.0" r="0.7" fill="#d03030" stroke="none"/><text transform="translate(285.05,65.05) scale(0.95,1)">P4</text><rect x="300.8" y="60.0" width="13.2" height="6.0" fill="#fff" stroke="none"/><circle cx="300.2" cy="59.2" r="0.7" fill="#d03030" stroke="none"/><text transform="translate(301.45,64.25) scale(0.95,1)">PO6</text><rect x="316.9" y="59.2" width="12.9" height="6.0" fill="#fff" stroke="none"/><circle cx="316.3" cy="58.4" r="0.7" fill="#d03030" stroke="none"/><text transform="translate(317.55,63.45) scale(0.95,1)">CB2</text><rect x="214.6" y="68.1" width="12.2" height="6.0" fill="#fff" stroke="none"/><circle cx="214.0" cy="67.3" r="0.7" fill="#d03030" stroke="none"/><text transform="translate(215.25,72.35) scale(0.95,1)">AF4</text><rect x="202.9" y="75.8" width="12.2" height="6.0" fill="#fff" stroke="none"/><circle cx="202.3" cy="75.0" r="0.7" fill="#d03030" stroke="none"/><text transform="translate(203.55,80.05) scale(0.95,1)">FP2</text><rect x="225.6" y="75.8" width="8.3" height="6.0" fill="#fff" stroke="none"/><circle cx="225.0" cy="75.0" r="0.7" fill="#d03030" stroke="none"/><text transform="translate(226.25,80.05) scale(0.95,1)">F2</text><rect x="240.1" y="75.8" width="12.5" height="6.0" fill="#fff" stroke="none"/><circle cx="239.5" cy="75.0" r="0.7" fill="#d03030" stroke="none"/><text transform="translate(240.75,80.05) scale(0.95,1)">FC2</text><rect x="254.8" y="75.8" width="8.9" height="6.0" fill="#fff" stroke="none"/><circle cx="254.2" cy="75.0" r="0.7" fill="#d03030" stroke="none"/><text transform="translate(255.45,80.05) scale(0.95,1)">C2</text><rect x="269.9" y="75.5" width="12.9" height="6.0" fill="#fff" stroke="none"/><circle cx="269.3" cy="74.7" r="0.7" fill="#d03030" stroke="none"/><text transform="translate(270.55,79.75) scale(0.95,1)">CP2</text><rect x="284.4" y="75.5" width="8.6" height="6.0" fill="#fff" stroke="none"/><circle cx="283.8" cy="74.7" r="0.7" fill="#d03030" stroke="none"/><text transform="translate(285.05,79.75) scale(0.95,1)">P2</text><rect x="300.0" y="74.6" width="13.2" height="6.0" fill="#fff" stroke="none"/><circle cx="299.4" cy="73.8" r="0.7" fill="#d03030" stroke="none"/><text transform="translate(300.65,78.85) scale(0.95,1)">PO4</text><rect x="319.1" y="74.6" width="9.3" height="6.0" fill="#fff" stroke="none"/><circle cx="318.5" cy="73.8" r="0.7" fill="#d03030" stroke="none"/><text transform="translate(319.75,78.85) scale(0.95,1)">O2</text><rect x="200.6" y="88.8" width="12.5" height="6.0" fill="#fff" stroke="none"/><circle cx="200.0" cy="88.0" r="0.7" fill="#d03030" stroke="none"/><text transform="translate(201.25,93.05) scale(0.95,1)">FPZ</text><rect x="225.6" y="88.8" width="8.6" height="6.0" fill="#fff" stroke="none"/><circle cx="225.0" cy="88.0" r="0.7" fill="#d03030" stroke="none"/><text transform="translate(226.25,93.05) scale(0.95,1)">FZ</text><rect x="240.1" y="88.8" width="12.9" height="6.0" fill="#fff" stroke="none"/><circle cx="239.5" cy="88.0" r="0.7" fill="#d03030" stroke="none"/><text transform="translate(240.75,93.05) scale(0.95,1)">FCZ</text><rect x="254.8" y="88.8" width="9.3" height="6.0" fill="#fff" stroke="none"/><circle cx="254.2" cy="88.0" r="0.7" fill="#d03030" stroke="none"/><text transform="translate(255.45,93.05) scale(0.95,1)">CZ</text><rect x="269.6" y="88.4" width="13.2" height="6.0" fill="#fff" stroke="none"/><circle cx="269.0" cy="87.6" r="0.7" fill="#d03030" stroke="none"/><text transform="translate(270.25,92.65) scale(0.95,1)">CPZ</text><rect x="284.6" y="88.2" width="8.9" height="6.0" fill="#fff" stroke="none"/><circle cx="284.0" cy="87.4" r="0.7" fill="#d03030" stroke="none"/><text transform="translate(285.25,92.45) scale(0.95,1)">PZ</text><rect x="300.0" y="88.2" width="13.5" height="6.0" fill="#fff" stroke="none"/><circle cx="299.4" cy="87.4" r="0.7" fill="#d03030" stroke="none"/><text transform="translate(300.65,92.45) scale(0.95,1)">POZ</text><rect x="321.3" y="88.7" width="9.6" height="6.0" fill="#fff" stroke="none"/><circle cx="320.7" cy="87.9" r="0.7" fill="#d03030" stroke="none"/><text transform="translate(321.95,92.95) scale(0.95,1)">OZ</text><rect x="201.7" y="103.5" width="12.2" height="6.0" fill="#fff" stroke="none"/><circle cx="201.1" cy="102.7" r="0.7" fill="#d03030" stroke="none"/><text transform="translate(202.35,107.75) scale(0.95,1)">FP1</text><rect x="224.7" y="103.5" width="8.3" height="6.0" fill="#fff" stroke="none"/><circle cx="224.1" cy="102.7" r="0.7" fill="#d03030" stroke="none"/><text transform="translate(225.35,107.75) scale(0.95,1)">F1</text><rect x="239.6" y="103.5" width="12.5" height="6.0" fill="#fff" stroke="none"/><circle cx="239.0" cy="102.7" r="0.7" fill="#d03030" stroke="none"/><text transform="translate(240.25,107.75) scale(0.95,1)">FC1</text><rect x="254.1" y="103.5" width="8.9" height="6.0" fill="#fff" stroke="none"/><circle cx="253.5" cy="102.7" r="0.7" fill="#d03030" stroke="none"/><text transform="translate(254.75,107.75) scale(0.95,1)">C1</text><rect x="268.8" y="103.2" width="12.9" height="6.0" fill="#fff" stroke="none"/><circle cx="268.2" cy="102.4" r="0.7" fill="#d03030" stroke="none"/><text transform="translate(269.45,107.45) scale(0.95,1)">CP1</text><rect x="284.0" y="103.2" width="8.6" height="6.0" fill="#fff" stroke="none"/><circle cx="283.4" cy="102.4" r="0.7" fill="#d03030" stroke="none"/><text transform="translate(284.65,107.45) scale(0.95,1)">P1</text><rect x="299.6" y="103.2" width="13.2" height="6.0" fill="#fff" stroke="none"/><circle cx="299.0" cy="102.4" r="0.7" fill="#d03030" stroke="none"/><text transform="translate(300.25,107.45) scale(0.95,1)">PO3</text><rect x="319.0" y="103.2" width="9.3" height="6.0" fill="#fff" stroke="none"/><circle cx="318.4" cy="102.4" r="0.7" fill="#d03030" stroke="none"/><text transform="translate(319.65,107.45) scale(0.95,1)">O1</text><rect x="214.4" y="110.4" width="12.2" height="6.0" fill="#fff" stroke="none"/><circle cx="213.8" cy="109.6" r="0.7" fill="#d03030" stroke="none"/><text transform="translate(215.05,114.65) scale(0.95,1)">AF3</text><rect x="224.7" y="118.0" width="8.3" height="6.0" fill="#fff" stroke="none"/><circle cx="224.1" cy="117.2" r="0.7" fill="#d03030" stroke="none"/><text transform="translate(225.35,122.25) scale(0.95,1)">F3</text><rect x="239.6" y="118.0" width="12.5" height="6.0" fill="#fff" stroke="none"/><circle cx="239.0" cy="117.2" r="0.7" fill="#d03030" stroke="none"/><text transform="translate(240.25,122.25) scale(0.95,1)">FC3</text><rect x="254.1" y="118.0" width="8.9" height="6.0" fill="#fff" stroke="none"/><circle cx="253.5" cy="117.2" r="0.7" fill="#d03030" stroke="none"/><text transform="translate(254.75,122.25) scale(0.95,1)">C3</text><rect x="268.8" y="117.0" width="12.9" height="6.0" fill="#fff" stroke="none"/><circle cx="268.2" cy="116.2" r="0.7" fill="#d03030" stroke="none"/><text transform="translate(269.45,121.25) scale(0.95,1)">CP3</text><rect x="284.0" y="117.0" width="8.6" height="6.0" fill="#fff" stroke="none"/><circle cx="283.4" cy="116.2" r="0.7" fill="#d03030" stroke="none"/><text transform="translate(284.65,121.25) scale(0.95,1)">P3</text><rect x="300.7" y="117.0" width="13.2" height="6.0" fill="#fff" stroke="none"/><circle cx="300.1" cy="116.2" r="0.7" fill="#d03030" stroke="none"/><text transform="translate(301.35,121.25) scale(0.95,1)">PO5</text><rect x="315.9" y="117.0" width="12.9" height="6.0" fill="#fff" stroke="none"/><circle cx="315.3" cy="116.2" r="0.7" fill="#d03030" stroke="none"/><text transform="translate(316.55,121.25) scale(0.95,1)">CB1</text><rect x="224.7" y="131.6" width="8.3" height="6.0" fill="#fff" stroke="none"/><circle cx="224.1" cy="130.8" r="0.7" fill="#d03030" stroke="none"/><text transform="translate(225.35,135.85) scale(0.95,1)">F5</text><rect x="239.6" y="131.6" width="12.5" height="6.0" fill="#fff" stroke="none"/><circle cx="239.0" cy="130.8" r="0.7" fill="#d03030" stroke="none"/><text transform="translate(240.25,135.85) scale(0.95,1)">FC5</text><rect x="254.1" y="131.6" width="8.9" height="6.0" fill="#fff" stroke="none"/><circle cx="253.5" cy="130.8" r="0.7" fill="#d03030" stroke="none"/><text transform="translate(254.75,135.85) scale(0.95,1)">C5</text><rect x="268.8" y="130.8" width="12.9" height="6.0" fill="#fff" stroke="none"/><circle cx="268.2" cy="130.0" r="0.7" fill="#d03030" stroke="none"/><text transform="translate(269.45,135.05) scale(0.95,1)">CP5</text><rect x="285.1" y="131.5" width="8.6" height="6.0" fill="#fff" stroke="none"/><circle cx="284.5" cy="130.7" r="0.7" fill="#d03030" stroke="none"/><text transform="translate(285.75,135.75) scale(0.95,1)">P5</text><rect x="306.3" y="131.9" width="13.2" height="6.0" fill="#fff" stroke="none"/><circle cx="305.7" cy="131.1" r="0.7" fill="#d03030" stroke="none"/><text transform="translate(306.95,136.15) scale(0.95,1)">PO7</text><rect x="222.9" y="144.7" width="8.3" height="6.0" fill="#fff" stroke="none"/><circle cx="222.3" cy="143.9" r="0.7" fill="#d03030" stroke="none"/><text transform="translate(223.55,148.95) scale(0.95,1)">F7</text><rect x="238.9" y="144.7" width="11.9" height="6.0" fill="#fff" stroke="none"/><circle cx="238.3" cy="143.9" r="0.7" fill="#d03030" stroke="none"/><text transform="translate(239.55,148.95) scale(0.95,1)">FT7</text><rect x="254.1" y="144.7" width="8.3" height="6.0" fill="#fff" stroke="none"/><circle cx="253.5" cy="143.9" r="0.7" fill="#d03030" stroke="none"/><text transform="translate(254.75,148.95) scale(0.95,1)">T7</text><rect x="268.8" y="144.2" width="12.2" height="6.0" fill="#fff" stroke="none"/><circle cx="268.2" cy="143.4" r="0.7" fill="#d03030" stroke="none"/><text transform="translate(269.45,148.45) scale(0.95,1)">TP7</text><rect x="289.6" y="144.8" width="8.6" height="6.0" fill="#fff" stroke="none"/><circle cx="289.0" cy="144.0" r="0.7" fill="#d03030" stroke="none"/><text transform="translate(290.25,149.05) scale(0.95,1)">P7</text></g>
<g fill="#111"><line x1="277.2" y1="177.8" x2="306.4" y2="177.8" stroke="#2326e0" stroke-width="1.4"/><line x1="277.2" y1="189.0" x2="306.4" y2="189.0" stroke="#e52222" stroke-width="1.4"/><line x1="277.2" y1="199.6" x2="306.4" y2="199.6" stroke="#c8b8bc" stroke-width="0.9"/><text x="313.4" y="180.4" font-size="7.9" font-weight="bold" textLength="43.9" lengthAdjust="spacingAndGlyphs" stroke="#111" stroke-width="0.25">FF_CC&gt;FF_DD</text><text x="313.4" y="191.4" font-size="7.9" font-weight="bold" textLength="43.9" lengthAdjust="spacingAndGlyphs" stroke="#111" stroke-width="0.25">FF_CC&lt;FF_DD</text><text x="326.4" y="202.6" font-size="7.9" font-weight="bold" textLength="18.6" lengthAdjust="spacingAndGlyphs" stroke="#111" stroke-width="0.25">FF&gt;FB</text><text x="2.3" y="12.6" font-size="15.6" font-weight="bold" textLength="10.6" lengthAdjust="spacingAndGlyphs" fill="#000">A</text></g>
<line x1="28.4" y1="404.60" x2="357.4" y2="404.60" stroke="#dcdcdc" stroke-width="0.8" stroke-dasharray="1,1.6"/><line x1="28.4" y1="384.20" x2="357.4" y2="384.20" stroke="#dcdcdc" stroke-width="0.8" stroke-dasharray="1,1.6"/><line x1="28.4" y1="363.80" x2="357.4" y2="363.80" stroke="#dcdcdc" stroke-width="0.8" stroke-dasharray="1,1.6"/><line x1="28.4" y1="343.40" x2="357.4" y2="343.40" stroke="#dcdcdc" stroke-width="0.8" stroke-dasharray="1,1.6"/><line x1="28.4" y1="323.00" x2="357.4" y2="323.00" stroke="#dcdcdc" stroke-width="0.8" stroke-dasharray="1,1.6"/><line x1="28.4" y1="302.60" x2="357.4" y2="302.60" stroke="#dcdcdc" stroke-width="0.8" stroke-dasharray="1,1.6"/><line x1="28.4" y1="282.20" x2="357.4" y2="282.20" stroke="#dcdcdc" stroke-width="0.8" stroke-dasharray="1,1.6"/><line x1="28.4" y1="261.80" x2="357.4" y2="261.80" stroke="#dcdcdc" stroke-width="0.8" stroke-dasharray="1,1.6"/><line x1="28.4" y1="241.40" x2="357.4" y2="241.40" stroke="#dcdcdc" stroke-width="0.8" stroke-dasharray="1,1.6"/><rect x="47.82" y="337.28" width="8" height="87.72" fill="#2d2a8c" stroke="#111" stroke-width="0.4"/><rect x="55.82" y="351.56" width="8" height="73.44" fill="#f7f700" stroke="#333" stroke-width="0.4"/><rect x="75.24" y="347.48" width="8" height="77.52" fill="#2d2a8c" stroke="#111" stroke-width="0.4"/><rect x="83.24" y="355.64" width="8" height="69.36" fill="#f7f700" stroke="#333" stroke-width="0.4"/><rect x="102.66" y="337.28" width="8" height="87.72" fill="#2d2a8c" stroke="#111" stroke-width="0.4"/><rect x="110.66" y="339.32" width="8" height="85.68" fill="#f7f700" stroke="#333" stroke-width="0.4"/><rect x="130.08" y="351.56" width="8" height="73.44" fill="#2d2a8c" stroke="#111" stroke-width="0.4"/><rect x="138.08" y="341.36" width="8" height="83.64" fill="#f7f700" stroke="#333" stroke-width="0.4"/><rect x="157.50" y="343.40" width="8" height="81.60" fill="#2d2a8c" stroke="#111" stroke-width="0.4"/><rect x="165.50" y="329.12" width="8" height="95.88" fill="#f7f700" stroke="#333" stroke-width="0.4"/><rect x="184.92" y="347.48" width="8" height="77.52" fill="#2d2a8c" stroke="#111" stroke-width="0.4"/><rect x="192.92" y="331.16" width="8" height="93.84" fill="#f7f700" stroke="#333" stroke-width="0.4"/><rect x="212.34" y="351.56" width="8" height="73.44" fill="#2d2a8c" stroke="#111" stroke-width="0.4"/><rect x="220.34" y="341.36" width="8" height="83.64" fill="#f7f700" stroke="#333" stroke-width="0.4"/><rect x="239.76" y="357.68" width="8" height="67.32" fill="#2d2a8c" stroke="#111" stroke-width="0.4"/><rect x="247.76" y="343.40" width="8" height="81.60" fill="#f7f700" stroke="#333" stroke-width="0.4"/><rect x="267.18" y="353.60" width="8" height="71.40" fill="#2d2a8c" stroke="#111" stroke-width="0.4"/><rect x="275.18" y="341.36" width="8" height="83.64" fill="#f7f700" stroke="#333" stroke-width="0.4"/><rect x="294.60" y="351.56" width="8" height="73.44" fill="#2d2a8c" stroke="#111" stroke-width="0.4"/><rect x="302.60" y="345.44" width="8" height="79.56" fill="#f7f700" stroke="#333" stroke-width="0.4"/><rect x="322.02" y="359.72" width="8" height="65.28" fill="#2d2a8c" stroke="#111" stroke-width="0.4"/><rect x="330.02" y="335.24" width="8" height="89.76" fill="#f7f700" stroke="#333" stroke-width="0.4"/><g stroke="#000" stroke-opacity="0.35" stroke-width="0.9"><line x1="51.82" y1="286.28" x2="51.82" y2="388.28"/><line x1="49.02" y1="286.28" x2="54.62" y2="286.28"/><line x1="49.02" y1="388.28" x2="54.62" y2="388.28"/></g><g stroke="#000" stroke-opacity="0.35" stroke-width="0.9"><line x1="59.82" y1="302.60" x2="59.82" y2="400.52"/><line x1="57.02" y1="302.60" x2="62.62" y2="302.60"/><line x1="57.02" y1="400.52" x2="62.62" y2="400.52"/></g><g stroke="#000" stroke-opacity="0.35" stroke-width="0.9"><line x1="79.24" y1="298.52" x2="79.24" y2="396.44"/><line x1="76.44" y1="298.52" x2="82.04" y2="298.52"/><line x1="76.44" y1="396.44" x2="82.04" y2="396.44"/></g><g stroke="#000" stroke-opacity="0.35" stroke-width="0.9"><line x1="87.24" y1="314.84" x2="87.24" y2="396.44"/><line x1="84.44" y1="314.84" x2="90.04" y2="314.84"/><line x1="84.44" y1="396.44" x2="90.04" y2="396.44"/></g><g stroke="#000" stroke-opacity="0.35" stroke-width="0.9"><line x1="106.66" y1="298.52" x2="106.66" y2="376.04"/><line x1="103.86" y1="298.52" x2="109.46" y2="298.52"/><line x1="103.86" y1="376.04" x2="109.46" y2="376.04"/></g><g stroke="#000" stroke-opacity="0.35" stroke-width="0.9"><line x1="114.66" y1="298.52" x2="114.66" y2="380.12"/><line x1="111.86" y1="298.52" x2="117.46" y2="298.52"/><line x1="111.86" y1="380.12" x2="117.46" y2="380.12"/></g><g stroke="#000" stroke-opacity="0.35" stroke-width="0.9"><line x1="134.08" y1="310.76" x2="134.08" y2="392.36"/><line x1="131.28" y1="310.76" x2="136.88" y2="310.76"/><line x1="131.28" y1="392.36" x2="136.88" y2="392.36"/></g><g stroke="#000" stroke-opacity="0.35" stroke-width="0.9"><line x1="142.08" y1="298.52" x2="142.08" y2="384.20"/><line x1="139.28" y1="298.52" x2="144.88" y2="298.52"/><line x1="139.28" y1="384.20" x2="144.88" y2="384.20"/></g><g stroke="#000" stroke-opacity="0.35" stroke-width="0.9"><line x1="161.50" y1="304.64" x2="161.50" y2="382.16"/><line x1="158.70" y1="304.64" x2="164.30" y2="304.64"/><line x1="158.70" y1="382.16" x2="164.30" y2="382.16"/></g><g stroke="#000" stroke-opacity="0.35" stroke-width="0.9"><line x1="169.50" y1="290.36" x2="169.50" y2="367.88"/><line x1="166.70" y1="290.36" x2="172.30" y2="290.36"/><line x1="166.70" y1="367.88" x2="172.30" y2="367.88"/></g><g stroke="#000" stroke-opacity="0.35" stroke-width="0.9"><line x1="188.92" y1="304.64" x2="188.92" y2="390.32"/><line x1="186.12" y1="304.64" x2="191.72" y2="304.64"/><line x1="186.12" y1="390.32" x2="191.72" y2="390.32"/></g><g stroke="#000" stroke-opacity="0.35" stroke-width="0.9"><line x1="196.92" y1="300.56" x2="196.92" y2="361.76"/><line x1="194.12" y1="300.56" x2="199.72" y2="300.56"/><line x1="194.12" y1="361.76" x2="199.72" y2="361.76"/></g><g stroke="#000" stroke-opacity="0.35" stroke-width="0.9"><line x1="216.34" y1="310.76" x2="216.34" y2="392.36"/><line x1="213.54" y1="310.76" x2="219.14" y2="310.76"/><line x1="213.54" y1="392.36" x2="219.14" y2="392.36"/></g><g stroke="#000" stroke-opacity="0.35" stroke-width="0.9"><line x1="224.34" y1="302.60" x2="224.34" y2="380.12"/><line x1="221.54" y1="302.60" x2="227.14" y2="302.60"/><line x1="221.54" y1="380.12" x2="227.14" y2="380.12"/></g><g stroke="#000" stroke-opacity="0.35" stroke-width="0.9"><line x1="243.76" y1="318.92" x2="243.76" y2="396.44"/><line x1="240.96" y1="318.92" x2="246.56" y2="318.92"/><line x1="240.96" y1="396.44" x2="246.56" y2="396.44"/></g><g stroke="#000" stroke-opacity="0.35" stroke-width="0.9"><line x1="251.76" y1="306.68" x2="251.76" y2="380.12"/><line x1="248.96" y1="306.68" x2="254.56" y2="306.68"/><line x1="248.96" y1="380.12" x2="254.56" y2="380.12"/></g><g stroke="#000" stroke-opacity="0.35" stroke-width="0.9"><line x1="271.18" y1="314.84" x2="271.18" y2="392.36"/><line x1="268.38" y1="314.84" x2="273.98" y2="314.84"/><line x1="268.38" y1="392.36" x2="273.98" y2="392.36"/></g><g stroke="#000" stroke-opacity="0.35" stroke-width="0.9"><line x1="279.18" y1="300.56" x2="279.18" y2="382.16"/><line x1="276.38" y1="300.56" x2="281.98" y2="300.56"/><line x1="276.38" y1="382.16" x2="281.98" y2="382.16"/></g><g stroke="#000" stroke-opacity="0.35" stroke-width="0.9"><line x1="298.60" y1="314.84" x2="298.60" y2="388.28"/><line x1="295.80" y1="314.84" x2="301.40" y2="314.84"/><line x1="295.80" y1="388.28" x2="301.40" y2="388.28"/></g><g stroke="#000" stroke-opacity="0.35" stroke-width="0.9"><line x1="306.60" y1="310.76" x2="306.60" y2="380.12"/><line x1="303.80" y1="310.76" x2="309.40" y2="310.76"/><line x1="303.80" y1="380.12" x2="309.40" y2="380.12"/></g><g stroke="#000" stroke-opacity="0.35" stroke-width="0.9"><line x1="326.02" y1="325.04" x2="326.02" y2="394.40"/><line x1="323.22" y1="325.04" x2="328.82" y2="325.04"/><line x1="323.22" y1="394.40" x2="328.82" y2="394.40"/></g><g stroke="#000" stroke-opacity="0.35" stroke-width="0.9"><line x1="334.02" y1="290.36" x2="334.02" y2="380.12"/><line x1="331.22" y1="290.36" x2="336.82" y2="290.36"/><line x1="331.22" y1="380.12" x2="336.82" y2="380.12"/></g><rect x="28.4" y="221.0" width="329.00" height="204.00" fill="none" stroke="#bdbdbd" stroke-width="0.9"/><line x1="28.4" y1="425.00" x2="31.4" y2="425.00" stroke="#888" stroke-width="0.9"/><line x1="354.4" y1="425.00" x2="357.4" y2="425.00" stroke="#888" stroke-width="0.9"/><line x1="28.4" y1="404.60" x2="31.4" y2="404.60" stroke="#888" stroke-width="0.9"/><line x1="354.4" y1="404.60" x2="357.4" y2="404.60" stroke="#888" stroke-width="0.9"/><line x1="28.4" y1="384.20" x2="31.4" y2="384.20" stroke="#888" stroke-width="0.9"/><line x1="354.4" y1="384.20" x2="357.4" y2="384.20" stroke="#888" stroke-width="0.9"/><line x1="28.4" y1="363.80" x2="31.4" y2="363.80" stroke="#888" stroke-width="0.9"/><line x1="354.4" y1="363.80" x2="357.4" y2="363.80" stroke="#888" stroke-width="0.9"/><line x1="28.4" y1="343.40" x2="31.4" y2="343.40" stroke="#888" stroke-width="0.9"/><line x1="354.4" y1="343.40" x2="357.4" y2="343.40" stroke="#888" stroke-width="0.9"/><line x1="28.4" y1="323.00" x2="31.4" y2="323.00" stroke="#888" stroke-width="0.9"/><line x1="354.4" y1="323.00" x2="357.4" y2="323.00" stroke="#888" stroke-width="0.9"/><line x1="28.4" y1="302.60" x2="31.4" y2="302.60" stroke="#888" stroke-width="0.9"/><line x1="354.4" y1="302.60" x2="357.4" y2="302.60" stroke="#888" stroke-width="0.9"/><line x1="28.4" y1="282.20" x2="31.4" y2="282.20" stroke="#888" stroke-width="0.9"/><line x1="354.4" y1="282.20" x2="357.4" y2="282.20" stroke="#888" stroke-width="0.9"/><line x1="28.4" y1="261.80" x2="31.4" y2="261.80" stroke="#888" stroke-width="0.9"/><line x1="354.4" y1="261.80" x2="357.4" y2="261.80" stroke="#888" stroke-width="0.9"/><line x1="28.4" y1="241.40" x2="31.4" y2="241.40" stroke="#888" stroke-width="0.9"/><line x1="354.4" y1="241.40" x2="357.4" y2="241.40" stroke="#888" stroke-width="0.9"/><line x1="28.4" y1="221.00" x2="31.4" y2="221.00" stroke="#888" stroke-width="0.9"/><line x1="354.4" y1="221.00" x2="357.4" y2="221.00" stroke="#888" stroke-width="0.9"/><line x1="55.82" y1="221.0" x2="55.82" y2="224.0" stroke="#888" stroke-width="0.9"/><line x1="55.82" y1="422.0" x2="55.82" y2="425.0" stroke="#888" stroke-width="0.9"/><line x1="83.24" y1="221.0" x2="83.24" y2="224.0" stroke="#888" stroke-width="0.9"/><line x1="83.24" y1="422.0" x2="83.24" y2="425.0" stroke="#888" stroke-width="0.9"/><line x1="110.66" y1="221.0" x2="110.66" y2="224.0" stroke="#888" stroke-width="0.9"/><line x1="110.66" y1="422.0" x2="110.66" y2="425.0" stroke="#888" stroke-width="0.9"/><line x1="138.08" y1="221.0" x2="138.08" y2="224.0" stroke="#888" stroke-width="0.9"/><line x1="138.08" y1="422.0" x2="138.08" y2="425.0" stroke="#888" stroke-width="0.9"/><line x1="165.50" y1="221.0" x2="165.50" y2="224.0" stroke="#888" stroke-width="0.9"/><line x1="165.50" y1="422.0" x2="165.50" y2="425.0" stroke="#888" stroke-width="0.9"/><line x1="192.92" y1="221.0" x2="192.92" y2="224.0" stroke="#888" stroke-width="0.9"/><line x1="192.92" y1="422.0" x2="192.92" y2="425.0" stroke="#888" stroke-width="0.9"/><line x1="220.34" y1="221.0" x2="220.34" y2="224.0" stroke="#888" stroke-width="0.9"/><line x1="220.34" y1="422.0" x2="220.34" y2="425.0" stroke="#888" stroke-width="0.9"/><line x1="247.76" y1="221.0" x2="247.76" y2="224.0" stroke="#888" stroke-width="0.9"/><line x1="247.76" y1="422.0" x2="247.76" y2="425.0" stroke="#888" stroke-width="0.9"/><line x1="275.18" y1="221.0" x2="275.18" y2="224.0" stroke="#888" stroke-width="0.9"/><line x1="275.18" y1="422.0" x2="275.18" y2="425.0" stroke="#888" stroke-width="0.9"/><line x1="302.60" y1="221.0" x2="302.60" y2="224.0" stroke="#888" stroke-width="0.9"/><line x1="302.60" y1="422.0" x2="302.60" y2="425.0" stroke="#888" stroke-width="0.9"/><line x1="330.02" y1="221.0" x2="330.02" y2="224.0" stroke="#888" stroke-width="0.9"/><line x1="330.02" y1="422.0" x2="330.02" y2="425.0" stroke="#888" stroke-width="0.9"/><text x="22.70" y="427.95" font-size="8.3" font-weight="bold" textLength="3.8" lengthAdjust="spacingAndGlyphs" fill="#1a1a1a">0</text><text x="17.30" y="407.55" font-size="8.3" font-weight="bold" textLength="9.2" lengthAdjust="spacingAndGlyphs" fill="#1a1a1a">0.1</text><text x="17.30" y="387.15" font-size="8.3" font-weight="bold" textLength="9.2" lengthAdjust="spacingAndGlyphs" fill="#1a1a1a">0.2</text><text x="17.30" y="366.75" font-size="8.3" font-weight="bold" textLength="9.2" lengthAdjust="spacingAndGlyphs" fill="#1a1a1a">0.3</text><text x="17.30" y="346.35" font-size="8.3" font-weight="bold" textLength="9.2" lengthAdjust="spacingAndGlyphs" fill="#1a1a1a">0.4</text><text x="17.30" y="325.95" font-size="8.3" font-weight="bold" textLength="9.2" lengthAdjust="spacingAndGlyphs" fill="#1a1a1a">0.5</text><text x="17.30" y="305.55" font-size="8.3" font-weight="bold" textLength="9.2" lengthAdjust="spacingAndGlyphs" fill="#1a1a1a">0.6</text><text x="17.30" y="285.15" font-size="8.3" font-weight="bold" textLength="9.2" lengthAdjust="spacingAndGlyphs" fill="#1a1a1a">0.7</text><text x="17.30" y="264.75" font-size="8.3" font-weight="bold" textLength="9.2" lengthAdjust="spacingAndGlyphs" fill="#1a1a1a">0.8</text><text x="17.30" y="244.35" font-size="8.3" font-weight="bold" textLength="9.2" lengthAdjust="spacingAndGlyphs" fill="#1a1a1a">0.9</text><text x="23.40" y="223.95" font-size="8.3" font-weight="bold" textLength="3.1" lengthAdjust="spacingAndGlyphs" fill="#1a1a1a">1</text><text x="48.02" y="435.2" font-size="7.4" font-weight="bold" textLength="15.6" lengthAdjust="spacingAndGlyphs" fill="#111" stroke="#111" stroke-width="0.2">FZ-P8</text><text x="73.69" y="435.2" font-size="7.4" font-weight="bold" textLength="19.1" lengthAdjust="spacingAndGlyphs" fill="#111" stroke="#111" stroke-width="0.2">FCZ-P8</text><text x="102.41" y="435.2" font-size="7.4" font-weight="bold" textLength="16.5" lengthAdjust="spacingAndGlyphs" fill="#111" stroke="#111" stroke-width="0.2">C3-P6</text><text x="128.28" y="435.2" font-size="7.4" font-weight="bold" textLength="19.6" lengthAdjust="spacingAndGlyphs" fill="#111" stroke="#111" stroke-width="0.2">CP6-P2</text><text x="152.80" y="435.2" font-size="7.4" font-weight="bold" textLength="25.4" lengthAdjust="spacingAndGlyphs" fill="#111" stroke="#111" stroke-width="0.2">CP6-PO6</text><text x="182.57" y="435.2" font-size="7.4" font-weight="bold" textLength="20.7" lengthAdjust="spacingAndGlyphs" fill="#111" stroke="#111" stroke-width="0.2">TP8-PZ</text><text x="210.34" y="435.2" font-size="7.4" font-weight="bold" textLength="20.0" lengthAdjust="spacingAndGlyphs" fill="#111" stroke="#111" stroke-width="0.2">TP8-P2</text><text x="237.16" y="435.2" font-size="7.4" font-weight="bold" textLength="21.2" lengthAdjust="spacingAndGlyphs" fill="#111" stroke="#111" stroke-width="0.2">PZ-PO6</text><text x="264.93" y="435.2" font-size="7.4" font-weight="bold" textLength="20.5" lengthAdjust="spacingAndGlyphs" fill="#111" stroke="#111" stroke-width="0.2">P2-PO6</text><text x="292.05" y="435.2" font-size="7.4" font-weight="bold" textLength="21.1" lengthAdjust="spacingAndGlyphs" fill="#111" stroke="#111" stroke-width="0.2">P4-PO4</text><text x="316.42" y="435.2" font-size="7.4" font-weight="bold" textLength="27.2" lengthAdjust="spacingAndGlyphs" fill="#111" stroke="#111" stroke-width="0.2">PO4-PO6</text><text x="170.5" y="444.8" font-size="8.6" font-weight="bold" textLength="47" lengthAdjust="spacingAndGlyphs" fill="#111" stroke="#111" stroke-width="0.3">Electrode Pair</text><text transform="translate(15.9,371) rotate(-90)" x="0" y="0" font-size="7.6" font-weight="bold" textLength="96.4" lengthAdjust="spacingAndGlyphs" fill="#111" stroke="#111" stroke-width="0.2">Phase Locking Value (PLV)</text><rect x="55.20" y="281.7" width="5.1" height="1.45" rx="0.5" fill="#000"/><circle cx="57.40" cy="278.4" r="1.2" fill="#000"/><rect x="81.30" y="281.7" width="5.1" height="1.45" rx="0.5" fill="#000"/><circle cx="83.50" cy="278.4" r="1.2" fill="#000"/><rect x="107.70" y="281.7" width="5.1" height="1.45" rx="0.5" fill="#000"/><circle cx="108.20" cy="278.4" r="1.2" fill="#000"/><circle cx="111.60" cy="278.4" r="1.2" fill="#000"/><rect x="134.20" y="281.7" width="5.1" height="1.45" rx="0.5" fill="#000"/><circle cx="136.40" cy="278.4" r="1.2" fill="#000"/><rect x="161.80" y="281.7" width="5.1" height="1.45" rx="0.5" fill="#000"/><circle cx="164.00" cy="278.4" r="1.2" fill="#000"/><rect x="189.70" y="281.7" width="5.1" height="1.45" rx="0.5" fill="#000"/><circle cx="191.90" cy="278.4" r="1.2" fill="#000"/><rect x="216.20" y="281.7" width="5.1" height="1.45" rx="0.5" fill="#000"/><circle cx="218.40" cy="278.4" r="1.2" fill="#000"/><rect x="243.00" y="281.7" width="5.1" height="1.45" rx="0.5" fill="#000"/><circle cx="243.50" cy="278.4" r="1.2" fill="#000"/><circle cx="246.90" cy="278.4" r="1.2" fill="#000"/><rect x="271.20" y="281.7" width="5.1" height="1.45" rx="0.5" fill="#000"/><circle cx="271.70" cy="278.4" r="1.2" fill="#000"/><circle cx="275.10" cy="278.4" r="1.2" fill="#000"/><rect x="299.60" y="281.7" width="5.1" height="1.45" rx="0.5" fill="#000"/><circle cx="301.80" cy="278.4" r="1.2" fill="#000"/><rect x="327.10" y="281.7" width="5.1" height="1.45" rx="0.5" fill="#000"/><circle cx="329.30" cy="278.4" r="1.2" fill="#000"/><rect x="325.3" y="224" width="29.2" height="17" fill="#fff" stroke="#c8c8c8" stroke-width="0.7"/><rect x="327.5" y="225.3" width="9" height="5.6" fill="#2d2a8c" stroke="#111" stroke-width="0.4"/><rect x="327.5" y="233.8" width="9" height="5.4" fill="#f7f700" stroke="#333" stroke-width="0.4"/><text x="337.8" y="230.6" font-size="6.2" font-weight="bold" textLength="15.4" lengthAdjust="spacingAndGlyphs" fill="#000" stroke="#000" stroke-width="0.2">FF_CC</text><text x="337.8" y="239" font-size="6.2" font-weight="bold" textLength="15.4" lengthAdjust="spacingAndGlyphs" fill="#000" stroke="#000" stroke-width="0.2">FF_DD</text><text x="0.5" y="226" font-size="16.3" font-weight="bold" textLength="10" lengthAdjust="spacingAndGlyphs" fill="#000">B</text>
</svg>
</body></html>
